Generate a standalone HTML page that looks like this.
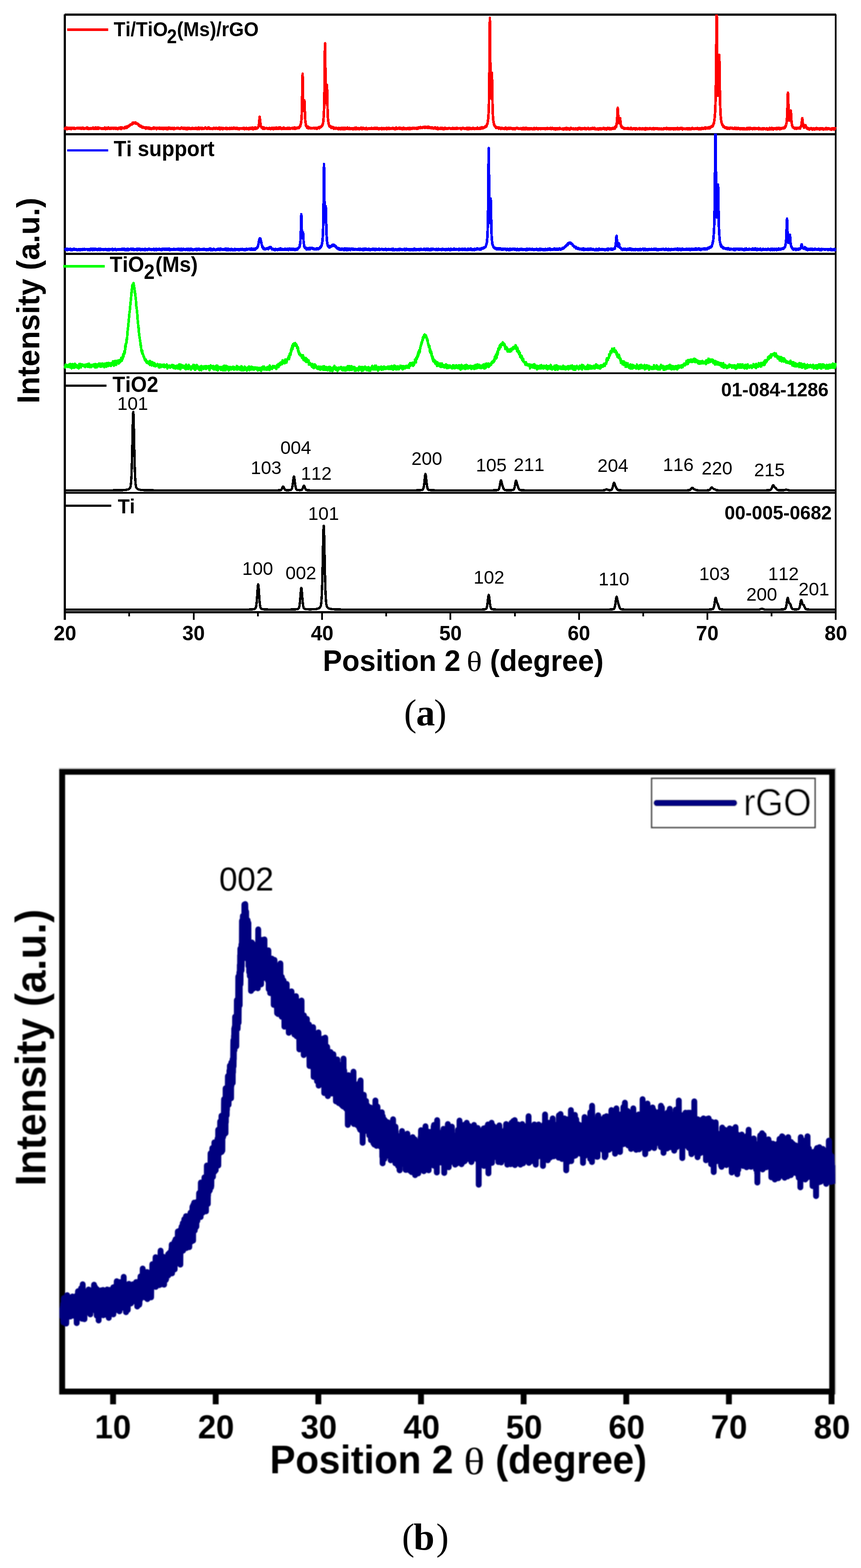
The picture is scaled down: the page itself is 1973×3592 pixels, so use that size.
<!DOCTYPE html>
<html lang="en"><head><meta charset="utf-8"><title>XRD patterns</title>
<style>
html,body{margin:0;padding:0;background:#fff;}
body{width:1973px;height:3592px;overflow:hidden;}
svg{display:block;position:absolute;left:0;top:0;}
text{fill:#000;font-kerning:none;}
.b{font-family:"Liberation Sans",sans-serif;font-weight:bold;}
.r{font-family:"Liberation Sans",sans-serif;font-weight:normal;}
.s{font-family:"Liberation Serif",serif;}
</style></head>
<body>
<svg width="1973" height="3592" viewBox="0 0 1973 3592">
<defs><filter id="blur" x="-2%" y="-2%" width="104%" height="104%"><feGaussianBlur stdDeviation="1.1"/></filter></defs>
<rect x="0" y="0" width="1973" height="3592" fill="#fff"/>
<g id="figA">
<g fill="#000" shape-rendering="crispEdges">
<rect x="146" y="33" width="5" height="1387"/>
<rect x="1913" y="33" width="4" height="1387"/>
<rect x="148" y="31" width="1768" height="5"/>
<rect x="148" y="305" width="1767" height="5"/>
<rect x="148" y="579" width="1767" height="5"/>
<rect x="148" y="853" width="1767" height="4"/>
<rect x="148" y="1127" width="1767" height="4"/>
<rect x="148" y="1400" width="1767" height="5"/>
<rect x="294" y="1402" width="4" height="10"/>
<rect x="442" y="1402" width="4" height="18"/>
<rect x="589" y="1402" width="4" height="10"/>
<rect x="736" y="1402" width="4" height="18"/>
<rect x="883" y="1402" width="4" height="10"/>
<rect x="1030" y="1402" width="4" height="18"/>
<rect x="1178" y="1402" width="4" height="10"/>
<rect x="1325" y="1402" width="4" height="18"/>
<rect x="1472" y="1402" width="4" height="10"/>
<rect x="1619" y="1402" width="4" height="18"/>
<rect x="1766" y="1402" width="4" height="10"/>
</g>
<clipPath id="c1"><rect x="146" y="33" width="1771" height="275"/></clipPath>
<path d="M148.5,292.8 L149.0,295.1 L149.5,293.2 L150.0,293.8 L150.5,293.9 L151.0,293.3 L151.5,292.8 L152.0,294.5 L152.5,294.3 L153.0,292.3 L153.5,296.0 L154.0,294.8 L154.5,293.3 L155.0,294.7 L155.5,293.6 L156.0,293.9 L156.5,294.6 L157.0,292.9 L157.5,294.5 L158.0,295.2 L158.5,295.1 L159.0,293.7 L159.5,294.7 L160.0,292.6 L160.5,293.8 L161.0,294.4 L161.5,292.8 L162.0,293.9 L162.5,295.4 L163.0,296.0 L163.5,294.6 L164.0,294.7 L164.5,293.2 L165.0,293.0 L165.5,292.8 L166.0,294.4 L166.5,294.6 L167.0,293.4 L167.5,292.9 L168.0,294.2 L168.5,294.2 L169.0,293.9 L169.5,295.1 L170.0,293.9 L170.5,293.9 L171.0,293.0 L171.5,294.1 L172.0,295.1 L172.5,294.0 L173.0,294.0 L173.5,294.4 L174.0,294.2 L174.5,294.4 L175.0,294.4 L175.5,294.5 L176.0,293.3 L176.5,294.2 L177.0,292.6 L177.5,294.2 L178.0,292.9 L178.5,293.9 L179.0,294.4 L179.5,293.6 L180.0,294.1 L180.5,292.6 L181.0,293.3 L181.5,294.6 L182.0,293.0 L182.5,294.5 L183.0,292.8 L183.5,293.2 L184.0,293.1 L184.5,294.0 L185.0,294.4 L185.5,293.1 L186.0,293.8 L186.5,295.4 L187.0,293.7 L187.5,293.3 L188.0,294.3 L188.5,293.8 L189.0,293.4 L189.5,292.5 L190.0,294.7 L190.5,293.5 L191.0,294.0 L191.5,293.1 L192.0,295.1 L192.5,294.6 L193.0,294.8 L193.5,293.9 L194.0,294.4 L194.5,294.7 L195.0,294.9 L195.5,294.3 L196.0,293.9 L196.5,293.7 L197.0,293.4 L197.5,293.2 L198.0,294.3 L198.5,293.8 L199.0,292.3 L199.5,293.9 L200.0,294.9 L200.5,293.8 L201.0,292.4 L201.5,293.9 L202.0,294.7 L202.5,294.2 L203.0,293.6 L203.5,295.6 L204.0,295.6 L204.5,293.9 L205.0,294.7 L205.5,294.3 L206.0,294.6 L206.5,295.2 L207.0,294.7 L207.5,294.1 L208.0,293.4 L208.5,293.3 L209.0,294.0 L209.5,295.0 L210.0,294.2 L210.5,294.0 L211.0,294.2 L211.5,294.0 L212.0,294.4 L212.5,293.0 L213.0,292.3 L213.5,293.6 L214.0,293.0 L214.5,295.4 L215.0,293.8 L215.5,293.8 L216.0,292.7 L216.5,294.2 L217.0,293.4 L217.5,294.9 L218.0,294.7 L218.5,293.3 L219.0,294.3 L219.5,291.9 L220.0,293.4 L220.5,295.0 L221.0,294.6 L221.5,294.1 L222.0,294.0 L222.5,292.8 L223.0,292.8 L223.5,294.2 L224.0,295.5 L224.5,292.1 L225.0,294.5 L225.5,294.5 L226.0,294.8 L226.5,293.2 L227.0,293.5 L227.5,294.0 L228.0,293.1 L228.5,292.9 L229.0,293.2 L229.5,293.9 L230.0,294.3 L230.5,293.9 L231.0,294.0 L231.5,293.4 L232.0,293.4 L232.5,294.9 L233.0,293.9 L233.5,293.9 L234.0,294.8 L234.5,295.0 L235.0,295.0 L235.5,294.3 L236.0,293.9 L236.5,294.2 L237.0,294.1 L237.5,295.1 L238.0,294.2 L238.5,294.5 L239.0,293.9 L239.5,295.1 L240.0,292.2 L240.5,294.3 L241.0,294.6 L241.5,293.0 L242.0,295.8 L242.5,293.8 L243.0,293.8 L243.5,293.0 L244.0,294.7 L244.5,294.1 L245.0,293.4 L245.5,294.1 L246.0,294.5 L246.5,295.0 L247.0,294.1 L247.5,293.1 L248.0,293.5 L248.5,292.0 L249.0,293.3 L249.5,294.5 L250.0,294.3 L250.5,293.8 L251.0,293.6 L251.5,295.3 L252.0,294.1 L252.5,294.7 L253.0,294.2 L253.5,293.3 L254.0,295.2 L254.5,292.8 L255.0,292.9 L255.5,293.5 L256.0,293.3 L256.5,293.4 L257.0,293.4 L257.5,294.7 L258.0,293.9 L258.5,294.2 L259.0,292.5 L259.5,293.1 L260.0,294.8 L260.5,292.8 L261.0,294.9 L261.5,293.0 L262.0,294.1 L262.5,293.1 L263.0,294.0 L263.5,293.1 L264.0,293.6 L264.5,295.2 L265.0,293.5 L265.5,295.5 L266.0,293.4 L266.5,292.8 L267.0,293.9 L267.5,293.4 L268.0,295.3 L268.5,294.5 L269.0,294.8 L269.5,294.3 L270.0,295.8 L270.5,294.4 L271.0,294.2 L271.5,293.0 L272.0,292.9 L272.5,293.9 L273.0,294.5 L273.5,294.6 L274.0,292.9 L274.5,294.1 L275.0,293.8 L275.5,292.7 L276.0,294.0 L276.5,291.6 L277.0,293.8 L277.5,295.6 L278.0,292.6 L278.5,293.5 L279.0,291.8 L279.5,292.8 L280.0,294.0 L280.5,292.5 L281.0,293.3 L281.5,293.0 L282.0,292.9 L282.5,293.3 L283.0,293.5 L283.5,294.1 L284.0,293.7 L284.5,292.4 L285.0,294.0 L285.5,293.8 L286.0,291.3 L286.5,293.0 L287.0,293.1 L287.5,293.1 L288.0,292.6 L288.5,290.9 L289.0,291.6 L289.5,289.9 L290.0,291.3 L290.5,293.0 L291.0,291.7 L291.5,291.6 L292.0,290.2 L292.5,289.6 L293.0,289.3 L293.5,290.0 L294.0,289.0 L294.5,288.8 L295.0,290.1 L295.5,287.4 L296.0,287.4 L296.5,287.7 L297.0,287.7 L297.5,287.4 L298.0,286.0 L298.5,287.0 L299.0,286.4 L299.5,286.4 L300.0,284.8 L300.5,285.6 L301.0,285.3 L301.5,284.2 L302.0,284.2 L302.5,283.6 L303.0,284.9 L303.5,281.4 L304.0,281.9 L304.5,281.5 L305.0,282.3 L305.5,281.9 L306.0,281.9 L306.5,282.7 L307.0,280.6 L307.5,281.1 L308.0,281.6 L308.5,280.7 L309.0,282.0 L309.5,282.0 L310.0,281.2 L310.5,280.4 L311.0,283.4 L311.5,282.5 L312.0,282.7 L312.5,282.6 L313.0,282.8 L313.5,283.7 L314.0,283.3 L314.5,283.0 L315.0,284.5 L315.5,284.3 L316.0,283.9 L316.5,284.1 L317.0,286.2 L317.5,286.1 L318.0,287.6 L318.5,285.8 L319.0,286.0 L319.5,287.3 L320.0,288.5 L320.5,288.2 L321.0,288.3 L321.5,289.9 L322.0,288.0 L322.5,287.9 L323.0,288.6 L323.5,289.2 L324.0,290.1 L324.5,290.9 L325.0,290.6 L325.5,291.8 L326.0,290.1 L326.5,292.6 L327.0,290.5 L327.5,292.4 L328.0,290.8 L328.5,292.0 L329.0,291.9 L329.5,292.5 L330.0,292.8 L330.5,292.1 L331.0,292.4 L331.5,292.8 L332.0,291.6 L332.5,292.1 L333.0,291.5 L333.5,292.9 L334.0,294.9 L334.5,293.7 L335.0,292.4 L335.5,292.6 L336.0,294.1 L336.5,292.9 L337.0,292.0 L337.5,292.5 L338.0,292.5 L338.5,292.6 L339.0,294.1 L339.5,293.6 L340.0,292.3 L340.5,293.1 L341.0,292.6 L341.5,292.6 L342.0,292.4 L342.5,295.2 L343.0,293.4 L343.5,294.2 L344.0,294.5 L344.5,293.4 L345.0,294.2 L345.5,294.2 L346.0,294.0 L346.5,295.6 L347.0,294.0 L347.5,293.6 L348.0,294.4 L348.5,295.3 L349.0,294.7 L349.5,293.4 L350.0,293.1 L350.5,293.1 L351.0,293.3 L351.5,294.2 L352.0,294.6 L352.5,291.9 L353.0,293.9 L353.5,292.9 L354.0,294.5 L354.5,294.7 L355.0,293.2 L355.5,293.5 L356.0,293.1 L356.5,294.2 L357.0,292.5 L357.5,293.0 L358.0,293.3 L358.5,295.0 L359.0,296.0 L359.5,294.0 L360.0,292.9 L360.5,294.0 L361.0,293.2 L361.5,294.3 L362.0,293.0 L362.5,293.6 L363.0,294.0 L363.5,294.4 L364.0,293.9 L364.5,295.0 L365.0,294.1 L365.5,292.4 L366.0,294.8 L366.5,293.7 L367.0,293.4 L367.5,295.3 L368.0,293.1 L368.5,294.1 L369.0,293.4 L369.5,295.2 L370.0,293.7 L370.5,294.2 L371.0,292.8 L371.5,295.2 L372.0,293.1 L372.5,294.8 L373.0,295.0 L373.5,295.1 L374.0,295.6 L374.5,293.0 L375.0,294.4 L375.5,294.1 L376.0,294.4 L376.5,295.0 L377.0,294.1 L377.5,293.3 L378.0,294.0 L378.5,295.3 L379.0,293.0 L379.5,294.1 L380.0,293.2 L380.5,295.0 L381.0,292.6 L381.5,293.8 L382.0,293.9 L382.5,294.2 L383.0,296.1 L383.5,295.4 L384.0,293.2 L384.5,295.9 L385.0,293.0 L385.5,292.5 L386.0,292.8 L386.5,294.2 L387.0,294.5 L387.5,292.2 L388.0,294.4 L388.5,293.8 L389.0,294.7 L389.5,293.7 L390.0,294.8 L390.5,294.6 L391.0,293.1 L391.5,295.3 L392.0,294.3 L392.5,294.7 L393.0,295.2 L393.5,293.3 L394.0,294.0 L394.5,293.4 L395.0,293.3 L395.5,294.3 L396.0,294.4 L396.5,295.2 L397.0,295.3 L397.5,294.1 L398.0,293.4 L398.5,296.1 L399.0,295.9 L399.5,294.0 L400.0,293.3 L400.5,293.7 L401.0,294.3 L401.5,295.1 L402.0,294.9 L402.5,294.5 L403.0,293.9 L403.5,294.2 L404.0,293.8 L404.5,294.2 L405.0,294.0 L405.5,294.6 L406.0,292.5 L406.5,293.8 L407.0,293.9 L407.5,293.2 L408.0,294.0 L408.5,293.2 L409.0,293.5 L409.5,293.9 L410.0,293.9 L410.5,293.6 L411.0,295.1 L411.5,294.3 L412.0,294.4 L412.5,294.3 L413.0,293.6 L413.5,293.4 L414.0,294.8 L414.5,293.8 L415.0,292.6 L415.5,292.3 L416.0,294.3 L416.5,293.5 L417.0,294.1 L417.5,293.7 L418.0,293.8 L418.5,294.0 L419.0,293.1 L419.5,294.1 L420.0,295.0 L420.5,294.7 L421.0,292.7 L421.5,293.0 L422.0,293.0 L422.5,293.9 L423.0,294.9 L423.5,294.4 L424.0,292.6 L424.5,294.2 L425.0,294.8 L425.5,293.8 L426.0,295.8 L426.5,293.6 L427.0,295.1 L427.5,296.1 L428.0,293.1 L428.5,293.9 L429.0,294.6 L429.5,296.2 L430.0,292.6 L430.5,294.6 L431.0,294.4 L431.5,293.8 L432.0,293.4 L432.5,293.7 L433.0,293.9 L433.5,293.1 L434.0,295.5 L434.5,293.2 L435.0,293.8 L435.5,293.6 L436.0,293.8 L436.5,294.2 L437.0,293.5 L437.5,294.0 L438.0,295.6 L438.5,295.1 L439.0,293.9 L439.5,294.9 L440.0,293.5 L440.5,294.3 L441.0,292.9 L441.5,293.2 L442.0,293.4 L442.5,295.2 L443.0,294.4 L443.5,294.6 L444.0,294.3 L444.5,294.5 L445.0,294.5 L445.5,294.8 L446.0,294.3 L446.5,293.4 L447.0,293.5 L447.5,295.2 L448.0,295.4 L448.5,294.6 L449.0,292.8 L449.5,295.5 L450.0,294.4 L450.5,294.1 L451.0,294.2 L451.5,293.8 L452.0,295.7 L452.5,295.6 L453.0,293.3 L453.5,294.0 L454.0,294.4 L454.5,295.3 L455.0,292.1 L455.5,295.0 L456.0,295.6 L456.5,293.9 L457.0,294.1 L457.5,295.2 L458.0,294.5 L458.5,293.0 L459.0,293.2 L459.5,293.3 L460.0,293.0 L460.5,294.2 L461.0,293.7 L461.5,294.2 L462.0,294.8 L462.5,295.7 L463.0,294.3 L463.5,292.6 L464.0,295.3 L464.5,294.1 L465.0,295.2 L465.5,293.8 L466.0,294.4 L466.5,294.1 L467.0,294.1 L467.5,295.3 L468.0,293.6 L468.5,294.3 L469.0,294.4 L469.5,293.8 L470.0,292.3 L470.5,294.5 L471.0,292.1 L471.5,292.9 L472.0,293.8 L472.5,294.5 L473.0,294.9 L473.5,294.9 L474.0,294.7 L474.5,293.9 L475.0,295.2 L475.5,293.9 L476.0,295.1 L476.5,292.3 L477.0,293.4 L477.5,293.7 L478.0,294.2 L478.5,292.1 L479.0,294.9 L479.5,295.0 L480.0,294.8 L480.5,293.7 L481.0,295.4 L481.5,293.7 L482.0,295.0 L482.5,294.1 L483.0,294.2 L483.5,294.0 L484.0,294.2 L484.5,295.1 L485.0,295.4 L485.5,295.4 L486.0,295.0 L486.5,294.8 L487.0,294.6 L487.5,295.7 L488.0,293.8 L488.5,293.6 L489.0,294.2 L489.5,292.8 L490.0,294.0 L490.5,294.1 L491.0,293.3 L491.5,293.7 L492.0,294.8 L492.5,294.0 L493.0,294.3 L493.5,295.1 L494.0,293.7 L494.5,293.2 L495.0,294.2 L495.5,294.5 L496.0,292.6 L496.5,294.7 L497.0,293.9 L497.5,293.8 L498.0,293.5 L498.5,294.0 L499.0,295.0 L499.5,294.6 L500.0,294.9 L500.5,293.9 L501.0,295.5 L501.5,295.3 L502.0,294.2 L502.5,292.2 L503.0,294.2 L503.5,296.2 L504.0,294.2 L504.5,293.3 L505.0,295.7 L505.5,293.7 L506.0,294.6 L506.5,294.9 L507.0,292.9 L507.5,294.3 L508.0,295.2 L508.5,293.9 L509.0,294.8 L509.5,294.2 L510.0,295.1 L510.5,295.8 L511.0,293.3 L511.5,294.0 L512.0,294.5 L512.5,293.7 L513.0,293.5 L513.5,293.9 L514.0,294.0 L514.5,293.7 L515.0,294.5 L515.5,294.9 L516.0,294.8 L516.5,294.8 L517.0,295.2 L517.5,293.1 L518.0,294.1 L518.5,294.4 L519.0,294.7 L519.5,292.8 L520.0,295.8 L520.5,293.5 L521.0,294.4 L521.5,294.8 L522.0,295.1 L522.5,293.6 L523.0,293.8 L523.5,294.5 L524.0,294.7 L524.5,295.0 L525.0,294.2 L525.5,293.6 L526.0,293.1 L526.5,295.7 L527.0,293.0 L527.5,294.8 L528.0,294.5 L528.5,294.9 L529.0,295.0 L529.5,295.4 L530.0,294.2 L530.5,294.6 L531.0,292.6 L531.5,294.3 L532.0,293.4 L532.5,294.1 L533.0,295.3 L533.5,294.3 L534.0,295.1 L534.5,294.1 L535.0,294.6 L535.5,293.9 L536.0,292.2 L536.5,293.6 L537.0,294.0 L537.5,294.4 L538.0,294.2 L538.5,294.1 L539.0,295.0 L539.5,294.8 L540.0,293.9 L540.5,295.0 L541.0,292.5 L541.5,294.0 L542.0,294.1 L542.5,295.3 L543.0,293.8 L543.5,293.0 L544.0,294.4 L544.5,295.7 L545.0,294.0 L545.5,294.1 L546.0,294.1 L546.5,294.3 L547.0,295.3 L547.5,295.9 L548.0,294.6 L548.5,294.1 L549.0,295.8 L549.5,294.3 L550.0,294.3 L550.5,293.9 L551.0,294.0 L551.5,294.4 L552.0,294.0 L552.5,294.6 L553.0,294.3 L553.5,294.7 L554.0,293.9 L554.5,294.1 L555.0,294.4 L555.5,294.3 L556.0,294.3 L556.5,295.2 L557.0,293.3 L557.5,292.6 L558.0,294.8 L558.5,294.0 L559.0,295.4 L559.5,294.1 L560.0,293.2 L560.5,296.1 L561.0,294.6 L561.5,293.8 L562.0,293.6 L562.5,294.7 L563.0,293.6 L563.5,294.5 L564.0,295.2 L564.5,293.0 L565.0,293.9 L565.5,294.6 L566.0,295.6 L566.5,295.0 L567.0,293.8 L567.5,295.4 L568.0,293.9 L568.5,294.1 L569.0,294.5 L569.5,293.3 L570.0,296.2 L570.5,295.2 L571.0,294.4 L571.5,293.7 L572.0,293.2 L572.5,294.5 L573.0,294.8 L573.5,293.8 L574.0,294.0 L574.5,294.6 L575.0,294.1 L575.5,292.6 L576.0,294.7 L576.5,294.3 L577.0,294.7 L577.5,293.5 L578.0,292.3 L578.5,293.0 L579.0,294.3 L579.5,295.8 L580.0,296.1 L580.5,294.3 L581.0,292.8 L581.5,293.7 L582.0,294.4 L582.5,294.3 L583.0,294.0 L583.5,295.1 L584.0,293.1 L584.5,292.0 L585.0,293.1 L585.5,292.8 L586.0,295.6 L586.5,293.5 L587.0,292.4 L587.5,294.0 L588.0,294.2 L588.5,293.3 L589.0,293.3 L589.5,293.8 L590.0,293.1 L590.5,291.7 L591.0,292.3 L591.5,292.0 L592.0,290.6 L592.5,289.7 L593.0,287.4 L593.5,283.5 L594.0,278.6 L594.5,272.8 L595.0,267.3 L595.5,270.9 L596.0,277.3 L596.5,280.2 L597.0,285.7 L597.5,287.6 L598.0,289.3 L598.5,291.0 L599.0,291.4 L599.5,292.6 L600.0,292.8 L600.5,293.1 L601.0,292.4 L601.5,292.9 L602.0,294.6 L602.5,291.4 L603.0,295.0 L603.5,293.2 L604.0,294.7 L604.5,291.7 L605.0,293.4 L605.5,294.6 L606.0,294.0 L606.5,294.8 L607.0,293.2 L607.5,293.5 L608.0,293.4 L608.5,294.4 L609.0,294.4 L609.5,293.9 L610.0,293.8 L610.5,293.8 L611.0,294.1 L611.5,293.3 L612.0,294.0 L612.5,294.0 L613.0,293.7 L613.5,293.6 L614.0,295.4 L614.5,293.6 L615.0,294.5 L615.5,295.3 L616.0,294.8 L616.5,294.2 L617.0,295.0 L617.5,292.9 L618.0,293.1 L618.5,293.8 L619.0,294.0 L619.5,294.1 L620.0,295.8 L620.5,295.6 L621.0,294.1 L621.5,294.4 L622.0,293.4 L622.5,294.5 L623.0,293.0 L623.5,295.4 L624.0,293.7 L624.5,294.7 L625.0,293.1 L625.5,295.4 L626.0,294.7 L626.5,295.9 L627.0,294.3 L627.5,292.8 L628.0,293.5 L628.5,293.1 L629.0,295.5 L629.5,293.7 L630.0,293.6 L630.5,294.7 L631.0,294.4 L631.5,294.6 L632.0,293.8 L632.5,292.5 L633.0,293.0 L633.5,292.3 L634.0,295.3 L634.5,295.0 L635.0,293.9 L635.5,294.7 L636.0,294.8 L636.5,294.7 L637.0,294.6 L637.5,294.9 L638.0,294.3 L638.5,292.3 L639.0,292.2 L639.5,295.3 L640.0,294.7 L640.5,292.1 L641.0,294.3 L641.5,293.4 L642.0,293.7 L642.5,292.1 L643.0,294.8 L643.5,294.1 L644.0,294.9 L644.5,295.1 L645.0,295.3 L645.5,295.6 L646.0,294.4 L646.5,294.4 L647.0,293.6 L647.5,294.6 L648.0,294.0 L648.5,293.2 L649.0,295.2 L649.5,294.8 L650.0,292.1 L650.5,292.6 L651.0,294.0 L651.5,293.0 L652.0,295.2 L652.5,294.3 L653.0,294.6 L653.5,294.9 L654.0,295.3 L654.5,293.9 L655.0,294.7 L655.5,294.3 L656.0,294.8 L656.5,294.6 L657.0,295.3 L657.5,294.6 L658.0,293.7 L658.5,294.2 L659.0,293.1 L659.5,294.4 L660.0,295.4 L660.5,293.6 L661.0,292.7 L661.5,294.0 L662.0,293.6 L662.5,294.1 L663.0,293.5 L663.5,294.1 L664.0,293.2 L664.5,295.4 L665.0,293.8 L665.5,294.4 L666.0,294.7 L666.5,293.9 L667.0,294.4 L667.5,293.8 L668.0,293.6 L668.5,293.7 L669.0,294.3 L669.5,292.8 L670.0,293.1 L670.5,293.2 L671.0,293.4 L671.5,294.8 L672.0,293.8 L672.5,293.5 L673.0,293.9 L673.5,294.7 L674.0,293.1 L674.5,294.6 L675.0,291.7 L675.5,292.9 L676.0,294.9 L676.5,294.9 L677.0,293.7 L677.5,293.1 L678.0,294.1 L678.5,293.0 L679.0,294.6 L679.5,294.2 L680.0,293.8 L680.5,292.4 L681.0,293.8 L681.5,292.7 L682.0,292.6 L682.5,292.3 L683.0,292.4 L683.5,292.7 L684.0,292.8 L684.5,292.6 L685.0,293.6 L685.5,291.0 L686.0,291.8 L686.5,289.8 L687.0,289.6 L687.5,288.1 L688.0,289.2 L688.5,287.2 L689.0,285.6 L689.5,283.3 L690.0,281.2 L690.5,275.8 L691.0,270.1 L691.5,261.4 L692.0,242.5 L692.5,214.9 L693.0,180.7 L693.5,169.1 L694.0,192.7 L694.5,222.8 L695.0,242.7 L695.5,253.2 L696.0,254.4 L696.5,252.2 L697.0,239.0 L697.5,229.9 L698.0,237.3 L698.5,252.3 L699.0,265.6 L699.5,274.8 L700.0,280.2 L700.5,282.5 L701.0,287.2 L701.5,287.8 L702.0,289.6 L702.5,290.4 L703.0,289.9 L703.5,292.6 L704.0,291.2 L704.5,289.8 L705.0,289.7 L705.5,292.0 L706.0,292.9 L706.5,292.4 L707.0,294.0 L707.5,292.4 L708.0,293.2 L708.5,293.5 L709.0,292.1 L709.5,293.3 L710.0,293.4 L710.5,294.1 L711.0,294.2 L711.5,294.1 L712.0,292.6 L712.5,294.0 L713.0,294.3 L713.5,293.4 L714.0,294.1 L714.5,294.1 L715.0,294.5 L715.5,293.5 L716.0,293.9 L716.5,293.7 L717.0,293.6 L717.5,293.0 L718.0,293.2 L718.5,292.6 L719.0,293.3 L719.5,294.1 L720.0,294.0 L720.5,294.1 L721.0,293.4 L721.5,294.7 L722.0,293.1 L722.5,294.1 L723.0,293.8 L723.5,292.8 L724.0,292.8 L724.5,294.0 L725.0,293.4 L725.5,293.5 L726.0,295.2 L726.5,293.7 L727.0,293.3 L727.5,293.7 L728.0,292.5 L728.5,292.8 L729.0,293.3 L729.5,292.2 L730.0,292.7 L730.5,292.5 L731.0,292.7 L731.5,290.9 L732.0,293.8 L732.5,292.1 L733.0,292.5 L733.5,290.9 L734.0,290.5 L734.5,291.4 L735.0,290.8 L735.5,291.3 L736.0,289.6 L736.5,289.1 L737.0,289.7 L737.5,289.4 L738.0,288.8 L738.5,287.0 L739.0,286.1 L739.5,283.7 L740.0,283.5 L740.5,280.8 L741.0,277.3 L741.5,270.0 L742.0,264.8 L742.5,252.3 L743.0,235.5 L743.5,206.0 L744.0,160.4 L744.5,107.3 L745.0,99.3 L745.5,143.9 L746.0,190.1 L746.5,220.0 L747.0,232.6 L747.5,236.8 L748.0,228.6 L748.5,210.9 L749.0,194.0 L749.5,199.6 L750.0,223.6 L750.5,247.0 L751.0,261.7 L751.5,271.3 L752.0,275.9 L752.5,280.0 L753.0,283.0 L753.5,285.6 L754.0,287.2 L754.5,287.2 L755.0,290.0 L755.5,289.6 L756.0,289.2 L756.5,289.0 L757.0,290.3 L757.5,289.1 L758.0,291.6 L758.5,292.1 L759.0,293.0 L759.5,292.5 L760.0,290.8 L760.5,292.2 L761.0,293.2 L761.5,290.9 L762.0,292.1 L762.5,293.4 L763.0,293.0 L763.5,291.4 L764.0,292.7 L764.5,293.2 L765.0,295.1 L765.5,293.0 L766.0,292.6 L766.5,293.7 L767.0,293.8 L767.5,294.0 L768.0,294.8 L768.5,293.6 L769.0,292.5 L769.5,293.7 L770.0,293.7 L770.5,294.6 L771.0,294.5 L771.5,293.2 L772.0,294.5 L772.5,294.7 L773.0,293.7 L773.5,294.7 L774.0,294.1 L774.5,294.1 L775.0,293.8 L775.5,294.7 L776.0,296.0 L776.5,294.2 L777.0,293.0 L777.5,293.8 L778.0,293.6 L778.5,294.3 L779.0,294.0 L779.5,296.1 L780.0,294.7 L780.5,295.7 L781.0,293.5 L781.5,293.9 L782.0,295.9 L782.5,292.7 L783.0,294.3 L783.5,292.8 L784.0,295.5 L784.5,293.0 L785.0,293.9 L785.5,294.0 L786.0,292.8 L786.5,296.2 L787.0,294.1 L787.5,295.6 L788.0,293.6 L788.5,293.0 L789.0,294.4 L789.5,294.4 L790.0,296.2 L790.5,293.3 L791.0,292.9 L791.5,293.7 L792.0,294.5 L792.5,294.7 L793.0,293.6 L793.5,294.0 L794.0,294.7 L794.5,295.2 L795.0,293.8 L795.5,294.4 L796.0,292.2 L796.5,293.5 L797.0,294.7 L797.5,294.3 L798.0,294.1 L798.5,295.7 L799.0,294.1 L799.5,293.4 L800.0,294.5 L800.5,294.5 L801.0,293.3 L801.5,295.2 L802.0,295.8 L802.5,293.8 L803.0,293.6 L803.5,294.3 L804.0,295.4 L804.5,293.9 L805.0,293.7 L805.5,293.8 L806.0,294.5 L806.5,294.5 L807.0,294.2 L807.5,295.4 L808.0,296.3 L808.5,293.9 L809.0,295.2 L809.5,294.6 L810.0,296.4 L810.5,293.6 L811.0,294.1 L811.5,294.5 L812.0,293.2 L812.5,294.2 L813.0,295.0 L813.5,293.1 L814.0,294.5 L814.5,295.9 L815.0,293.9 L815.5,293.6 L816.0,292.3 L816.5,294.3 L817.0,293.0 L817.5,294.9 L818.0,295.8 L818.5,294.9 L819.0,293.7 L819.5,294.9 L820.0,294.0 L820.5,293.4 L821.0,294.0 L821.5,294.6 L822.0,294.1 L822.5,294.8 L823.0,296.2 L823.5,294.9 L824.0,295.0 L824.5,293.8 L825.0,295.5 L825.5,294.7 L826.0,295.3 L826.5,293.7 L827.0,294.6 L827.5,292.4 L828.0,294.1 L828.5,293.7 L829.0,293.5 L829.5,295.9 L830.0,293.1 L830.5,294.3 L831.0,294.3 L831.5,294.9 L832.0,295.3 L832.5,293.0 L833.0,293.9 L833.5,293.8 L834.0,295.0 L834.5,295.2 L835.0,294.1 L835.5,293.9 L836.0,293.5 L836.5,294.7 L837.0,295.8 L837.5,294.7 L838.0,293.8 L838.5,293.7 L839.0,293.8 L839.5,293.0 L840.0,295.9 L840.5,294.5 L841.0,294.1 L841.5,296.3 L842.0,294.6 L842.5,295.7 L843.0,294.6 L843.5,295.3 L844.0,294.5 L844.5,294.1 L845.0,294.8 L845.5,295.0 L846.0,295.3 L846.5,294.6 L847.0,294.2 L847.5,294.1 L848.0,294.7 L848.5,294.0 L849.0,294.1 L849.5,294.9 L850.0,294.9 L850.5,294.8 L851.0,293.8 L851.5,293.2 L852.0,294.7 L852.5,294.5 L853.0,294.1 L853.5,294.6 L854.0,295.1 L854.5,294.2 L855.0,294.8 L855.5,293.6 L856.0,294.2 L856.5,293.7 L857.0,293.2 L857.5,294.8 L858.0,292.4 L858.5,294.4 L859.0,295.1 L859.5,294.8 L860.0,293.1 L860.5,294.6 L861.0,292.9 L861.5,293.7 L862.0,295.6 L862.5,294.6 L863.0,295.4 L863.5,293.5 L864.0,292.7 L864.5,293.8 L865.0,295.5 L865.5,295.2 L866.0,295.3 L866.5,294.3 L867.0,294.4 L867.5,294.3 L868.0,296.5 L868.5,294.5 L869.0,295.9 L869.5,294.3 L870.0,295.6 L870.5,293.5 L871.0,294.0 L871.5,294.7 L872.0,293.9 L872.5,294.1 L873.0,294.3 L873.5,294.0 L874.0,295.8 L874.5,295.4 L875.0,293.3 L875.5,295.9 L876.0,294.4 L876.5,294.4 L877.0,294.3 L877.5,295.2 L878.0,295.1 L878.5,294.0 L879.0,294.5 L879.5,293.3 L880.0,296.0 L880.5,293.7 L881.0,293.7 L881.5,293.8 L882.0,294.6 L882.5,295.1 L883.0,294.2 L883.5,294.5 L884.0,294.2 L884.5,295.6 L885.0,294.7 L885.5,293.0 L886.0,295.7 L886.5,294.7 L887.0,296.1 L887.5,293.9 L888.0,294.0 L888.5,294.3 L889.0,293.3 L889.5,294.1 L890.0,295.5 L890.5,295.1 L891.0,292.4 L891.5,295.6 L892.0,294.8 L892.5,295.2 L893.0,294.5 L893.5,294.6 L894.0,294.5 L894.5,294.5 L895.0,293.6 L895.5,295.4 L896.0,294.7 L896.5,294.8 L897.0,294.8 L897.5,294.2 L898.0,294.4 L898.5,293.3 L899.0,294.7 L899.5,294.7 L900.0,294.3 L900.5,293.0 L901.0,295.6 L901.5,294.3 L902.0,294.4 L902.5,294.2 L903.0,294.0 L903.5,294.1 L904.0,293.5 L904.5,294.0 L905.0,296.2 L905.5,295.5 L906.0,296.2 L906.5,293.9 L907.0,292.9 L907.5,293.3 L908.0,292.4 L908.5,295.4 L909.0,295.5 L909.5,294.6 L910.0,294.8 L910.5,294.8 L911.0,294.4 L911.5,295.1 L912.0,293.6 L912.5,294.1 L913.0,294.3 L913.5,293.0 L914.0,293.6 L914.5,294.8 L915.0,294.8 L915.5,292.4 L916.0,295.2 L916.5,294.8 L917.0,295.1 L917.5,294.4 L918.0,295.0 L918.5,293.4 L919.0,294.3 L919.5,293.5 L920.0,294.0 L920.5,295.4 L921.0,295.8 L921.5,294.5 L922.0,294.1 L922.5,295.1 L923.0,294.8 L923.5,296.1 L924.0,295.0 L924.5,292.4 L925.0,294.5 L925.5,294.2 L926.0,293.8 L926.5,294.5 L927.0,294.5 L927.5,294.1 L928.0,295.7 L928.5,294.7 L929.0,294.8 L929.5,294.6 L930.0,295.5 L930.5,293.5 L931.0,295.4 L931.5,294.2 L932.0,295.7 L932.5,295.6 L933.0,294.8 L933.5,294.0 L934.0,294.6 L934.5,294.7 L935.0,293.1 L935.5,294.1 L936.0,293.8 L936.5,295.5 L937.0,295.8 L937.5,293.7 L938.0,293.9 L938.5,293.2 L939.0,294.5 L939.5,295.0 L940.0,295.8 L940.5,293.2 L941.0,295.1 L941.5,294.1 L942.0,293.6 L942.5,293.9 L943.0,293.6 L943.5,294.6 L944.0,294.2 L944.5,295.2 L945.0,293.7 L945.5,292.5 L946.0,293.3 L946.5,294.4 L947.0,292.8 L947.5,293.4 L948.0,294.5 L948.5,292.8 L949.0,294.7 L949.5,294.2 L950.0,293.4 L950.5,293.8 L951.0,293.4 L951.5,293.5 L952.0,293.5 L952.5,293.7 L953.0,293.6 L953.5,293.0 L954.0,292.8 L954.5,295.3 L955.0,292.6 L955.5,293.4 L956.0,294.5 L956.5,294.2 L957.0,292.7 L957.5,295.0 L958.0,294.7 L958.5,292.9 L959.0,292.1 L959.5,293.6 L960.0,292.9 L960.5,292.7 L961.0,292.2 L961.5,292.4 L962.0,293.0 L962.5,293.5 L963.0,291.0 L963.5,290.7 L964.0,293.4 L964.5,291.8 L965.0,293.1 L965.5,292.5 L966.0,293.5 L966.5,293.1 L967.0,292.1 L967.5,292.1 L968.0,292.5 L968.5,292.8 L969.0,291.6 L969.5,290.8 L970.0,292.1 L970.5,292.0 L971.0,291.8 L971.5,291.1 L972.0,292.4 L972.5,290.4 L973.0,291.5 L973.5,293.0 L974.0,290.9 L974.5,292.2 L975.0,292.2 L975.5,292.2 L976.0,290.4 L976.5,292.7 L977.0,292.0 L977.5,292.3 L978.0,292.1 L978.5,291.9 L979.0,292.9 L979.5,293.1 L980.0,290.4 L980.5,291.3 L981.0,291.9 L981.5,290.2 L982.0,293.3 L982.5,291.5 L983.0,292.7 L983.5,292.4 L984.0,292.1 L984.5,291.5 L985.0,292.1 L985.5,292.5 L986.0,293.1 L986.5,292.4 L987.0,292.3 L987.5,292.4 L988.0,293.8 L988.5,293.0 L989.0,292.2 L989.5,291.8 L990.0,292.6 L990.5,292.2 L991.0,292.7 L991.5,294.2 L992.0,293.7 L992.5,293.4 L993.0,293.6 L993.5,294.7 L994.0,292.4 L994.5,293.8 L995.0,293.3 L995.5,293.6 L996.0,293.6 L996.5,293.3 L997.0,294.1 L997.5,291.8 L998.0,293.9 L998.5,294.3 L999.0,293.0 L999.5,293.0 L1000.0,295.4 L1000.5,293.1 L1001.0,293.6 L1001.5,293.3 L1002.0,293.4 L1002.5,293.4 L1003.0,292.2 L1003.5,296.1 L1004.0,293.5 L1004.5,294.4 L1005.0,294.0 L1005.5,295.3 L1006.0,294.7 L1006.5,295.1 L1007.0,295.2 L1007.5,294.9 L1008.0,294.3 L1008.5,295.0 L1009.0,292.9 L1009.5,295.0 L1010.0,294.9 L1010.5,294.6 L1011.0,293.2 L1011.5,295.5 L1012.0,293.8 L1012.5,294.9 L1013.0,292.8 L1013.5,294.2 L1014.0,293.8 L1014.5,293.7 L1015.0,293.8 L1015.5,295.9 L1016.0,294.4 L1016.5,294.7 L1017.0,296.2 L1017.5,293.2 L1018.0,295.7 L1018.5,294.1 L1019.0,293.9 L1019.5,294.1 L1020.0,292.9 L1020.5,293.1 L1021.0,293.5 L1021.5,294.0 L1022.0,295.1 L1022.5,295.4 L1023.0,294.1 L1023.5,294.8 L1024.0,294.8 L1024.5,294.3 L1025.0,294.7 L1025.5,294.0 L1026.0,294.9 L1026.5,294.3 L1027.0,294.5 L1027.5,294.7 L1028.0,294.6 L1028.5,293.9 L1029.0,293.3 L1029.5,294.4 L1030.0,294.0 L1030.5,294.0 L1031.0,294.4 L1031.5,293.9 L1032.0,294.9 L1032.5,294.8 L1033.0,293.7 L1033.5,294.8 L1034.0,293.7 L1034.5,295.1 L1035.0,295.0 L1035.5,294.5 L1036.0,295.2 L1036.5,295.3 L1037.0,294.9 L1037.5,292.9 L1038.0,294.6 L1038.5,294.7 L1039.0,295.2 L1039.5,293.7 L1040.0,295.1 L1040.5,294.8 L1041.0,294.8 L1041.5,293.4 L1042.0,293.8 L1042.5,295.4 L1043.0,295.2 L1043.5,294.4 L1044.0,295.4 L1044.5,294.7 L1045.0,294.1 L1045.5,293.1 L1046.0,295.3 L1046.5,294.4 L1047.0,294.7 L1047.5,293.0 L1048.0,294.0 L1048.5,294.7 L1049.0,294.3 L1049.5,293.9 L1050.0,293.5 L1050.5,294.7 L1051.0,294.2 L1051.5,294.2 L1052.0,294.2 L1052.5,293.9 L1053.0,294.2 L1053.5,294.0 L1054.0,294.5 L1054.5,293.3 L1055.0,293.5 L1055.5,294.5 L1056.0,294.3 L1056.5,294.6 L1057.0,296.2 L1057.5,295.1 L1058.0,295.4 L1058.5,294.8 L1059.0,294.4 L1059.5,293.8 L1060.0,292.9 L1060.5,293.3 L1061.0,292.5 L1061.5,293.5 L1062.0,293.1 L1062.5,293.6 L1063.0,294.4 L1063.5,294.1 L1064.0,295.2 L1064.5,295.2 L1065.0,295.3 L1065.5,295.2 L1066.0,294.7 L1066.5,294.0 L1067.0,294.8 L1067.5,294.2 L1068.0,294.3 L1068.5,294.8 L1069.0,293.5 L1069.5,293.1 L1070.0,294.7 L1070.5,295.9 L1071.0,295.4 L1071.5,296.5 L1072.0,293.2 L1072.5,293.9 L1073.0,292.5 L1073.5,293.7 L1074.0,296.0 L1074.5,295.8 L1075.0,293.5 L1075.5,294.1 L1076.0,293.7 L1076.5,293.2 L1077.0,294.2 L1077.5,294.1 L1078.0,294.4 L1078.5,294.6 L1079.0,294.9 L1079.5,295.5 L1080.0,294.3 L1080.5,294.2 L1081.0,294.3 L1081.5,294.7 L1082.0,294.2 L1082.5,293.5 L1083.0,293.9 L1083.5,294.9 L1084.0,293.4 L1084.5,295.0 L1085.0,293.1 L1085.5,294.8 L1086.0,294.8 L1086.5,294.1 L1087.0,294.2 L1087.5,294.0 L1088.0,295.6 L1088.5,293.9 L1089.0,293.6 L1089.5,294.5 L1090.0,295.1 L1090.5,294.5 L1091.0,294.0 L1091.5,295.0 L1092.0,293.5 L1092.5,293.5 L1093.0,293.1 L1093.5,295.1 L1094.0,292.2 L1094.5,293.0 L1095.0,294.2 L1095.5,294.4 L1096.0,295.5 L1096.5,294.3 L1097.0,293.5 L1097.5,295.1 L1098.0,294.8 L1098.5,294.8 L1099.0,294.7 L1099.5,294.2 L1100.0,292.5 L1100.5,292.8 L1101.0,295.3 L1101.5,293.7 L1102.0,292.1 L1102.5,293.6 L1103.0,294.3 L1103.5,293.8 L1104.0,293.4 L1104.5,291.4 L1105.0,293.3 L1105.5,293.1 L1106.0,294.5 L1106.5,293.0 L1107.0,292.9 L1107.5,292.4 L1108.0,292.6 L1108.5,292.8 L1109.0,292.0 L1109.5,291.5 L1110.0,291.0 L1110.5,291.9 L1111.0,291.3 L1111.5,291.1 L1112.0,289.8 L1112.5,290.0 L1113.0,288.8 L1113.5,290.7 L1114.0,290.4 L1114.5,289.1 L1115.0,287.9 L1115.5,287.5 L1116.0,284.8 L1116.5,283.6 L1117.0,284.1 L1117.5,280.1 L1118.0,278.1 L1118.5,273.9 L1119.0,267.2 L1119.5,261.3 L1120.0,251.6 L1120.5,234.8 L1121.0,203.7 L1121.5,158.3 L1122.0,92.4 L1122.5,41.0 L1123.0,64.7 L1123.5,130.9 L1124.0,182.2 L1124.5,209.6 L1125.0,222.5 L1125.5,225.4 L1126.0,213.7 L1126.5,190.8 L1127.0,166.8 L1127.5,173.6 L1128.0,207.1 L1128.5,234.2 L1129.0,252.0 L1129.5,264.3 L1130.0,272.2 L1130.5,276.7 L1131.0,280.3 L1131.5,281.2 L1132.0,284.0 L1132.5,287.0 L1133.0,287.1 L1133.5,287.6 L1134.0,289.9 L1134.5,289.1 L1135.0,290.7 L1135.5,290.7 L1136.0,291.2 L1136.5,292.1 L1137.0,293.4 L1137.5,292.8 L1138.0,291.2 L1138.5,291.2 L1139.0,292.0 L1139.5,292.3 L1140.0,293.2 L1140.5,292.8 L1141.0,293.0 L1141.5,291.5 L1142.0,293.0 L1142.5,293.6 L1143.0,294.7 L1143.5,294.0 L1144.0,293.4 L1144.5,292.4 L1145.0,293.5 L1145.5,293.5 L1146.0,293.5 L1146.5,293.8 L1147.0,294.1 L1147.5,294.1 L1148.0,295.6 L1148.5,293.0 L1149.0,292.5 L1149.5,294.2 L1150.0,292.9 L1150.5,293.7 L1151.0,293.9 L1151.5,293.3 L1152.0,294.7 L1152.5,294.6 L1153.0,294.2 L1153.5,294.6 L1154.0,294.8 L1154.5,293.8 L1155.0,294.6 L1155.5,294.2 L1156.0,294.1 L1156.5,293.8 L1157.0,295.6 L1157.5,294.5 L1158.0,293.0 L1158.5,294.6 L1159.0,292.2 L1159.5,294.5 L1160.0,294.9 L1160.5,295.5 L1161.0,294.4 L1161.5,293.7 L1162.0,295.9 L1162.5,295.2 L1163.0,295.4 L1163.5,294.1 L1164.0,294.9 L1164.5,292.8 L1165.0,294.7 L1165.5,292.6 L1166.0,293.5 L1166.5,293.1 L1167.0,295.3 L1167.5,295.1 L1168.0,293.9 L1168.5,295.4 L1169.0,294.4 L1169.5,292.7 L1170.0,294.1 L1170.5,292.9 L1171.0,294.5 L1171.5,294.7 L1172.0,293.8 L1172.5,295.1 L1173.0,295.3 L1173.5,293.7 L1174.0,294.9 L1174.5,294.3 L1175.0,294.2 L1175.5,295.9 L1176.0,293.8 L1176.5,294.1 L1177.0,294.4 L1177.5,294.9 L1178.0,295.1 L1178.5,293.7 L1179.0,295.6 L1179.5,296.0 L1180.0,296.2 L1180.5,294.6 L1181.0,294.1 L1181.5,293.6 L1182.0,294.8 L1182.5,294.4 L1183.0,294.4 L1183.5,294.0 L1184.0,292.6 L1184.5,294.3 L1185.0,294.4 L1185.5,294.2 L1186.0,293.3 L1186.5,294.3 L1187.0,294.4 L1187.5,293.6 L1188.0,295.1 L1188.5,294.5 L1189.0,294.6 L1189.5,294.9 L1190.0,294.3 L1190.5,294.5 L1191.0,295.0 L1191.5,295.2 L1192.0,295.3 L1192.5,294.4 L1193.0,295.2 L1193.5,295.5 L1194.0,293.4 L1194.5,294.2 L1195.0,294.5 L1195.5,294.6 L1196.0,296.1 L1196.5,295.6 L1197.0,294.5 L1197.5,294.5 L1198.0,293.4 L1198.5,293.7 L1199.0,295.7 L1199.5,293.1 L1200.0,295.1 L1200.5,294.0 L1201.0,294.3 L1201.5,294.5 L1202.0,296.1 L1202.5,294.9 L1203.0,295.0 L1203.5,295.5 L1204.0,292.7 L1204.5,296.2 L1205.0,293.2 L1205.5,294.0 L1206.0,295.2 L1206.5,293.6 L1207.0,293.1 L1207.5,295.6 L1208.0,294.3 L1208.5,295.4 L1209.0,295.0 L1209.5,294.5 L1210.0,296.1 L1210.5,294.4 L1211.0,296.3 L1211.5,293.9 L1212.0,293.8 L1212.5,294.1 L1213.0,294.8 L1213.5,293.7 L1214.0,294.0 L1214.5,295.9 L1215.0,294.8 L1215.5,295.6 L1216.0,295.0 L1216.5,294.2 L1217.0,294.0 L1217.5,294.8 L1218.0,294.7 L1218.5,294.2 L1219.0,294.2 L1219.5,295.9 L1220.0,295.5 L1220.5,294.9 L1221.0,294.4 L1221.5,294.3 L1222.0,296.4 L1222.5,294.2 L1223.0,296.6 L1223.5,294.1 L1224.0,293.4 L1224.5,296.4 L1225.0,294.6 L1225.5,296.0 L1226.0,295.0 L1226.5,294.5 L1227.0,295.5 L1227.5,294.4 L1228.0,295.0 L1228.5,294.6 L1229.0,293.2 L1229.5,295.0 L1230.0,294.2 L1230.5,294.6 L1231.0,295.0 L1231.5,293.5 L1232.0,295.1 L1232.5,295.2 L1233.0,296.3 L1233.5,295.4 L1234.0,295.0 L1234.5,294.1 L1235.0,294.7 L1235.5,293.5 L1236.0,295.0 L1236.5,294.5 L1237.0,294.4 L1237.5,294.7 L1238.0,295.1 L1238.5,294.9 L1239.0,293.7 L1239.5,295.8 L1240.0,294.7 L1240.5,295.0 L1241.0,294.7 L1241.5,293.9 L1242.0,294.9 L1242.5,294.3 L1243.0,294.0 L1243.5,294.8 L1244.0,295.3 L1244.5,295.2 L1245.0,294.8 L1245.5,294.2 L1246.0,294.4 L1246.5,294.6 L1247.0,293.5 L1247.5,295.4 L1248.0,294.8 L1248.5,293.6 L1249.0,295.9 L1249.5,296.3 L1250.0,293.6 L1250.5,294.5 L1251.0,294.0 L1251.5,295.3 L1252.0,293.5 L1252.5,295.1 L1253.0,295.0 L1253.5,295.6 L1254.0,293.1 L1254.5,294.0 L1255.0,294.5 L1255.5,295.5 L1256.0,294.8 L1256.5,295.3 L1257.0,295.1 L1257.5,293.9 L1258.0,294.6 L1258.5,294.3 L1259.0,294.4 L1259.5,293.9 L1260.0,295.3 L1260.5,294.9 L1261.0,293.1 L1261.5,295.3 L1262.0,294.2 L1262.5,293.4 L1263.0,295.7 L1263.5,294.7 L1264.0,295.0 L1264.5,294.6 L1265.0,294.7 L1265.5,293.2 L1266.0,295.3 L1266.5,294.1 L1267.0,294.7 L1267.5,294.6 L1268.0,293.9 L1268.5,293.6 L1269.0,294.6 L1269.5,295.8 L1270.0,294.1 L1270.5,294.2 L1271.0,294.8 L1271.5,294.2 L1272.0,295.8 L1272.5,295.1 L1273.0,296.8 L1273.5,294.9 L1274.0,296.6 L1274.5,294.2 L1275.0,294.9 L1275.5,293.8 L1276.0,294.4 L1276.5,294.4 L1277.0,295.2 L1277.5,295.9 L1278.0,294.5 L1278.5,293.5 L1279.0,294.7 L1279.5,294.6 L1280.0,294.3 L1280.5,295.5 L1281.0,295.7 L1281.5,294.1 L1282.0,294.1 L1282.5,292.7 L1283.0,294.2 L1283.5,295.4 L1284.0,294.0 L1284.5,295.5 L1285.0,295.3 L1285.5,295.3 L1286.0,295.3 L1286.5,294.7 L1287.0,295.6 L1287.5,295.7 L1288.0,295.1 L1288.5,294.7 L1289.0,295.9 L1289.5,296.0 L1290.0,294.2 L1290.5,295.5 L1291.0,294.8 L1291.5,296.8 L1292.0,294.5 L1292.5,294.3 L1293.0,294.0 L1293.5,295.6 L1294.0,293.9 L1294.5,295.3 L1295.0,294.3 L1295.5,295.9 L1296.0,296.1 L1296.5,295.7 L1297.0,293.1 L1297.5,293.6 L1298.0,292.7 L1298.5,296.8 L1299.0,294.3 L1299.5,294.4 L1300.0,294.8 L1300.5,295.3 L1301.0,294.5 L1301.5,294.8 L1302.0,294.8 L1302.5,293.7 L1303.0,296.3 L1303.5,296.3 L1304.0,294.8 L1304.5,294.7 L1305.0,296.4 L1305.5,296.8 L1306.0,294.8 L1306.5,295.3 L1307.0,294.4 L1307.5,295.1 L1308.0,292.7 L1308.5,292.9 L1309.0,295.2 L1309.5,294.6 L1310.0,295.1 L1310.5,294.9 L1311.0,295.3 L1311.5,295.0 L1312.0,294.7 L1312.5,295.2 L1313.0,294.2 L1313.5,296.0 L1314.0,294.0 L1314.5,294.5 L1315.0,295.6 L1315.5,294.5 L1316.0,295.6 L1316.5,296.1 L1317.0,295.5 L1317.5,294.5 L1318.0,296.4 L1318.5,295.2 L1319.0,294.0 L1319.5,296.5 L1320.0,295.0 L1320.5,295.4 L1321.0,295.6 L1321.5,294.4 L1322.0,295.6 L1322.5,293.8 L1323.0,294.0 L1323.5,294.5 L1324.0,296.7 L1324.5,295.4 L1325.0,295.8 L1325.5,294.5 L1326.0,295.3 L1326.5,293.1 L1327.0,294.6 L1327.5,295.2 L1328.0,294.4 L1328.5,293.2 L1329.0,293.5 L1329.5,295.4 L1330.0,296.0 L1330.5,294.5 L1331.0,296.2 L1331.5,293.7 L1332.0,295.4 L1332.5,295.1 L1333.0,295.7 L1333.5,293.6 L1334.0,295.7 L1334.5,294.9 L1335.0,294.1 L1335.5,294.5 L1336.0,294.7 L1336.5,295.1 L1337.0,294.1 L1337.5,294.1 L1338.0,294.9 L1338.5,294.8 L1339.0,295.2 L1339.5,295.6 L1340.0,293.2 L1340.5,294.7 L1341.0,295.0 L1341.5,294.8 L1342.0,293.9 L1342.5,295.4 L1343.0,296.3 L1343.5,294.7 L1344.0,294.1 L1344.5,295.5 L1345.0,294.8 L1345.5,294.9 L1346.0,295.0 L1346.5,294.4 L1347.0,294.8 L1347.5,294.2 L1348.0,293.1 L1348.5,295.7 L1349.0,295.0 L1349.5,294.7 L1350.0,295.9 L1350.5,294.6 L1351.0,295.7 L1351.5,295.5 L1352.0,294.5 L1352.5,293.7 L1353.0,295.2 L1353.5,295.0 L1354.0,295.6 L1354.5,293.5 L1355.0,294.7 L1355.5,295.0 L1356.0,295.1 L1356.5,294.9 L1357.0,295.0 L1357.5,292.8 L1358.0,294.5 L1358.5,294.2 L1359.0,293.5 L1359.5,294.9 L1360.0,294.4 L1360.5,293.8 L1361.0,293.6 L1361.5,295.0 L1362.0,292.7 L1362.5,294.7 L1363.0,293.8 L1363.5,294.9 L1364.0,296.4 L1364.5,295.6 L1365.0,294.7 L1365.5,296.1 L1366.0,296.4 L1366.5,295.6 L1367.0,296.4 L1367.5,295.0 L1368.0,295.3 L1368.5,294.7 L1369.0,294.4 L1369.5,294.8 L1370.0,294.1 L1370.5,294.7 L1371.0,296.7 L1371.5,295.4 L1372.0,294.6 L1372.5,296.2 L1373.0,296.0 L1373.5,293.9 L1374.0,294.2 L1374.5,296.3 L1375.0,294.8 L1375.5,294.9 L1376.0,294.3 L1376.5,293.8 L1377.0,295.7 L1377.5,294.1 L1378.0,295.2 L1378.5,296.4 L1379.0,295.2 L1379.5,294.6 L1380.0,295.3 L1380.5,295.2 L1381.0,294.4 L1381.5,295.0 L1382.0,293.7 L1382.5,293.2 L1383.0,294.3 L1383.5,293.2 L1384.0,294.2 L1384.5,294.6 L1385.0,294.9 L1385.5,296.3 L1386.0,293.9 L1386.5,294.3 L1387.0,294.3 L1387.5,293.8 L1388.0,296.4 L1388.5,294.0 L1389.0,294.5 L1389.5,294.5 L1390.0,296.7 L1390.5,294.4 L1391.0,294.0 L1391.5,295.7 L1392.0,294.1 L1392.5,292.8 L1393.0,295.6 L1393.5,295.4 L1394.0,293.4 L1394.5,293.5 L1395.0,294.5 L1395.5,293.7 L1396.0,293.2 L1396.5,293.5 L1397.0,296.1 L1397.5,295.4 L1398.0,293.6 L1398.5,294.3 L1399.0,294.5 L1399.5,294.1 L1400.0,294.4 L1400.5,295.9 L1401.0,293.8 L1401.5,293.6 L1402.0,294.2 L1402.5,293.6 L1403.0,293.8 L1403.5,293.7 L1404.0,293.2 L1404.5,295.1 L1405.0,293.4 L1405.5,295.0 L1406.0,293.0 L1406.5,292.9 L1407.0,293.8 L1407.5,293.2 L1408.0,294.0 L1408.5,293.6 L1409.0,294.8 L1409.5,290.4 L1410.0,291.1 L1410.5,291.5 L1411.0,290.7 L1411.5,290.0 L1412.0,290.9 L1412.5,285.2 L1413.0,285.3 L1413.5,280.8 L1414.0,275.1 L1414.5,267.1 L1415.0,254.5 L1415.5,247.0 L1416.0,251.0 L1416.5,262.0 L1417.0,269.0 L1417.5,276.4 L1418.0,279.4 L1418.5,281.5 L1419.0,282.1 L1419.5,282.6 L1420.0,276.9 L1420.5,272.6 L1421.0,270.5 L1421.5,275.1 L1422.0,278.9 L1422.5,284.3 L1423.0,287.7 L1423.5,289.4 L1424.0,288.5 L1424.5,290.0 L1425.0,292.4 L1425.5,290.7 L1426.0,292.5 L1426.5,291.6 L1427.0,293.5 L1427.5,293.3 L1428.0,292.1 L1428.5,293.4 L1429.0,292.8 L1429.5,293.3 L1430.0,295.0 L1430.5,294.2 L1431.0,294.3 L1431.5,295.4 L1432.0,294.2 L1432.5,295.3 L1433.0,294.6 L1433.5,294.5 L1434.0,294.0 L1434.5,293.6 L1435.0,293.4 L1435.5,293.6 L1436.0,294.8 L1436.5,294.8 L1437.0,293.7 L1437.5,295.5 L1438.0,293.9 L1438.5,294.1 L1439.0,293.3 L1439.5,293.8 L1440.0,295.3 L1440.5,294.9 L1441.0,294.0 L1441.5,295.6 L1442.0,294.5 L1442.5,294.6 L1443.0,295.5 L1443.5,295.0 L1444.0,294.3 L1444.5,293.7 L1445.0,295.7 L1445.5,292.7 L1446.0,294.1 L1446.5,293.1 L1447.0,294.1 L1447.5,295.4 L1448.0,294.3 L1448.5,294.3 L1449.0,294.6 L1449.5,296.3 L1450.0,295.8 L1450.5,294.8 L1451.0,294.1 L1451.5,294.3 L1452.0,295.0 L1452.5,294.5 L1453.0,294.6 L1453.5,293.8 L1454.0,293.5 L1454.5,293.7 L1455.0,294.9 L1455.5,293.9 L1456.0,296.8 L1456.5,295.2 L1457.0,295.3 L1457.5,295.6 L1458.0,293.8 L1458.5,293.7 L1459.0,294.5 L1459.5,295.2 L1460.0,295.2 L1460.5,296.2 L1461.0,296.0 L1461.5,295.7 L1462.0,295.7 L1462.5,295.0 L1463.0,295.5 L1463.5,294.6 L1464.0,294.4 L1464.5,295.6 L1465.0,293.4 L1465.5,296.0 L1466.0,296.4 L1466.5,294.4 L1467.0,295.5 L1467.5,295.0 L1468.0,294.0 L1468.5,295.2 L1469.0,295.3 L1469.5,295.7 L1470.0,294.6 L1470.5,295.0 L1471.0,294.4 L1471.5,295.8 L1472.0,294.8 L1472.5,295.6 L1473.0,294.3 L1473.5,295.0 L1474.0,294.1 L1474.5,294.3 L1475.0,295.9 L1475.5,294.7 L1476.0,294.8 L1476.5,295.5 L1477.0,294.2 L1477.5,296.6 L1478.0,294.2 L1478.5,294.6 L1479.0,296.8 L1479.5,293.4 L1480.0,296.4 L1480.5,295.2 L1481.0,295.3 L1481.5,294.0 L1482.0,295.0 L1482.5,293.8 L1483.0,295.8 L1483.5,294.7 L1484.0,294.3 L1484.5,294.5 L1485.0,294.8 L1485.5,295.7 L1486.0,295.2 L1486.5,294.2 L1487.0,294.1 L1487.5,294.0 L1488.0,295.6 L1488.5,295.3 L1489.0,293.9 L1489.5,293.5 L1490.0,294.8 L1490.5,294.4 L1491.0,295.3 L1491.5,294.8 L1492.0,295.2 L1492.5,295.6 L1493.0,295.8 L1493.5,294.7 L1494.0,295.5 L1494.5,294.4 L1495.0,293.8 L1495.5,295.1 L1496.0,295.9 L1496.5,296.1 L1497.0,294.8 L1497.5,293.4 L1498.0,295.1 L1498.5,294.7 L1499.0,295.4 L1499.5,295.8 L1500.0,294.5 L1500.5,294.3 L1501.0,294.5 L1501.5,294.3 L1502.0,294.0 L1502.5,295.0 L1503.0,294.2 L1503.5,294.6 L1504.0,294.6 L1504.5,294.3 L1505.0,295.4 L1505.5,294.5 L1506.0,294.8 L1506.5,295.5 L1507.0,294.7 L1507.5,293.6 L1508.0,294.4 L1508.5,294.4 L1509.0,295.4 L1509.5,296.3 L1510.0,295.0 L1510.5,294.7 L1511.0,296.1 L1511.5,294.2 L1512.0,295.1 L1512.5,295.2 L1513.0,294.8 L1513.5,294.7 L1514.0,295.0 L1514.5,296.1 L1515.0,295.3 L1515.5,294.3 L1516.0,295.1 L1516.5,295.7 L1517.0,296.3 L1517.5,295.5 L1518.0,295.0 L1518.5,296.0 L1519.0,295.6 L1519.5,295.0 L1520.0,294.3 L1520.5,294.9 L1521.0,295.6 L1521.5,293.9 L1522.0,293.5 L1522.5,295.3 L1523.0,293.5 L1523.5,293.7 L1524.0,294.7 L1524.5,294.6 L1525.0,294.9 L1525.5,295.0 L1526.0,295.3 L1526.5,294.7 L1527.0,294.1 L1527.5,292.8 L1528.0,295.9 L1528.5,295.5 L1529.0,295.3 L1529.5,294.8 L1530.0,294.1 L1530.5,295.2 L1531.0,294.7 L1531.5,293.7 L1532.0,295.7 L1532.5,293.6 L1533.0,294.4 L1533.5,296.3 L1534.0,294.1 L1534.5,294.9 L1535.0,295.7 L1535.5,294.8 L1536.0,293.6 L1536.5,294.4 L1537.0,294.7 L1537.5,293.5 L1538.0,296.0 L1538.5,295.1 L1539.0,295.4 L1539.5,295.0 L1540.0,295.1 L1540.5,294.5 L1541.0,293.5 L1541.5,295.3 L1542.0,294.8 L1542.5,296.1 L1543.0,293.8 L1543.5,294.9 L1544.0,296.6 L1544.5,293.6 L1545.0,293.8 L1545.5,295.0 L1546.0,296.2 L1546.5,293.8 L1547.0,294.8 L1547.5,294.6 L1548.0,294.3 L1548.5,294.5 L1549.0,295.8 L1549.5,294.9 L1550.0,293.6 L1550.5,294.2 L1551.0,294.8 L1551.5,293.6 L1552.0,294.2 L1552.5,294.4 L1553.0,293.0 L1553.5,296.3 L1554.0,293.4 L1554.5,294.8 L1555.0,294.6 L1555.5,294.2 L1556.0,295.8 L1556.5,294.8 L1557.0,294.0 L1557.5,295.7 L1558.0,295.2 L1558.5,293.8 L1559.0,293.4 L1559.5,295.5 L1560.0,294.6 L1560.5,293.5 L1561.0,295.2 L1561.5,293.5 L1562.0,294.1 L1562.5,294.0 L1563.0,293.0 L1563.5,295.3 L1564.0,296.9 L1564.5,295.3 L1565.0,295.1 L1565.5,294.5 L1566.0,294.7 L1566.5,294.9 L1567.0,295.2 L1567.5,294.3 L1568.0,294.7 L1568.5,294.5 L1569.0,295.2 L1569.5,295.5 L1570.0,295.7 L1570.5,294.3 L1571.0,294.3 L1571.5,295.3 L1572.0,294.5 L1572.5,294.5 L1573.0,295.1 L1573.5,295.1 L1574.0,295.9 L1574.5,293.7 L1575.0,295.7 L1575.5,294.3 L1576.0,295.3 L1576.5,293.6 L1577.0,294.6 L1577.5,294.2 L1578.0,296.2 L1578.5,293.9 L1579.0,295.7 L1579.5,294.0 L1580.0,293.8 L1580.5,295.0 L1581.0,295.6 L1581.5,294.7 L1582.0,295.2 L1582.5,294.9 L1583.0,294.7 L1583.5,295.9 L1584.0,294.7 L1584.5,295.5 L1585.0,293.7 L1585.5,294.5 L1586.0,295.5 L1586.5,294.3 L1587.0,292.9 L1587.5,295.3 L1588.0,295.2 L1588.5,294.4 L1589.0,294.8 L1589.5,294.4 L1590.0,295.0 L1590.5,295.6 L1591.0,294.9 L1591.5,294.6 L1592.0,294.3 L1592.5,294.5 L1593.0,294.2 L1593.5,295.5 L1594.0,293.7 L1594.5,294.1 L1595.0,294.9 L1595.5,294.9 L1596.0,294.8 L1596.5,294.3 L1597.0,294.8 L1597.5,293.4 L1598.0,293.3 L1598.5,293.5 L1599.0,294.9 L1599.5,295.7 L1600.0,294.2 L1600.5,294.1 L1601.0,294.3 L1601.5,296.1 L1602.0,294.7 L1602.5,294.6 L1603.0,294.0 L1603.5,294.9 L1604.0,295.6 L1604.5,294.6 L1605.0,293.8 L1605.5,295.6 L1606.0,294.4 L1606.5,295.9 L1607.0,293.5 L1607.5,294.3 L1608.0,294.6 L1608.5,292.9 L1609.0,294.4 L1609.5,294.8 L1610.0,294.2 L1610.5,294.7 L1611.0,294.4 L1611.5,293.5 L1612.0,294.8 L1612.5,293.5 L1613.0,293.9 L1613.5,293.5 L1614.0,294.6 L1614.5,293.7 L1615.0,293.6 L1615.5,292.2 L1616.0,293.7 L1616.5,294.8 L1617.0,292.1 L1617.5,294.1 L1618.0,293.8 L1618.5,292.3 L1619.0,293.3 L1619.5,294.4 L1620.0,293.6 L1620.5,293.8 L1621.0,294.4 L1621.5,293.1 L1622.0,294.0 L1622.5,292.2 L1623.0,292.4 L1623.5,294.3 L1624.0,294.1 L1624.5,293.6 L1625.0,291.4 L1625.5,292.4 L1626.0,291.7 L1626.5,293.9 L1627.0,291.0 L1627.5,290.9 L1628.0,291.2 L1628.5,291.8 L1629.0,290.8 L1629.5,290.8 L1630.0,291.0 L1630.5,290.4 L1631.0,288.4 L1631.5,288.5 L1632.0,290.4 L1632.5,288.5 L1633.0,289.4 L1633.5,288.3 L1634.0,287.1 L1634.5,285.2 L1635.0,285.2 L1635.5,282.0 L1636.0,282.4 L1636.5,278.8 L1637.0,275.9 L1637.5,271.3 L1638.0,266.3 L1638.5,260.0 L1639.0,250.7 L1639.5,237.4 L1640.0,218.2 L1640.5,190.5 L1641.0,148.3 L1641.5,90.7 L1642.0,35.1 L1642.5,26.7 L1643.0,73.3 L1643.5,131.1 L1644.0,172.5 L1644.5,199.9 L1645.0,214.0 L1645.5,219.3 L1646.0,216.0 L1646.5,205.4 L1647.0,181.8 L1647.5,150.1 L1648.0,125.6 L1648.5,132.1 L1649.0,165.8 L1649.5,201.4 L1650.0,226.9 L1650.5,244.8 L1651.0,257.8 L1651.5,266.8 L1652.0,268.7 L1652.5,276.1 L1653.0,278.5 L1653.5,280.7 L1654.0,282.1 L1654.5,283.7 L1655.0,284.5 L1655.5,286.8 L1656.0,286.6 L1656.5,288.0 L1657.0,287.6 L1657.5,290.4 L1658.0,290.4 L1658.5,289.3 L1659.0,291.0 L1659.5,290.6 L1660.0,290.5 L1660.5,291.6 L1661.0,292.5 L1661.5,293.2 L1662.0,292.4 L1662.5,293.3 L1663.0,293.1 L1663.5,293.2 L1664.0,293.6 L1664.5,291.7 L1665.0,292.7 L1665.5,294.4 L1666.0,292.1 L1666.5,292.6 L1667.0,295.0 L1667.5,292.6 L1668.0,293.6 L1668.5,293.8 L1669.0,293.4 L1669.5,294.5 L1670.0,294.5 L1670.5,293.2 L1671.0,295.3 L1671.5,293.2 L1672.0,293.6 L1672.5,293.9 L1673.0,294.2 L1673.5,293.1 L1674.0,294.3 L1674.5,292.3 L1675.0,293.7 L1675.5,293.4 L1676.0,293.6 L1676.5,294.1 L1677.0,294.4 L1677.5,293.6 L1678.0,294.3 L1678.5,293.0 L1679.0,294.0 L1679.5,295.1 L1680.0,293.8 L1680.5,294.1 L1681.0,294.3 L1681.5,295.1 L1682.0,294.7 L1682.5,294.3 L1683.0,293.6 L1683.5,294.6 L1684.0,292.4 L1684.5,294.8 L1685.0,293.8 L1685.5,295.0 L1686.0,294.4 L1686.5,295.6 L1687.0,294.0 L1687.5,292.9 L1688.0,294.6 L1688.5,294.1 L1689.0,294.5 L1689.5,295.6 L1690.0,293.8 L1690.5,295.1 L1691.0,295.3 L1691.5,295.5 L1692.0,292.9 L1692.5,294.7 L1693.0,294.0 L1693.5,294.4 L1694.0,294.0 L1694.5,294.4 L1695.0,295.4 L1695.5,296.1 L1696.0,295.3 L1696.5,293.6 L1697.0,295.7 L1697.5,293.7 L1698.0,294.4 L1698.5,295.6 L1699.0,294.2 L1699.5,295.3 L1700.0,294.5 L1700.5,293.8 L1701.0,294.9 L1701.5,294.3 L1702.0,296.2 L1702.5,296.3 L1703.0,296.1 L1703.5,293.9 L1704.0,296.3 L1704.5,295.0 L1705.0,295.2 L1705.5,294.9 L1706.0,294.3 L1706.5,294.9 L1707.0,295.5 L1707.5,296.1 L1708.0,295.3 L1708.5,294.8 L1709.0,294.4 L1709.5,294.5 L1710.0,296.2 L1710.5,295.4 L1711.0,295.0 L1711.5,293.4 L1712.0,293.3 L1712.5,295.4 L1713.0,295.4 L1713.5,295.8 L1714.0,295.0 L1714.5,294.3 L1715.0,293.4 L1715.5,294.1 L1716.0,292.9 L1716.5,295.1 L1717.0,295.2 L1717.5,296.0 L1718.0,293.3 L1718.5,293.7 L1719.0,295.4 L1719.5,295.1 L1720.0,293.2 L1720.5,294.3 L1721.0,294.9 L1721.5,294.5 L1722.0,295.2 L1722.5,294.9 L1723.0,294.4 L1723.5,295.2 L1724.0,294.8 L1724.5,295.8 L1725.0,293.6 L1725.5,294.7 L1726.0,294.3 L1726.5,294.7 L1727.0,295.2 L1727.5,295.4 L1728.0,293.1 L1728.5,295.8 L1729.0,295.3 L1729.5,295.3 L1730.0,294.9 L1730.5,295.7 L1731.0,295.2 L1731.5,293.4 L1732.0,294.3 L1732.5,294.7 L1733.0,294.6 L1733.5,294.5 L1734.0,295.4 L1734.5,293.9 L1735.0,294.2 L1735.5,294.0 L1736.0,294.9 L1736.5,295.3 L1737.0,294.1 L1737.5,295.2 L1738.0,294.4 L1738.5,296.1 L1739.0,293.0 L1739.5,294.9 L1740.0,295.9 L1740.5,294.6 L1741.0,293.9 L1741.5,294.1 L1742.0,295.4 L1742.5,294.4 L1743.0,295.8 L1743.5,294.9 L1744.0,294.4 L1744.5,294.5 L1745.0,295.3 L1745.5,295.8 L1746.0,294.2 L1746.5,293.9 L1747.0,293.9 L1747.5,295.3 L1748.0,296.4 L1748.5,294.5 L1749.0,295.5 L1749.5,294.6 L1750.0,295.7 L1750.5,293.6 L1751.0,295.4 L1751.5,293.8 L1752.0,294.2 L1752.5,295.2 L1753.0,294.7 L1753.5,294.8 L1754.0,295.4 L1754.5,295.1 L1755.0,296.2 L1755.5,295.5 L1756.0,294.2 L1756.5,294.8 L1757.0,294.4 L1757.5,294.6 L1758.0,296.4 L1758.5,294.2 L1759.0,296.0 L1759.5,296.2 L1760.0,297.0 L1760.5,294.9 L1761.0,295.1 L1761.5,295.2 L1762.0,294.6 L1762.5,296.4 L1763.0,296.6 L1763.5,292.9 L1764.0,294.6 L1764.5,295.9 L1765.0,294.0 L1765.5,294.3 L1766.0,294.9 L1766.5,294.9 L1767.0,294.7 L1767.5,294.7 L1768.0,296.4 L1768.5,292.9 L1769.0,294.4 L1769.5,293.9 L1770.0,295.0 L1770.5,294.5 L1771.0,295.2 L1771.5,294.8 L1772.0,296.8 L1772.5,293.7 L1773.0,294.4 L1773.5,295.6 L1774.0,294.5 L1774.5,294.9 L1775.0,293.5 L1775.5,295.4 L1776.0,294.7 L1776.5,295.3 L1777.0,294.0 L1777.5,294.3 L1778.0,294.0 L1778.5,296.1 L1779.0,293.2 L1779.5,295.1 L1780.0,294.9 L1780.5,295.8 L1781.0,294.9 L1781.5,293.8 L1782.0,295.1 L1782.5,293.1 L1783.0,295.5 L1783.5,294.5 L1784.0,293.9 L1784.5,294.1 L1785.0,295.0 L1785.5,293.1 L1786.0,295.9 L1786.5,293.8 L1787.0,295.7 L1787.5,294.5 L1788.0,296.0 L1788.5,293.3 L1789.0,295.0 L1789.5,294.2 L1790.0,293.7 L1790.5,294.9 L1791.0,293.9 L1791.5,293.4 L1792.0,293.8 L1792.5,293.2 L1793.0,293.6 L1793.5,293.7 L1794.0,294.5 L1794.5,293.4 L1795.0,292.7 L1795.5,293.8 L1796.0,292.7 L1796.5,292.0 L1797.0,291.5 L1797.5,293.8 L1798.0,291.8 L1798.5,292.9 L1799.0,290.2 L1799.5,289.5 L1800.0,291.1 L1800.5,288.5 L1801.0,287.3 L1801.5,285.5 L1802.0,282.6 L1802.5,281.1 L1803.0,274.6 L1803.5,269.3 L1804.0,257.2 L1804.5,244.9 L1805.0,224.6 L1805.5,212.4 L1806.0,215.5 L1806.5,234.8 L1807.0,250.6 L1807.5,262.0 L1808.0,269.3 L1808.5,275.0 L1809.0,276.4 L1809.5,276.2 L1810.0,274.6 L1810.5,270.9 L1811.0,264.6 L1811.5,257.3 L1812.0,253.0 L1812.5,257.9 L1813.0,265.5 L1813.5,275.1 L1814.0,281.0 L1814.5,283.6 L1815.0,287.7 L1815.5,287.5 L1816.0,289.4 L1816.5,291.3 L1817.0,291.2 L1817.5,290.9 L1818.0,292.3 L1818.5,292.0 L1819.0,293.6 L1819.5,293.5 L1820.0,292.8 L1820.5,293.6 L1821.0,294.8 L1821.5,294.4 L1822.0,294.3 L1822.5,293.5 L1823.0,293.2 L1823.5,293.1 L1824.0,294.7 L1824.5,293.0 L1825.0,294.3 L1825.5,295.3 L1826.0,292.6 L1826.5,294.3 L1827.0,293.2 L1827.5,293.9 L1828.0,294.5 L1828.5,293.1 L1829.0,292.8 L1829.5,293.6 L1830.0,294.1 L1830.5,293.5 L1831.0,292.9 L1831.5,294.2 L1832.0,292.6 L1832.5,292.1 L1833.0,293.2 L1833.5,294.7 L1834.0,292.1 L1834.5,291.9 L1835.0,290.4 L1835.5,289.8 L1836.0,287.8 L1836.5,286.8 L1837.0,282.6 L1837.5,277.7 L1838.0,274.2 L1838.5,270.5 L1839.0,276.0 L1839.5,280.1 L1840.0,283.7 L1840.5,287.2 L1841.0,288.8 L1841.5,290.4 L1842.0,290.6 L1842.5,292.7 L1843.0,291.9 L1843.5,291.6 L1844.0,288.7 L1844.5,288.1 L1845.0,287.8 L1845.5,286.5 L1846.0,287.0 L1846.5,288.8 L1847.0,291.5 L1847.5,290.1 L1848.0,291.8 L1848.5,291.9 L1849.0,294.4 L1849.5,292.5 L1850.0,293.7 L1850.5,295.2 L1851.0,293.9 L1851.5,294.6 L1852.0,294.4 L1852.5,295.0 L1853.0,296.4 L1853.5,293.6 L1854.0,294.6 L1854.5,296.1 L1855.0,296.7 L1855.5,294.5 L1856.0,295.9 L1856.5,295.3 L1857.0,295.3 L1857.5,293.6 L1858.0,293.4 L1858.5,294.9 L1859.0,294.7 L1859.5,294.8 L1860.0,293.8 L1860.5,296.1 L1861.0,294.7 L1861.5,297.0 L1862.0,294.7 L1862.5,295.2 L1863.0,295.6 L1863.5,294.6 L1864.0,294.1 L1864.5,294.5 L1865.0,295.0 L1865.5,294.5 L1866.0,296.7 L1866.5,294.5 L1867.0,295.6 L1867.5,295.7 L1868.0,295.2 L1868.5,294.1 L1869.0,295.4 L1869.5,295.8 L1870.0,295.2 L1870.5,295.0 L1871.0,293.2 L1871.5,294.1 L1872.0,294.9 L1872.5,295.2 L1873.0,295.7 L1873.5,294.8 L1874.0,295.2 L1874.5,294.2 L1875.0,295.6 L1875.5,295.7 L1876.0,295.0 L1876.5,295.9 L1877.0,294.8 L1877.5,294.6 L1878.0,294.8 L1878.5,296.8 L1879.0,293.7 L1879.5,295.2 L1880.0,294.8 L1880.5,295.2 L1881.0,293.8 L1881.5,295.7 L1882.0,295.6 L1882.5,294.9 L1883.0,294.7 L1883.5,295.1 L1884.0,295.9 L1884.5,293.8 L1885.0,296.3 L1885.5,294.8 L1886.0,295.8 L1886.5,294.4 L1887.0,296.8 L1887.5,295.3 L1888.0,296.6 L1888.5,294.6 L1889.0,294.6 L1889.5,296.1 L1890.0,295.7 L1890.5,295.4 L1891.0,296.2 L1891.5,295.5 L1892.0,294.9 L1892.5,293.5 L1893.0,293.2 L1893.5,295.7 L1894.0,295.6 L1894.5,294.4 L1895.0,295.6 L1895.5,295.0 L1896.0,295.2 L1896.5,296.0 L1897.0,293.8 L1897.5,295.5 L1898.0,295.6 L1898.5,295.0 L1899.0,295.3 L1899.5,294.2 L1900.0,295.3 L1900.5,295.7 L1901.0,295.8 L1901.5,294.6 L1902.0,295.9 L1902.5,295.4 L1903.0,295.8 L1903.5,295.1 L1904.0,295.7 L1904.5,295.4 L1905.0,297.2 L1905.5,294.9 L1906.0,296.2 L1906.5,295.2 L1907.0,293.9 L1907.5,295.6 L1908.0,296.2 L1908.5,295.8 L1909.0,295.9 L1909.5,294.5 L1910.0,295.4 L1910.5,294.0 L1911.0,296.7 L1911.5,296.5 L1912.0,294.3 L1912.5,294.9 L1913.0,294.1 L1913.5,294.5 L1914.0,294.8 L1914.5,294.2 L1915.0,294.8" fill="none" shape-rendering="crispEdges" stroke="#ff0000" stroke-width="5.8" stroke-linejoin="round" clip-path="url(#c1)"/>
<clipPath id="c2"><rect x="146" y="306" width="1771" height="280"/></clipPath>
<path d="M148.5,572.1 L149.0,571.4 L149.5,571.6 L150.0,570.4 L150.5,572.3 L151.0,570.5 L151.5,571.2 L152.0,570.4 L152.5,572.0 L153.0,570.6 L153.5,572.0 L154.0,573.2 L154.5,571.8 L155.0,569.6 L155.5,572.4 L156.0,571.7 L156.5,572.1 L157.0,571.9 L157.5,572.5 L158.0,572.4 L158.5,571.5 L159.0,570.5 L159.5,571.5 L160.0,572.2 L160.5,569.9 L161.0,571.7 L161.5,570.0 L162.0,572.5 L162.5,573.1 L163.0,572.3 L163.5,571.2 L164.0,572.2 L164.5,572.7 L165.0,573.0 L165.5,572.8 L166.0,572.5 L166.5,570.7 L167.0,571.5 L167.5,572.0 L168.0,571.6 L168.5,569.9 L169.0,571.4 L169.5,570.9 L170.0,571.7 L170.5,571.8 L171.0,570.3 L171.5,570.9 L172.0,571.7 L172.5,570.6 L173.0,571.5 L173.5,570.8 L174.0,570.9 L174.5,572.3 L175.0,571.4 L175.5,571.1 L176.0,572.9 L176.5,571.3 L177.0,571.5 L177.5,571.5 L178.0,573.5 L178.5,572.1 L179.0,572.3 L179.5,571.2 L180.0,572.3 L180.5,572.5 L181.0,570.5 L181.5,571.9 L182.0,573.0 L182.5,573.1 L183.0,571.8 L183.5,573.5 L184.0,571.0 L184.5,572.4 L185.0,572.0 L185.5,570.6 L186.0,572.4 L186.5,570.5 L187.0,571.0 L187.5,571.5 L188.0,570.5 L188.5,572.6 L189.0,571.2 L189.5,570.5 L190.0,571.8 L190.5,571.5 L191.0,570.6 L191.5,571.1 L192.0,572.3 L192.5,572.3 L193.0,570.2 L193.5,572.4 L194.0,572.4 L194.5,572.5 L195.0,571.1 L195.5,570.9 L196.0,571.5 L196.5,571.0 L197.0,571.3 L197.5,571.0 L198.0,571.3 L198.5,571.1 L199.0,571.6 L199.5,571.7 L200.0,571.3 L200.5,571.1 L201.0,572.9 L201.5,572.4 L202.0,572.0 L202.5,570.8 L203.0,572.1 L203.5,571.4 L204.0,572.1 L204.5,571.8 L205.0,573.5 L205.5,571.6 L206.0,570.7 L206.5,572.5 L207.0,572.5 L207.5,572.7 L208.0,569.5 L208.5,570.7 L209.0,570.8 L209.5,570.1 L210.0,571.7 L210.5,572.1 L211.0,572.5 L211.5,572.3 L212.0,571.6 L212.5,572.9 L213.0,571.7 L213.5,569.5 L214.0,571.2 L214.5,570.9 L215.0,571.8 L215.5,571.1 L216.0,571.2 L216.5,572.7 L217.0,570.8 L217.5,570.3 L218.0,571.7 L218.5,572.0 L219.0,571.4 L219.5,571.5 L220.0,571.0 L220.5,570.3 L221.0,570.8 L221.5,570.6 L222.0,572.5 L222.5,571.3 L223.0,572.7 L223.5,571.4 L224.0,570.7 L224.5,571.6 L225.0,571.6 L225.5,572.6 L226.0,569.7 L226.5,571.1 L227.0,571.8 L227.5,570.8 L228.0,571.6 L228.5,571.2 L229.0,572.7 L229.5,572.6 L230.0,569.7 L230.5,570.1 L231.0,570.8 L231.5,571.4 L232.0,571.3 L232.5,571.0 L233.0,572.0 L233.5,572.2 L234.0,571.6 L234.5,571.2 L235.0,571.5 L235.5,570.8 L236.0,572.2 L236.5,572.2 L237.0,570.7 L237.5,572.7 L238.0,571.4 L238.5,572.2 L239.0,571.5 L239.5,571.3 L240.0,572.1 L240.5,570.6 L241.0,571.3 L241.5,570.5 L242.0,571.9 L242.5,571.3 L243.0,571.2 L243.5,571.0 L244.0,572.0 L244.5,571.7 L245.0,571.3 L245.5,571.1 L246.0,573.0 L246.5,572.8 L247.0,570.5 L247.5,572.5 L248.0,571.9 L248.5,571.8 L249.0,571.9 L249.5,570.3 L250.0,573.5 L250.5,573.3 L251.0,571.5 L251.5,571.5 L252.0,571.6 L252.5,570.9 L253.0,572.0 L253.5,571.5 L254.0,570.6 L254.5,571.1 L255.0,570.9 L255.5,571.0 L256.0,571.2 L256.5,572.0 L257.0,571.1 L257.5,570.1 L258.0,572.7 L258.5,571.0 L259.0,572.7 L259.5,571.7 L260.0,571.9 L260.5,570.7 L261.0,571.5 L261.5,571.1 L262.0,571.4 L262.5,571.9 L263.0,571.1 L263.5,572.2 L264.0,570.2 L264.5,570.5 L265.0,571.8 L265.5,571.9 L266.0,572.4 L266.5,572.9 L267.0,571.9 L267.5,572.1 L268.0,571.7 L268.5,571.6 L269.0,571.4 L269.5,571.6 L270.0,571.0 L270.5,571.4 L271.0,572.2 L271.5,571.9 L272.0,572.5 L272.5,571.1 L273.0,571.2 L273.5,571.9 L274.0,570.8 L274.5,570.7 L275.0,572.0 L275.5,571.2 L276.0,572.2 L276.5,571.6 L277.0,571.1 L277.5,570.6 L278.0,572.5 L278.5,571.4 L279.0,570.7 L279.5,570.2 L280.0,570.4 L280.5,571.1 L281.0,572.5 L281.5,570.7 L282.0,571.7 L282.5,571.6 L283.0,569.5 L283.5,570.3 L284.0,572.1 L284.5,569.7 L285.0,572.4 L285.5,571.4 L286.0,570.0 L286.5,573.0 L287.0,571.3 L287.5,572.8 L288.0,571.6 L288.5,570.8 L289.0,572.4 L289.5,573.0 L290.0,572.5 L290.5,570.4 L291.0,571.9 L291.5,570.4 L292.0,570.9 L292.5,572.6 L293.0,570.2 L293.5,573.5 L294.0,570.1 L294.5,570.3 L295.0,572.1 L295.5,571.2 L296.0,571.3 L296.5,570.6 L297.0,572.0 L297.5,571.6 L298.0,571.3 L298.5,570.7 L299.0,570.1 L299.5,571.4 L300.0,569.5 L300.5,570.8 L301.0,571.9 L301.5,572.0 L302.0,571.0 L302.5,569.5 L303.0,571.9 L303.5,572.2 L304.0,571.4 L304.5,572.5 L305.0,572.3 L305.5,570.0 L306.0,571.2 L306.5,571.0 L307.0,572.8 L307.5,572.3 L308.0,571.5 L308.5,571.9 L309.0,572.2 L309.5,570.8 L310.0,571.2 L310.5,571.3 L311.0,571.0 L311.5,571.1 L312.0,571.6 L312.5,570.3 L313.0,570.4 L313.5,572.1 L314.0,572.7 L314.5,573.0 L315.0,569.9 L315.5,571.7 L316.0,570.7 L316.5,570.9 L317.0,571.2 L317.5,571.7 L318.0,571.9 L318.5,569.5 L319.0,570.9 L319.5,572.3 L320.0,571.5 L320.5,570.0 L321.0,570.5 L321.5,570.7 L322.0,572.3 L322.5,572.9 L323.0,570.4 L323.5,571.8 L324.0,571.1 L324.5,571.9 L325.0,571.2 L325.5,570.4 L326.0,570.8 L326.5,570.8 L327.0,572.6 L327.5,570.7 L328.0,571.9 L328.5,570.6 L329.0,570.8 L329.5,571.6 L330.0,570.9 L330.5,573.1 L331.0,572.5 L331.5,570.4 L332.0,571.8 L332.5,572.7 L333.0,570.3 L333.5,571.0 L334.0,572.7 L334.5,570.7 L335.0,571.9 L335.5,571.3 L336.0,571.5 L336.5,570.5 L337.0,571.3 L337.5,571.0 L338.0,572.9 L338.5,571.9 L339.0,571.5 L339.5,571.4 L340.0,572.0 L340.5,570.0 L341.0,570.5 L341.5,570.6 L342.0,570.7 L342.5,569.9 L343.0,571.8 L343.5,571.0 L344.0,572.4 L344.5,571.3 L345.0,571.0 L345.5,571.7 L346.0,571.7 L346.5,571.1 L347.0,571.9 L347.5,572.5 L348.0,571.0 L348.5,572.5 L349.0,571.2 L349.5,572.1 L350.0,571.3 L350.5,571.0 L351.0,571.6 L351.5,570.4 L352.0,570.0 L352.5,571.3 L353.0,571.2 L353.5,570.4 L354.0,573.2 L354.5,571.7 L355.0,570.7 L355.5,571.8 L356.0,571.8 L356.5,571.0 L357.0,571.2 L357.5,569.8 L358.0,571.6 L358.5,573.0 L359.0,572.4 L359.5,572.3 L360.0,570.9 L360.5,570.4 L361.0,572.1 L361.5,571.6 L362.0,571.2 L362.5,571.1 L363.0,572.2 L363.5,571.9 L364.0,571.0 L364.5,571.3 L365.0,569.9 L365.5,570.3 L366.0,571.9 L366.5,571.0 L367.0,570.6 L367.5,571.6 L368.0,572.4 L368.5,570.6 L369.0,571.1 L369.5,571.1 L370.0,573.5 L370.5,572.2 L371.0,571.6 L371.5,570.1 L372.0,572.0 L372.5,571.9 L373.0,571.2 L373.5,570.7 L374.0,571.0 L374.5,569.9 L375.0,571.0 L375.5,571.0 L376.0,570.6 L376.5,571.1 L377.0,570.0 L377.5,572.3 L378.0,571.2 L378.5,570.3 L379.0,572.0 L379.5,571.8 L380.0,570.9 L380.5,570.2 L381.0,571.3 L381.5,571.8 L382.0,571.9 L382.5,572.1 L383.0,572.1 L383.5,570.1 L384.0,571.5 L384.5,569.7 L385.0,572.2 L385.5,571.7 L386.0,572.2 L386.5,571.4 L387.0,571.3 L387.5,570.9 L388.0,569.4 L388.5,571.2 L389.0,573.5 L389.5,572.5 L390.0,571.2 L390.5,571.6 L391.0,571.7 L391.5,570.9 L392.0,571.4 L392.5,571.6 L393.0,570.9 L393.5,571.7 L394.0,572.4 L394.5,572.1 L395.0,571.6 L395.5,571.2 L396.0,572.0 L396.5,570.9 L397.0,570.8 L397.5,572.5 L398.0,571.1 L398.5,570.2 L399.0,572.1 L399.5,572.0 L400.0,572.3 L400.5,571.3 L401.0,572.4 L401.5,571.3 L402.0,570.5 L402.5,571.2 L403.0,571.6 L403.5,570.4 L404.0,571.2 L404.5,571.6 L405.0,571.0 L405.5,571.5 L406.0,571.4 L406.5,570.7 L407.0,571.7 L407.5,571.9 L408.0,569.7 L408.5,570.8 L409.0,572.1 L409.5,571.8 L410.0,569.8 L410.5,571.6 L411.0,572.6 L411.5,572.1 L412.0,572.1 L412.5,571.3 L413.0,571.5 L413.5,570.4 L414.0,571.4 L414.5,573.4 L415.0,571.4 L415.5,570.6 L416.0,571.9 L416.5,569.7 L417.0,573.4 L417.5,572.0 L418.0,571.2 L418.5,571.1 L419.0,570.7 L419.5,571.5 L420.0,571.5 L420.5,570.1 L421.0,572.3 L421.5,571.1 L422.0,570.5 L422.5,572.2 L423.0,572.1 L423.5,571.0 L424.0,570.9 L424.5,572.4 L425.0,571.1 L425.5,571.6 L426.0,572.6 L426.5,570.4 L427.0,570.2 L427.5,570.7 L428.0,571.0 L428.5,571.5 L429.0,572.3 L429.5,571.1 L430.0,572.9 L430.5,571.6 L431.0,569.8 L431.5,571.4 L432.0,572.1 L432.5,572.4 L433.0,570.9 L433.5,571.4 L434.0,573.4 L434.5,571.6 L435.0,570.7 L435.5,570.2 L436.0,571.1 L436.5,571.8 L437.0,570.5 L437.5,572.6 L438.0,570.8 L438.5,569.9 L439.0,572.0 L439.5,571.5 L440.0,571.3 L440.5,572.6 L441.0,571.0 L441.5,572.1 L442.0,571.0 L442.5,572.9 L443.0,571.5 L443.5,571.5 L444.0,572.0 L444.5,571.4 L445.0,571.9 L445.5,571.3 L446.0,572.0 L446.5,571.5 L447.0,571.0 L447.5,572.0 L448.0,571.9 L448.5,570.6 L449.0,571.2 L449.5,570.1 L450.0,571.6 L450.5,572.2 L451.0,573.5 L451.5,571.7 L452.0,572.4 L452.5,572.7 L453.0,572.1 L453.5,569.9 L454.0,571.1 L454.5,571.8 L455.0,571.7 L455.5,571.6 L456.0,570.7 L456.5,569.9 L457.0,571.8 L457.5,572.5 L458.0,571.1 L458.5,572.0 L459.0,571.0 L459.5,571.4 L460.0,571.0 L460.5,572.2 L461.0,570.7 L461.5,571.6 L462.0,572.3 L462.5,571.5 L463.0,570.5 L463.5,571.8 L464.0,571.3 L464.5,570.4 L465.0,571.3 L465.5,571.2 L466.0,572.0 L466.5,571.1 L467.0,571.6 L467.5,572.0 L468.0,569.9 L468.5,572.3 L469.0,571.5 L469.5,570.6 L470.0,571.6 L470.5,572.4 L471.0,570.9 L471.5,571.0 L472.0,572.6 L472.5,572.8 L473.0,573.2 L473.5,571.5 L474.0,570.7 L474.5,570.7 L475.0,571.2 L475.5,570.6 L476.0,571.9 L476.5,572.6 L477.0,570.6 L477.5,572.7 L478.0,570.7 L478.5,570.9 L479.0,570.3 L479.5,572.1 L480.0,571.4 L480.5,571.5 L481.0,569.4 L481.5,571.0 L482.0,571.7 L482.5,569.4 L483.0,573.1 L483.5,571.8 L484.0,572.4 L484.5,571.2 L485.0,572.3 L485.5,572.6 L486.0,573.5 L486.5,570.6 L487.0,573.3 L487.5,570.6 L488.0,571.6 L488.5,571.2 L489.0,571.4 L489.5,569.9 L490.0,571.3 L490.5,570.5 L491.0,571.4 L491.5,571.8 L492.0,571.6 L492.5,571.4 L493.0,572.7 L493.5,571.8 L494.0,572.0 L494.5,572.7 L495.0,571.5 L495.5,571.6 L496.0,572.1 L496.5,571.3 L497.0,572.6 L497.5,571.0 L498.0,571.4 L498.5,571.4 L499.0,571.3 L499.5,571.5 L500.0,571.1 L500.5,569.5 L501.0,572.5 L501.5,571.2 L502.0,572.2 L502.5,570.6 L503.0,572.0 L503.5,570.4 L504.0,572.8 L504.5,571.4 L505.0,571.1 L505.5,569.4 L506.0,569.6 L506.5,571.1 L507.0,571.0 L507.5,571.0 L508.0,571.1 L508.5,572.3 L509.0,571.1 L509.5,571.1 L510.0,570.8 L510.5,570.6 L511.0,571.8 L511.5,571.1 L512.0,571.2 L512.5,571.7 L513.0,571.5 L513.5,572.1 L514.0,572.1 L514.5,570.4 L515.0,570.8 L515.5,572.3 L516.0,571.1 L516.5,572.0 L517.0,570.7 L517.5,569.4 L518.0,569.6 L518.5,570.9 L519.0,571.1 L519.5,573.5 L520.0,572.1 L520.5,572.1 L521.0,572.3 L521.5,570.1 L522.0,571.5 L522.5,571.4 L523.0,573.2 L523.5,570.9 L524.0,570.3 L524.5,571.6 L525.0,571.3 L525.5,571.6 L526.0,571.7 L526.5,571.6 L527.0,571.0 L527.5,571.1 L528.0,573.5 L528.5,571.0 L529.0,571.9 L529.5,570.7 L530.0,570.1 L530.5,572.3 L531.0,571.7 L531.5,572.6 L532.0,572.4 L532.5,571.8 L533.0,570.9 L533.5,573.2 L534.0,571.6 L534.5,573.4 L535.0,572.2 L535.5,572.4 L536.0,572.1 L536.5,572.0 L537.0,571.4 L537.5,573.5 L538.0,570.9 L538.5,570.3 L539.0,571.9 L539.5,571.1 L540.0,572.5 L540.5,571.5 L541.0,572.6 L541.5,571.7 L542.0,571.0 L542.5,571.3 L543.0,572.2 L543.5,571.1 L544.0,570.9 L544.5,571.5 L545.0,571.9 L545.5,572.6 L546.0,572.0 L546.5,572.3 L547.0,571.4 L547.5,573.2 L548.0,573.4 L548.5,571.0 L549.0,571.8 L549.5,571.5 L550.0,571.9 L550.5,571.3 L551.0,571.0 L551.5,570.5 L552.0,571.1 L552.5,571.6 L553.0,572.4 L553.5,572.0 L554.0,571.2 L554.5,571.0 L555.0,570.3 L555.5,572.1 L556.0,571.6 L556.5,572.1 L557.0,572.2 L557.5,572.0 L558.0,571.5 L558.5,571.3 L559.0,570.7 L559.5,571.0 L560.0,571.9 L560.5,573.4 L561.0,571.2 L561.5,571.7 L562.0,573.4 L562.5,571.6 L563.0,571.2 L563.5,571.5 L564.0,571.3 L564.5,569.8 L565.0,572.2 L565.5,569.9 L566.0,570.9 L566.5,571.0 L567.0,571.8 L567.5,571.2 L568.0,571.0 L568.5,570.6 L569.0,571.5 L569.5,571.0 L570.0,570.7 L570.5,570.2 L571.0,570.6 L571.5,571.4 L572.0,569.9 L572.5,571.4 L573.0,571.3 L573.5,572.2 L574.0,570.6 L574.5,570.4 L575.0,571.1 L575.5,570.8 L576.0,569.1 L576.5,572.1 L577.0,571.3 L577.5,571.2 L578.0,570.4 L578.5,571.3 L579.0,570.8 L579.5,572.3 L580.0,571.5 L580.5,572.1 L581.0,569.8 L581.5,570.1 L582.0,570.4 L582.5,570.2 L583.0,572.1 L583.5,571.0 L584.0,569.7 L584.5,570.3 L585.0,572.0 L585.5,570.1 L586.0,570.7 L586.5,568.6 L587.0,569.3 L587.5,569.4 L588.0,569.0 L588.5,568.7 L589.0,568.4 L589.5,568.3 L590.0,564.9 L590.5,565.2 L591.0,564.2 L591.5,562.1 L592.0,560.8 L592.5,557.5 L593.0,554.9 L593.5,552.1 L594.0,551.2 L594.5,547.2 L595.0,546.4 L595.5,545.8 L596.0,546.3 L596.5,546.2 L597.0,547.2 L597.5,550.4 L598.0,551.3 L598.5,554.1 L599.0,555.4 L599.5,559.5 L600.0,561.6 L600.5,561.8 L601.0,564.6 L601.5,566.5 L602.0,566.5 L602.5,566.5 L603.0,568.4 L603.5,569.5 L604.0,567.8 L604.5,570.4 L605.0,569.8 L605.5,570.8 L606.0,569.3 L606.5,571.0 L607.0,570.6 L607.5,571.0 L608.0,570.5 L608.5,571.3 L609.0,570.3 L609.5,570.1 L610.0,569.6 L610.5,569.1 L611.0,570.4 L611.5,570.0 L612.0,570.1 L612.5,569.8 L613.0,570.2 L613.5,569.7 L614.0,568.9 L614.5,569.7 L615.0,570.6 L615.5,567.7 L616.0,567.8 L616.5,568.3 L617.0,566.9 L617.5,568.1 L618.0,566.5 L618.5,565.9 L619.0,566.2 L619.5,567.9 L620.0,565.5 L620.5,567.6 L621.0,566.0 L621.5,568.8 L622.0,568.9 L622.5,569.5 L623.0,571.1 L623.5,569.5 L624.0,570.9 L624.5,570.7 L625.0,571.3 L625.5,569.9 L626.0,571.7 L626.5,570.6 L627.0,572.2 L627.5,571.8 L628.0,571.2 L628.5,571.7 L629.0,571.7 L629.5,571.4 L630.0,573.2 L630.5,570.6 L631.0,570.1 L631.5,570.2 L632.0,571.1 L632.5,571.3 L633.0,571.9 L633.5,572.2 L634.0,571.6 L634.5,571.5 L635.0,570.6 L635.5,572.3 L636.0,572.6 L636.5,571.3 L637.0,572.0 L637.5,570.9 L638.0,571.4 L638.5,571.5 L639.0,572.2 L639.5,570.2 L640.0,571.5 L640.5,572.2 L641.0,571.7 L641.5,572.0 L642.0,569.3 L642.5,570.7 L643.0,571.1 L643.5,570.8 L644.0,569.4 L644.5,572.3 L645.0,571.6 L645.5,569.8 L646.0,571.0 L646.5,571.4 L647.0,572.2 L647.5,572.0 L648.0,570.5 L648.5,570.8 L649.0,571.6 L649.5,572.2 L650.0,571.0 L650.5,570.8 L651.0,571.8 L651.5,571.5 L652.0,572.5 L652.5,571.8 L653.0,572.2 L653.5,569.7 L654.0,570.2 L654.5,570.0 L655.0,570.7 L655.5,571.6 L656.0,571.1 L656.5,571.7 L657.0,570.6 L657.5,572.1 L658.0,572.0 L658.5,569.8 L659.0,570.4 L659.5,570.7 L660.0,572.0 L660.5,571.9 L661.0,572.8 L661.5,569.9 L662.0,571.4 L662.5,571.2 L663.0,571.0 L663.5,571.1 L664.0,569.4 L664.5,571.4 L665.0,570.8 L665.5,570.1 L666.0,572.3 L666.5,570.5 L667.0,571.3 L667.5,570.5 L668.0,569.8 L668.5,570.7 L669.0,571.3 L669.5,570.2 L670.0,571.5 L670.5,572.5 L671.0,572.0 L671.5,570.7 L672.0,570.3 L672.5,571.7 L673.0,569.7 L673.5,570.0 L674.0,572.4 L674.5,571.2 L675.0,571.3 L675.5,570.6 L676.0,572.8 L676.5,572.7 L677.0,570.6 L677.5,571.4 L678.0,570.4 L678.5,570.9 L679.0,571.6 L679.5,571.5 L680.0,570.1 L680.5,570.5 L681.0,572.0 L681.5,570.8 L682.0,571.0 L682.5,570.0 L683.0,569.2 L683.5,568.1 L684.0,567.8 L684.5,566.8 L685.0,566.7 L685.5,566.2 L686.0,566.7 L686.5,563.3 L687.0,563.4 L687.5,558.8 L688.0,558.7 L688.5,550.3 L689.0,541.2 L689.5,526.7 L690.0,503.5 L690.5,490.8 L691.0,502.5 L691.5,522.9 L692.0,535.9 L692.5,544.6 L693.0,545.4 L693.5,541.0 L694.0,535.4 L694.5,532.5 L695.0,540.2 L695.5,550.1 L696.0,557.2 L696.5,559.6 L697.0,563.3 L697.5,565.7 L698.0,565.5 L698.5,567.6 L699.0,567.0 L699.5,568.6 L700.0,568.8 L700.5,569.4 L701.0,568.7 L701.5,567.8 L702.0,567.6 L702.5,571.8 L703.0,568.7 L703.5,569.3 L704.0,568.7 L704.5,571.4 L705.0,570.9 L705.5,571.0 L706.0,569.3 L706.5,571.1 L707.0,569.6 L707.5,571.3 L708.0,570.0 L708.5,568.0 L709.0,569.8 L709.5,569.0 L710.0,571.6 L710.5,568.3 L711.0,569.0 L711.5,568.8 L712.0,568.2 L712.5,568.1 L713.0,568.6 L713.5,568.9 L714.0,568.2 L714.5,568.3 L715.0,568.6 L715.5,567.9 L716.0,568.7 L716.5,569.1 L717.0,570.1 L717.5,570.0 L718.0,570.0 L718.5,570.5 L719.0,569.2 L719.5,571.0 L720.0,569.7 L720.5,570.0 L721.0,569.8 L721.5,570.8 L722.0,569.7 L722.5,570.8 L723.0,570.0 L723.5,569.8 L724.0,570.6 L724.5,569.4 L725.0,571.2 L725.5,569.5 L726.0,569.6 L726.5,571.0 L727.0,568.6 L727.5,570.6 L728.0,569.8 L728.5,569.7 L729.0,569.7 L729.5,568.6 L730.0,570.7 L730.5,569.5 L731.0,569.5 L731.5,569.4 L732.0,569.3 L732.5,568.5 L733.0,567.1 L733.5,566.4 L734.0,565.9 L734.5,566.2 L735.0,566.9 L735.5,564.2 L736.0,564.2 L736.5,564.0 L737.0,561.8 L737.5,560.2 L738.0,557.2 L738.5,555.3 L739.0,550.4 L739.5,544.3 L740.0,535.4 L740.5,521.8 L741.0,498.9 L741.5,458.9 L742.0,408.3 L742.5,375.8 L743.0,403.3 L743.5,453.0 L744.0,487.5 L744.5,504.6 L745.0,509.4 L745.5,500.6 L746.0,486.8 L746.5,472.7 L747.0,483.9 L747.5,507.1 L748.0,528.9 L748.5,540.7 L749.0,548.6 L749.5,554.0 L750.0,556.0 L750.5,560.6 L751.0,562.2 L751.5,563.2 L752.0,564.7 L752.5,562.6 L753.0,564.3 L753.5,564.6 L754.0,564.0 L754.5,565.9 L755.0,567.3 L755.5,564.3 L756.0,565.6 L756.5,565.0 L757.0,564.9 L757.5,564.6 L758.0,564.8 L758.5,563.4 L759.0,563.3 L759.5,564.8 L760.0,563.1 L760.5,562.8 L761.0,561.1 L761.5,562.7 L762.0,562.7 L762.5,562.3 L763.0,563.3 L763.5,560.3 L764.0,562.8 L764.5,560.7 L765.0,561.4 L765.5,560.8 L766.0,563.5 L766.5,563.0 L767.0,563.1 L767.5,563.9 L768.0,562.5 L768.5,564.2 L769.0,565.4 L769.5,565.1 L770.0,566.0 L770.5,565.1 L771.0,567.0 L771.5,567.0 L772.0,567.8 L772.5,569.3 L773.0,568.3 L773.5,568.0 L774.0,569.2 L774.5,568.1 L775.0,570.7 L775.5,569.5 L776.0,569.7 L776.5,570.3 L777.0,568.9 L777.5,570.1 L778.0,570.0 L778.5,572.2 L779.0,571.6 L779.5,572.0 L780.0,570.6 L780.5,570.7 L781.0,571.5 L781.5,570.1 L782.0,569.9 L782.5,572.1 L783.0,571.2 L783.5,571.2 L784.0,569.4 L784.5,570.5 L785.0,570.5 L785.5,570.3 L786.0,571.2 L786.5,570.1 L787.0,569.9 L787.5,572.6 L788.0,571.4 L788.5,570.1 L789.0,572.8 L789.5,571.5 L790.0,571.3 L790.5,569.1 L791.0,572.3 L791.5,571.2 L792.0,572.1 L792.5,572.6 L793.0,570.0 L793.5,572.7 L794.0,571.9 L794.5,571.3 L795.0,569.2 L795.5,572.9 L796.0,571.5 L796.5,571.7 L797.0,570.2 L797.5,571.7 L798.0,571.7 L798.5,572.5 L799.0,570.4 L799.5,569.4 L800.0,570.7 L800.5,570.4 L801.0,571.5 L801.5,571.1 L802.0,571.4 L802.5,572.3 L803.0,572.7 L803.5,571.3 L804.0,569.9 L804.5,571.3 L805.0,571.1 L805.5,571.2 L806.0,571.1 L806.5,571.2 L807.0,569.4 L807.5,571.7 L808.0,571.7 L808.5,571.5 L809.0,571.2 L809.5,572.0 L810.0,569.8 L810.5,571.2 L811.0,571.7 L811.5,570.9 L812.0,571.2 L812.5,572.1 L813.0,571.1 L813.5,570.5 L814.0,570.8 L814.5,571.6 L815.0,570.4 L815.5,571.3 L816.0,570.9 L816.5,571.3 L817.0,571.9 L817.5,571.9 L818.0,571.3 L818.5,571.5 L819.0,571.9 L819.5,570.6 L820.0,571.4 L820.5,570.3 L821.0,572.3 L821.5,571.4 L822.0,570.2 L822.5,570.9 L823.0,571.9 L823.5,571.5 L824.0,569.9 L824.5,572.8 L825.0,571.5 L825.5,571.6 L826.0,571.1 L826.5,570.6 L827.0,570.0 L827.5,571.4 L828.0,571.3 L828.5,571.1 L829.0,572.0 L829.5,571.6 L830.0,570.5 L830.5,571.0 L831.0,572.3 L831.5,570.2 L832.0,573.1 L832.5,570.9 L833.0,573.4 L833.5,571.7 L834.0,570.0 L834.5,571.7 L835.0,571.4 L835.5,571.0 L836.0,571.4 L836.5,571.4 L837.0,569.4 L837.5,572.0 L838.0,571.1 L838.5,571.4 L839.0,572.0 L839.5,571.4 L840.0,570.3 L840.5,572.1 L841.0,571.1 L841.5,571.6 L842.0,570.8 L842.5,571.2 L843.0,570.5 L843.5,572.7 L844.0,570.5 L844.5,572.2 L845.0,569.8 L845.5,571.6 L846.0,571.1 L846.5,572.2 L847.0,571.6 L847.5,573.3 L848.0,573.5 L848.5,570.9 L849.0,572.0 L849.5,570.6 L850.0,570.6 L850.5,571.4 L851.0,572.2 L851.5,572.0 L852.0,571.3 L852.5,572.4 L853.0,570.4 L853.5,570.7 L854.0,571.4 L854.5,569.9 L855.0,572.6 L855.5,571.3 L856.0,571.1 L856.5,571.8 L857.0,570.3 L857.5,571.3 L858.0,570.0 L858.5,571.3 L859.0,571.5 L859.5,572.8 L860.0,571.4 L860.5,572.6 L861.0,571.4 L861.5,570.1 L862.0,572.1 L862.5,571.5 L863.0,571.0 L863.5,572.2 L864.0,570.6 L864.5,571.1 L865.0,572.0 L865.5,572.2 L866.0,570.9 L866.5,571.7 L867.0,571.5 L867.5,572.0 L868.0,571.2 L868.5,569.6 L869.0,571.1 L869.5,572.7 L870.0,570.7 L870.5,571.3 L871.0,572.1 L871.5,571.3 L872.0,570.5 L872.5,571.4 L873.0,571.3 L873.5,570.7 L874.0,571.3 L874.5,570.3 L875.0,570.1 L875.5,570.5 L876.0,571.3 L876.5,571.4 L877.0,570.9 L877.5,572.4 L878.0,572.0 L878.5,571.5 L879.0,572.4 L879.5,572.7 L880.0,572.1 L880.5,571.0 L881.0,572.2 L881.5,572.5 L882.0,571.8 L882.5,571.4 L883.0,571.7 L883.5,571.8 L884.0,569.9 L884.5,572.8 L885.0,571.5 L885.5,573.2 L886.0,571.5 L886.5,570.8 L887.0,572.2 L887.5,571.5 L888.0,572.2 L888.5,571.1 L889.0,571.1 L889.5,570.9 L890.0,570.9 L890.5,571.8 L891.0,570.4 L891.5,571.6 L892.0,572.4 L892.5,570.7 L893.0,571.3 L893.5,570.8 L894.0,571.1 L894.5,571.6 L895.0,572.0 L895.5,572.2 L896.0,570.9 L896.5,572.0 L897.0,570.9 L897.5,570.5 L898.0,570.6 L898.5,569.8 L899.0,571.5 L899.5,569.9 L900.0,571.6 L900.5,573.5 L901.0,570.7 L901.5,569.7 L902.0,571.8 L902.5,570.6 L903.0,571.4 L903.5,571.4 L904.0,571.6 L904.5,573.4 L905.0,571.7 L905.5,571.7 L906.0,571.4 L906.5,570.8 L907.0,570.9 L907.5,570.6 L908.0,572.2 L908.5,571.3 L909.0,572.0 L909.5,571.8 L910.0,573.4 L910.5,571.4 L911.0,572.0 L911.5,571.0 L912.0,572.5 L912.5,571.3 L913.0,571.5 L913.5,570.3 L914.0,572.0 L914.5,572.9 L915.0,572.7 L915.5,570.6 L916.0,572.3 L916.5,570.9 L917.0,570.1 L917.5,570.5 L918.0,572.6 L918.5,571.3 L919.0,570.5 L919.5,571.8 L920.0,571.8 L920.5,571.3 L921.0,571.9 L921.5,571.2 L922.0,572.6 L922.5,572.2 L923.0,571.5 L923.5,571.8 L924.0,572.3 L924.5,571.4 L925.0,572.0 L925.5,571.4 L926.0,571.2 L926.5,569.9 L927.0,570.4 L927.5,570.6 L928.0,571.5 L928.5,573.5 L929.0,570.7 L929.5,571.1 L930.0,570.4 L930.5,571.1 L931.0,571.3 L931.5,572.1 L932.0,570.3 L932.5,571.9 L933.0,571.7 L933.5,571.2 L934.0,570.4 L934.5,570.6 L935.0,571.3 L935.5,571.9 L936.0,571.4 L936.5,570.8 L937.0,571.7 L937.5,570.6 L938.0,572.1 L938.5,573.5 L939.0,571.0 L939.5,572.3 L940.0,570.6 L940.5,571.5 L941.0,571.9 L941.5,572.5 L942.0,571.5 L942.5,572.6 L943.0,570.4 L943.5,571.3 L944.0,571.5 L944.5,571.5 L945.0,571.4 L945.5,573.1 L946.0,571.1 L946.5,572.3 L947.0,571.8 L947.5,573.2 L948.0,571.3 L948.5,572.1 L949.0,572.0 L949.5,569.4 L950.0,571.8 L950.5,572.4 L951.0,572.8 L951.5,570.6 L952.0,571.3 L952.5,572.6 L953.0,570.6 L953.5,570.8 L954.0,572.0 L954.5,572.1 L955.0,572.7 L955.5,572.5 L956.0,571.7 L956.5,570.6 L957.0,571.0 L957.5,571.5 L958.0,571.9 L958.5,571.6 L959.0,572.2 L959.5,570.9 L960.0,571.2 L960.5,570.4 L961.0,573.3 L961.5,571.4 L962.0,572.4 L962.5,572.6 L963.0,571.9 L963.5,571.4 L964.0,571.1 L964.5,571.3 L965.0,570.1 L965.5,571.1 L966.0,572.2 L966.5,571.8 L967.0,572.3 L967.5,572.2 L968.0,572.2 L968.5,571.7 L969.0,571.7 L969.5,572.3 L970.0,571.2 L970.5,570.4 L971.0,572.3 L971.5,571.6 L972.0,572.5 L972.5,571.0 L973.0,570.1 L973.5,571.4 L974.0,571.0 L974.5,570.7 L975.0,572.9 L975.5,571.8 L976.0,570.5 L976.5,570.2 L977.0,571.4 L977.5,572.0 L978.0,571.8 L978.5,572.5 L979.0,571.8 L979.5,571.9 L980.0,569.9 L980.5,572.6 L981.0,571.1 L981.5,572.3 L982.0,570.2 L982.5,570.8 L983.0,572.6 L983.5,570.5 L984.0,571.7 L984.5,571.2 L985.0,573.0 L985.5,571.9 L986.0,572.7 L986.5,571.5 L987.0,570.1 L987.5,573.3 L988.0,571.1 L988.5,571.6 L989.0,571.5 L989.5,570.2 L990.0,572.2 L990.5,571.2 L991.0,570.0 L991.5,570.3 L992.0,569.6 L992.5,570.9 L993.0,571.4 L993.5,570.7 L994.0,571.5 L994.5,571.2 L995.0,571.9 L995.5,571.5 L996.0,571.4 L996.5,570.8 L997.0,570.5 L997.5,570.7 L998.0,571.8 L998.5,571.1 L999.0,572.7 L999.5,572.2 L1000.0,570.3 L1000.5,571.9 L1001.0,572.5 L1001.5,570.9 L1002.0,572.5 L1002.5,570.9 L1003.0,572.8 L1003.5,571.9 L1004.0,571.3 L1004.5,570.0 L1005.0,571.4 L1005.5,570.8 L1006.0,571.8 L1006.5,570.7 L1007.0,571.9 L1007.5,571.1 L1008.0,572.0 L1008.5,572.2 L1009.0,571.6 L1009.5,571.9 L1010.0,572.4 L1010.5,570.7 L1011.0,572.0 L1011.5,571.7 L1012.0,572.9 L1012.5,571.3 L1013.0,572.3 L1013.5,570.0 L1014.0,572.6 L1014.5,571.8 L1015.0,571.8 L1015.5,572.2 L1016.0,570.4 L1016.5,571.3 L1017.0,571.5 L1017.5,571.2 L1018.0,571.0 L1018.5,572.3 L1019.0,571.5 L1019.5,571.3 L1020.0,571.5 L1020.5,572.6 L1021.0,573.1 L1021.5,572.4 L1022.0,571.9 L1022.5,570.3 L1023.0,571.0 L1023.5,570.7 L1024.0,570.7 L1024.5,572.5 L1025.0,570.9 L1025.5,572.6 L1026.0,571.6 L1026.5,571.3 L1027.0,571.3 L1027.5,570.2 L1028.0,571.1 L1028.5,572.2 L1029.0,572.1 L1029.5,571.6 L1030.0,572.0 L1030.5,571.6 L1031.0,571.8 L1031.5,573.5 L1032.0,571.6 L1032.5,570.0 L1033.0,569.6 L1033.5,570.8 L1034.0,571.6 L1034.5,572.3 L1035.0,571.4 L1035.5,571.6 L1036.0,572.0 L1036.5,570.6 L1037.0,571.4 L1037.5,571.7 L1038.0,571.1 L1038.5,570.7 L1039.0,571.9 L1039.5,572.4 L1040.0,571.5 L1040.5,569.4 L1041.0,570.8 L1041.5,571.1 L1042.0,571.8 L1042.5,571.0 L1043.0,571.1 L1043.5,572.3 L1044.0,572.5 L1044.5,571.5 L1045.0,570.5 L1045.5,570.4 L1046.0,572.0 L1046.5,570.7 L1047.0,571.4 L1047.5,571.2 L1048.0,571.5 L1048.5,571.7 L1049.0,570.5 L1049.5,570.8 L1050.0,571.5 L1050.5,571.4 L1051.0,570.2 L1051.5,573.0 L1052.0,570.2 L1052.5,572.3 L1053.0,570.0 L1053.5,572.2 L1054.0,569.9 L1054.5,572.1 L1055.0,571.5 L1055.5,572.0 L1056.0,570.7 L1056.5,571.6 L1057.0,571.6 L1057.5,571.5 L1058.0,570.9 L1058.5,572.5 L1059.0,569.8 L1059.5,570.0 L1060.0,570.1 L1060.5,572.6 L1061.0,570.6 L1061.5,570.7 L1062.0,570.7 L1062.5,571.1 L1063.0,571.1 L1063.5,570.9 L1064.0,570.0 L1064.5,571.7 L1065.0,571.3 L1065.5,572.6 L1066.0,571.7 L1066.5,571.2 L1067.0,570.1 L1067.5,571.4 L1068.0,571.8 L1068.5,572.7 L1069.0,571.6 L1069.5,572.0 L1070.0,571.8 L1070.5,572.7 L1071.0,572.3 L1071.5,571.3 L1072.0,570.0 L1072.5,572.7 L1073.0,571.4 L1073.5,570.6 L1074.0,570.0 L1074.5,569.8 L1075.0,571.5 L1075.5,571.1 L1076.0,571.5 L1076.5,572.3 L1077.0,570.7 L1077.5,571.5 L1078.0,570.8 L1078.5,570.5 L1079.0,569.3 L1079.5,570.5 L1080.0,572.1 L1080.5,570.8 L1081.0,571.5 L1081.5,571.3 L1082.0,572.9 L1082.5,572.4 L1083.0,570.6 L1083.5,570.8 L1084.0,572.1 L1084.5,571.4 L1085.0,571.2 L1085.5,572.2 L1086.0,571.6 L1086.5,571.3 L1087.0,573.1 L1087.5,571.5 L1088.0,570.0 L1088.5,571.4 L1089.0,571.3 L1089.5,572.5 L1090.0,571.3 L1090.5,570.5 L1091.0,571.3 L1091.5,570.0 L1092.0,570.7 L1092.5,571.3 L1093.0,570.2 L1093.5,569.2 L1094.0,570.0 L1094.5,570.2 L1095.0,571.3 L1095.5,570.4 L1096.0,570.7 L1096.5,569.9 L1097.0,570.8 L1097.5,570.1 L1098.0,571.1 L1098.5,570.8 L1099.0,571.8 L1099.5,571.0 L1100.0,570.2 L1100.5,569.7 L1101.0,570.5 L1101.5,570.9 L1102.0,571.6 L1102.5,569.7 L1103.0,569.0 L1103.5,568.4 L1104.0,569.1 L1104.5,569.7 L1105.0,569.5 L1105.5,569.3 L1106.0,569.4 L1106.5,569.6 L1107.0,567.7 L1107.5,569.0 L1108.0,568.7 L1108.5,568.4 L1109.0,568.0 L1109.5,566.5 L1110.0,568.1 L1110.5,567.0 L1111.0,566.8 L1111.5,566.7 L1112.0,565.9 L1112.5,565.5 L1113.0,564.6 L1113.5,562.4 L1114.0,560.9 L1114.5,560.9 L1115.0,557.5 L1115.5,557.1 L1116.0,550.5 L1116.5,546.3 L1117.0,538.3 L1117.5,526.8 L1118.0,506.9 L1118.5,477.1 L1119.0,428.8 L1119.5,364.4 L1120.0,339.2 L1120.5,386.8 L1121.0,444.1 L1121.5,482.4 L1122.0,501.5 L1122.5,510.7 L1123.0,509.3 L1123.5,495.6 L1124.0,473.0 L1124.5,455.1 L1125.0,468.1 L1125.5,497.4 L1126.0,521.8 L1126.5,538.5 L1127.0,547.9 L1127.5,551.3 L1128.0,558.1 L1128.5,558.7 L1129.0,562.1 L1129.5,561.7 L1130.0,563.8 L1130.5,564.4 L1131.0,566.4 L1131.5,566.5 L1132.0,567.3 L1132.5,567.7 L1133.0,567.9 L1133.5,568.8 L1134.0,568.4 L1134.5,568.5 L1135.0,568.3 L1135.5,568.2 L1136.0,568.7 L1136.5,569.6 L1137.0,570.3 L1137.5,569.5 L1138.0,571.4 L1138.5,570.8 L1139.0,569.9 L1139.5,570.3 L1140.0,570.0 L1140.5,568.5 L1141.0,570.9 L1141.5,570.4 L1142.0,568.9 L1142.5,571.1 L1143.0,569.9 L1143.5,570.2 L1144.0,569.0 L1144.5,570.5 L1145.0,570.9 L1145.5,570.2 L1146.0,570.6 L1146.5,569.0 L1147.0,571.1 L1147.5,570.6 L1148.0,570.7 L1148.5,571.3 L1149.0,571.6 L1149.5,570.7 L1150.0,571.6 L1150.5,572.4 L1151.0,569.9 L1151.5,570.9 L1152.0,569.5 L1152.5,571.2 L1153.0,572.0 L1153.5,570.8 L1154.0,569.9 L1154.5,570.5 L1155.0,571.3 L1155.5,569.7 L1156.0,569.7 L1156.5,571.4 L1157.0,569.8 L1157.5,571.0 L1158.0,570.1 L1158.5,569.6 L1159.0,571.7 L1159.5,572.0 L1160.0,570.4 L1160.5,573.0 L1161.0,571.2 L1161.5,571.5 L1162.0,571.2 L1162.5,570.2 L1163.0,572.0 L1163.5,571.2 L1164.0,571.5 L1164.5,571.2 L1165.0,570.8 L1165.5,573.1 L1166.0,571.5 L1166.5,570.9 L1167.0,571.7 L1167.5,570.1 L1168.0,571.5 L1168.5,573.3 L1169.0,570.6 L1169.5,571.6 L1170.0,570.2 L1170.5,571.2 L1171.0,572.1 L1171.5,570.3 L1172.0,570.4 L1172.5,572.2 L1173.0,571.4 L1173.5,571.8 L1174.0,571.7 L1174.5,570.1 L1175.0,569.7 L1175.5,569.6 L1176.0,571.6 L1176.5,570.0 L1177.0,569.7 L1177.5,570.7 L1178.0,571.1 L1178.5,571.4 L1179.0,569.7 L1179.5,572.4 L1180.0,570.4 L1180.5,571.3 L1181.0,571.2 L1181.5,570.4 L1182.0,571.6 L1182.5,571.5 L1183.0,572.2 L1183.5,572.9 L1184.0,573.1 L1184.5,572.1 L1185.0,571.8 L1185.5,570.9 L1186.0,570.0 L1186.5,571.6 L1187.0,570.8 L1187.5,571.0 L1188.0,570.9 L1188.5,571.6 L1189.0,570.9 L1189.5,573.3 L1190.0,572.0 L1190.5,570.8 L1191.0,571.6 L1191.5,572.5 L1192.0,570.3 L1192.5,571.5 L1193.0,570.8 L1193.5,571.3 L1194.0,570.9 L1194.5,571.4 L1195.0,571.7 L1195.5,571.8 L1196.0,570.0 L1196.5,571.9 L1197.0,571.3 L1197.5,570.8 L1198.0,571.3 L1198.5,572.7 L1199.0,571.2 L1199.5,570.6 L1200.0,571.9 L1200.5,571.1 L1201.0,571.9 L1201.5,571.6 L1202.0,572.5 L1202.5,570.8 L1203.0,571.0 L1203.5,572.3 L1204.0,572.8 L1204.5,571.5 L1205.0,572.4 L1205.5,571.8 L1206.0,571.3 L1206.5,569.9 L1207.0,573.2 L1207.5,572.4 L1208.0,569.4 L1208.5,572.0 L1209.0,570.8 L1209.5,570.5 L1210.0,570.8 L1210.5,572.0 L1211.0,571.3 L1211.5,571.2 L1212.0,571.2 L1212.5,571.0 L1213.0,571.8 L1213.5,569.6 L1214.0,570.2 L1214.5,571.2 L1215.0,570.3 L1215.5,571.5 L1216.0,571.0 L1216.5,571.7 L1217.0,571.2 L1217.5,571.8 L1218.0,571.3 L1218.5,572.0 L1219.0,571.0 L1219.5,569.8 L1220.0,571.4 L1220.5,571.4 L1221.0,570.9 L1221.5,572.2 L1222.0,571.8 L1222.5,572.7 L1223.0,571.1 L1223.5,571.0 L1224.0,571.8 L1224.5,572.7 L1225.0,570.8 L1225.5,571.8 L1226.0,571.4 L1226.5,571.1 L1227.0,572.2 L1227.5,572.2 L1228.0,572.0 L1228.5,570.8 L1229.0,571.4 L1229.5,570.0 L1230.0,571.9 L1230.5,570.3 L1231.0,571.2 L1231.5,572.1 L1232.0,571.2 L1232.5,571.5 L1233.0,570.8 L1233.5,573.4 L1234.0,570.4 L1234.5,570.9 L1235.0,571.3 L1235.5,573.4 L1236.0,570.9 L1236.5,571.5 L1237.0,572.1 L1237.5,569.6 L1238.0,572.2 L1238.5,571.8 L1239.0,572.7 L1239.5,572.8 L1240.0,571.9 L1240.5,572.4 L1241.0,570.9 L1241.5,570.5 L1242.0,571.3 L1242.5,571.6 L1243.0,571.2 L1243.5,571.8 L1244.0,572.0 L1244.5,573.0 L1245.0,571.3 L1245.5,571.1 L1246.0,571.9 L1246.5,571.7 L1247.0,572.0 L1247.5,572.9 L1248.0,570.8 L1248.5,572.1 L1249.0,572.6 L1249.5,572.6 L1250.0,570.2 L1250.5,571.2 L1251.0,572.6 L1251.5,571.5 L1252.0,571.8 L1252.5,571.4 L1253.0,572.6 L1253.5,571.7 L1254.0,571.2 L1254.5,571.5 L1255.0,572.6 L1255.5,571.8 L1256.0,570.0 L1256.5,569.6 L1257.0,572.0 L1257.5,569.9 L1258.0,571.5 L1258.5,570.7 L1259.0,571.5 L1259.5,570.7 L1260.0,569.3 L1260.5,572.5 L1261.0,571.2 L1261.5,571.1 L1262.0,572.6 L1262.5,571.8 L1263.0,572.2 L1263.5,571.0 L1264.0,571.3 L1264.5,571.6 L1265.0,570.7 L1265.5,571.9 L1266.0,571.6 L1266.5,570.9 L1267.0,570.8 L1267.5,571.9 L1268.0,571.0 L1268.5,571.5 L1269.0,571.4 L1269.5,571.0 L1270.0,569.1 L1270.5,571.4 L1271.0,571.8 L1271.5,570.5 L1272.0,570.5 L1272.5,571.8 L1273.0,570.0 L1273.5,572.1 L1274.0,571.5 L1274.5,572.2 L1275.0,571.0 L1275.5,571.1 L1276.0,571.2 L1276.5,569.6 L1277.0,570.2 L1277.5,571.9 L1278.0,570.3 L1278.5,570.1 L1279.0,571.1 L1279.5,572.0 L1280.0,570.7 L1280.5,570.5 L1281.0,570.7 L1281.5,571.0 L1282.0,569.3 L1282.5,570.9 L1283.0,570.9 L1283.5,571.4 L1284.0,571.3 L1284.5,570.9 L1285.0,572.0 L1285.5,570.2 L1286.0,570.0 L1286.5,571.3 L1287.0,569.9 L1287.5,569.2 L1288.0,569.1 L1288.5,569.4 L1289.0,568.1 L1289.5,569.9 L1290.0,569.1 L1290.5,569.7 L1291.0,567.5 L1291.5,567.8 L1292.0,567.2 L1292.5,567.9 L1293.0,567.5 L1293.5,567.4 L1294.0,567.0 L1294.5,565.1 L1295.0,565.9 L1295.5,565.3 L1296.0,564.7 L1296.5,564.7 L1297.0,562.2 L1297.5,562.7 L1298.0,562.6 L1298.5,561.6 L1299.0,560.8 L1299.5,562.1 L1300.0,561.5 L1300.5,561.7 L1301.0,559.0 L1301.5,557.4 L1302.0,559.5 L1302.5,558.2 L1303.0,557.2 L1303.5,558.2 L1304.0,557.4 L1304.5,555.8 L1305.0,557.2 L1305.5,555.6 L1306.0,557.4 L1306.5,555.9 L1307.0,555.8 L1307.5,557.9 L1308.0,558.3 L1308.5,557.5 L1309.0,557.1 L1309.5,558.9 L1310.0,558.9 L1310.5,559.5 L1311.0,559.4 L1311.5,558.9 L1312.0,560.3 L1312.5,562.4 L1313.0,561.1 L1313.5,562.1 L1314.0,562.7 L1314.5,564.0 L1315.0,563.9 L1315.5,563.8 L1316.0,566.2 L1316.5,565.2 L1317.0,565.8 L1317.5,565.4 L1318.0,565.0 L1318.5,567.1 L1319.0,566.7 L1319.5,567.6 L1320.0,565.8 L1320.5,569.4 L1321.0,568.3 L1321.5,569.2 L1322.0,567.8 L1322.5,569.0 L1323.0,569.2 L1323.5,570.2 L1324.0,570.1 L1324.5,567.9 L1325.0,569.9 L1325.5,570.0 L1326.0,569.7 L1326.5,570.2 L1327.0,570.6 L1327.5,571.0 L1328.0,569.4 L1328.5,569.7 L1329.0,570.5 L1329.5,571.1 L1330.0,569.7 L1330.5,570.6 L1331.0,569.6 L1331.5,570.7 L1332.0,570.6 L1332.5,571.2 L1333.0,571.9 L1333.5,570.1 L1334.0,571.2 L1334.5,569.5 L1335.0,571.1 L1335.5,572.4 L1336.0,569.6 L1336.5,570.5 L1337.0,568.9 L1337.5,571.3 L1338.0,572.8 L1338.5,570.2 L1339.0,571.3 L1339.5,572.2 L1340.0,570.4 L1340.5,571.2 L1341.0,570.4 L1341.5,570.7 L1342.0,571.1 L1342.5,571.8 L1343.0,571.3 L1343.5,571.1 L1344.0,571.0 L1344.5,572.0 L1345.0,571.6 L1345.5,571.5 L1346.0,569.6 L1346.5,571.0 L1347.0,570.3 L1347.5,572.7 L1348.0,571.7 L1348.5,572.4 L1349.0,570.5 L1349.5,569.9 L1350.0,570.5 L1350.5,571.8 L1351.0,570.6 L1351.5,571.8 L1352.0,572.4 L1352.5,571.0 L1353.0,572.1 L1353.5,569.4 L1354.0,570.2 L1354.5,570.7 L1355.0,571.0 L1355.5,570.1 L1356.0,571.0 L1356.5,572.2 L1357.0,572.0 L1357.5,571.6 L1358.0,570.5 L1358.5,572.5 L1359.0,571.9 L1359.5,570.4 L1360.0,572.1 L1360.5,571.0 L1361.0,571.8 L1361.5,571.6 L1362.0,571.8 L1362.5,572.6 L1363.0,573.3 L1363.5,571.7 L1364.0,571.5 L1364.5,571.3 L1365.0,571.7 L1365.5,571.9 L1366.0,570.3 L1366.5,571.5 L1367.0,573.3 L1367.5,572.0 L1368.0,572.3 L1368.5,571.4 L1369.0,573.2 L1369.5,571.9 L1370.0,571.1 L1370.5,570.8 L1371.0,571.8 L1371.5,572.9 L1372.0,570.8 L1372.5,570.6 L1373.0,569.4 L1373.5,572.0 L1374.0,570.5 L1374.5,570.8 L1375.0,570.5 L1375.5,570.6 L1376.0,572.0 L1376.5,570.7 L1377.0,571.5 L1377.5,570.8 L1378.0,571.1 L1378.5,571.9 L1379.0,571.9 L1379.5,570.4 L1380.0,571.4 L1380.5,570.6 L1381.0,572.0 L1381.5,570.8 L1382.0,570.6 L1382.5,572.0 L1383.0,570.9 L1383.5,571.5 L1384.0,571.9 L1384.5,570.9 L1385.0,571.1 L1385.5,571.8 L1386.0,573.3 L1386.5,571.8 L1387.0,571.9 L1387.5,571.3 L1388.0,571.3 L1388.5,572.6 L1389.0,570.7 L1389.5,570.7 L1390.0,572.6 L1390.5,570.6 L1391.0,570.2 L1391.5,571.7 L1392.0,572.1 L1392.5,572.8 L1393.0,573.2 L1393.5,569.3 L1394.0,571.1 L1394.5,571.0 L1395.0,571.6 L1395.5,570.5 L1396.0,571.2 L1396.5,571.4 L1397.0,571.4 L1397.5,570.4 L1398.0,571.4 L1398.5,570.4 L1399.0,570.4 L1399.5,570.9 L1400.0,571.7 L1400.5,569.3 L1401.0,571.0 L1401.5,572.1 L1402.0,571.1 L1402.5,570.4 L1403.0,571.0 L1403.5,572.1 L1404.0,570.5 L1404.5,570.0 L1405.0,571.1 L1405.5,570.1 L1406.0,569.6 L1406.5,570.7 L1407.0,569.1 L1407.5,569.3 L1408.0,570.3 L1408.5,568.8 L1409.0,569.1 L1409.5,565.5 L1410.0,564.4 L1410.5,563.0 L1411.0,560.4 L1411.5,554.0 L1412.0,548.8 L1412.5,541.2 L1413.0,540.2 L1413.5,546.7 L1414.0,553.5 L1414.5,557.7 L1415.0,561.5 L1415.5,562.2 L1416.0,564.9 L1416.5,563.0 L1417.0,561.6 L1417.5,558.8 L1418.0,557.2 L1418.5,558.0 L1419.0,560.8 L1419.5,563.0 L1420.0,567.0 L1420.5,567.5 L1421.0,566.8 L1421.5,567.1 L1422.0,568.5 L1422.5,568.8 L1423.0,568.6 L1423.5,569.4 L1424.0,570.7 L1424.5,571.6 L1425.0,570.8 L1425.5,571.0 L1426.0,571.8 L1426.5,572.7 L1427.0,571.9 L1427.5,571.5 L1428.0,570.9 L1428.5,570.2 L1429.0,571.4 L1429.5,572.1 L1430.0,571.4 L1430.5,570.7 L1431.0,571.6 L1431.5,571.1 L1432.0,570.7 L1432.5,569.5 L1433.0,571.7 L1433.5,570.6 L1434.0,572.2 L1434.5,570.7 L1435.0,571.3 L1435.5,570.8 L1436.0,572.8 L1436.5,572.4 L1437.0,571.3 L1437.5,572.5 L1438.0,570.2 L1438.5,571.9 L1439.0,570.8 L1439.5,571.2 L1440.0,570.9 L1440.5,571.8 L1441.0,569.8 L1441.5,570.9 L1442.0,572.5 L1442.5,569.4 L1443.0,571.2 L1443.5,570.2 L1444.0,569.3 L1444.5,571.7 L1445.0,570.9 L1445.5,572.5 L1446.0,569.8 L1446.5,571.7 L1447.0,572.7 L1447.5,569.8 L1448.0,571.9 L1448.5,572.0 L1449.0,571.6 L1449.5,572.6 L1450.0,572.0 L1450.5,570.8 L1451.0,570.7 L1451.5,571.3 L1452.0,572.8 L1452.5,571.3 L1453.0,572.2 L1453.5,571.3 L1454.0,572.0 L1454.5,571.9 L1455.0,572.5 L1455.5,573.0 L1456.0,571.0 L1456.5,570.4 L1457.0,571.4 L1457.5,571.4 L1458.0,571.7 L1458.5,572.3 L1459.0,571.1 L1459.5,571.5 L1460.0,571.5 L1460.5,572.4 L1461.0,571.1 L1461.5,572.5 L1462.0,573.1 L1462.5,571.3 L1463.0,572.7 L1463.5,571.9 L1464.0,571.4 L1464.5,573.2 L1465.0,572.6 L1465.5,571.2 L1466.0,572.0 L1466.5,570.9 L1467.0,570.3 L1467.5,572.4 L1468.0,571.5 L1468.5,572.9 L1469.0,571.6 L1469.5,571.7 L1470.0,571.4 L1470.5,571.7 L1471.0,570.8 L1471.5,571.3 L1472.0,570.0 L1472.5,569.9 L1473.0,570.3 L1473.5,571.0 L1474.0,571.4 L1474.5,571.3 L1475.0,572.5 L1475.5,573.5 L1476.0,569.4 L1476.5,572.8 L1477.0,572.3 L1477.5,571.0 L1478.0,571.6 L1478.5,569.8 L1479.0,571.3 L1479.5,572.9 L1480.0,570.5 L1480.5,571.0 L1481.0,571.6 L1481.5,572.1 L1482.0,571.5 L1482.5,571.0 L1483.0,572.0 L1483.5,571.0 L1484.0,573.5 L1484.5,572.6 L1485.0,571.6 L1485.5,570.8 L1486.0,571.0 L1486.5,570.8 L1487.0,571.2 L1487.5,571.8 L1488.0,570.4 L1488.5,571.6 L1489.0,571.5 L1489.5,570.6 L1490.0,572.6 L1490.5,571.9 L1491.0,571.7 L1491.5,571.0 L1492.0,570.8 L1492.5,571.5 L1493.0,570.2 L1493.5,571.8 L1494.0,570.5 L1494.5,571.4 L1495.0,572.0 L1495.5,571.2 L1496.0,570.9 L1496.5,570.8 L1497.0,571.6 L1497.5,570.5 L1498.0,571.4 L1498.5,572.3 L1499.0,569.8 L1499.5,570.8 L1500.0,571.7 L1500.5,570.5 L1501.0,570.5 L1501.5,570.4 L1502.0,572.2 L1502.5,569.6 L1503.0,571.3 L1503.5,571.2 L1504.0,571.4 L1504.5,570.7 L1505.0,571.5 L1505.5,571.0 L1506.0,570.7 L1506.5,573.5 L1507.0,572.3 L1507.5,570.5 L1508.0,570.8 L1508.5,571.8 L1509.0,572.6 L1509.5,571.2 L1510.0,572.0 L1510.5,571.6 L1511.0,572.4 L1511.5,570.9 L1512.0,570.7 L1512.5,571.6 L1513.0,571.6 L1513.5,571.4 L1514.0,572.4 L1514.5,572.0 L1515.0,571.5 L1515.5,570.4 L1516.0,572.0 L1516.5,572.1 L1517.0,570.8 L1517.5,571.3 L1518.0,570.5 L1518.5,571.5 L1519.0,571.2 L1519.5,569.9 L1520.0,571.4 L1520.5,571.1 L1521.0,571.1 L1521.5,572.3 L1522.0,571.8 L1522.5,572.1 L1523.0,571.1 L1523.5,572.6 L1524.0,570.7 L1524.5,572.0 L1525.0,570.1 L1525.5,571.6 L1526.0,570.5 L1526.5,570.2 L1527.0,572.0 L1527.5,571.6 L1528.0,571.8 L1528.5,571.4 L1529.0,571.6 L1529.5,571.4 L1530.0,571.3 L1530.5,571.5 L1531.0,573.4 L1531.5,570.5 L1532.0,570.1 L1532.5,570.6 L1533.0,570.8 L1533.5,571.9 L1534.0,572.4 L1534.5,572.4 L1535.0,571.2 L1535.5,572.0 L1536.0,573.0 L1536.5,572.0 L1537.0,572.6 L1537.5,570.6 L1538.0,572.2 L1538.5,572.1 L1539.0,570.4 L1539.5,571.5 L1540.0,572.0 L1540.5,570.7 L1541.0,572.2 L1541.5,572.3 L1542.0,571.7 L1542.5,571.3 L1543.0,571.3 L1543.5,571.8 L1544.0,572.4 L1544.5,570.3 L1545.0,571.6 L1545.5,571.6 L1546.0,570.7 L1546.5,570.3 L1547.0,571.2 L1547.5,570.0 L1548.0,571.6 L1548.5,571.2 L1549.0,570.5 L1549.5,571.4 L1550.0,570.7 L1550.5,570.8 L1551.0,572.4 L1551.5,570.7 L1552.0,569.3 L1552.5,571.6 L1553.0,570.5 L1553.5,570.6 L1554.0,572.7 L1554.5,571.3 L1555.0,572.1 L1555.5,570.2 L1556.0,570.5 L1556.5,570.6 L1557.0,572.0 L1557.5,570.8 L1558.0,569.7 L1558.5,572.0 L1559.0,570.9 L1559.5,571.4 L1560.0,572.0 L1560.5,573.2 L1561.0,571.3 L1561.5,572.7 L1562.0,570.2 L1562.5,571.5 L1563.0,571.6 L1563.5,569.4 L1564.0,570.5 L1564.5,570.7 L1565.0,571.7 L1565.5,570.9 L1566.0,571.0 L1566.5,570.7 L1567.0,571.7 L1567.5,571.3 L1568.0,571.2 L1568.5,571.1 L1569.0,571.9 L1569.5,570.7 L1570.0,571.3 L1570.5,571.3 L1571.0,571.6 L1571.5,572.2 L1572.0,571.6 L1572.5,570.2 L1573.0,572.2 L1573.5,572.4 L1574.0,572.4 L1574.5,572.1 L1575.0,570.0 L1575.5,571.2 L1576.0,572.0 L1576.5,572.0 L1577.0,571.3 L1577.5,571.4 L1578.0,570.4 L1578.5,571.7 L1579.0,569.6 L1579.5,571.1 L1580.0,572.2 L1580.5,570.3 L1581.0,572.4 L1581.5,573.0 L1582.0,571.8 L1582.5,570.9 L1583.0,570.9 L1583.5,570.3 L1584.0,571.9 L1584.5,570.4 L1585.0,571.5 L1585.5,570.4 L1586.0,571.8 L1586.5,570.1 L1587.0,571.2 L1587.5,570.7 L1588.0,572.1 L1588.5,570.9 L1589.0,571.1 L1589.5,572.2 L1590.0,570.3 L1590.5,570.2 L1591.0,571.2 L1591.5,570.4 L1592.0,572.6 L1592.5,571.3 L1593.0,571.4 L1593.5,570.9 L1594.0,569.1 L1594.5,572.3 L1595.0,571.1 L1595.5,569.4 L1596.0,570.2 L1596.5,571.1 L1597.0,572.2 L1597.5,571.4 L1598.0,571.4 L1598.5,571.4 L1599.0,570.3 L1599.5,570.5 L1600.0,571.1 L1600.5,569.9 L1601.0,571.1 L1601.5,571.6 L1602.0,569.0 L1602.5,570.8 L1603.0,570.7 L1603.5,571.0 L1604.0,572.4 L1604.5,569.7 L1605.0,572.6 L1605.5,571.5 L1606.0,572.9 L1606.5,570.5 L1607.0,571.1 L1607.5,570.7 L1608.0,571.2 L1608.5,570.0 L1609.0,570.1 L1609.5,570.6 L1610.0,571.2 L1610.5,569.5 L1611.0,570.3 L1611.5,570.1 L1612.0,570.8 L1612.5,571.2 L1613.0,569.2 L1613.5,569.6 L1614.0,570.1 L1614.5,569.5 L1615.0,571.5 L1615.5,571.7 L1616.0,570.9 L1616.5,570.6 L1617.0,569.2 L1617.5,569.2 L1618.0,570.4 L1618.5,571.2 L1619.0,569.5 L1619.5,570.0 L1620.0,571.1 L1620.5,571.1 L1621.0,568.6 L1621.5,569.6 L1622.0,569.9 L1622.5,567.7 L1623.0,568.6 L1623.5,569.0 L1624.0,568.3 L1624.5,569.0 L1625.0,568.0 L1625.5,566.6 L1626.0,566.8 L1626.5,565.8 L1627.0,566.2 L1627.5,567.5 L1628.0,566.8 L1628.5,566.6 L1629.0,566.8 L1629.5,564.2 L1630.0,564.1 L1630.5,563.9 L1631.0,564.4 L1631.5,562.2 L1632.0,560.7 L1632.5,559.7 L1633.0,556.9 L1633.5,553.9 L1634.0,553.3 L1634.5,549.1 L1635.0,545.4 L1635.5,538.1 L1636.0,530.2 L1636.5,520.1 L1637.0,503.0 L1637.5,478.6 L1638.0,439.4 L1638.5,385.9 L1639.0,324.4 L1639.5,292.7 L1640.0,321.4 L1640.5,381.2 L1641.0,432.2 L1641.5,466.4 L1642.0,486.8 L1642.5,497.6 L1643.0,498.5 L1643.5,494.2 L1644.0,479.0 L1644.5,456.1 L1645.0,429.9 L1645.5,423.2 L1646.0,445.1 L1646.5,477.4 L1647.0,502.5 L1647.5,523.0 L1648.0,532.7 L1648.5,540.5 L1649.0,548.2 L1649.5,552.6 L1650.0,555.1 L1650.5,557.3 L1651.0,558.5 L1651.5,562.5 L1652.0,560.7 L1652.5,565.2 L1653.0,562.7 L1653.5,563.9 L1654.0,565.2 L1654.5,565.5 L1655.0,566.8 L1655.5,566.0 L1656.0,566.8 L1656.5,566.1 L1657.0,568.7 L1657.5,567.7 L1658.0,567.5 L1658.5,568.4 L1659.0,569.3 L1659.5,569.1 L1660.0,568.3 L1660.5,569.2 L1661.0,569.5 L1661.5,569.7 L1662.0,569.1 L1662.5,570.1 L1663.0,568.7 L1663.5,569.8 L1664.0,569.1 L1664.5,569.9 L1665.0,569.4 L1665.5,570.6 L1666.0,569.7 L1666.5,571.1 L1667.0,569.4 L1667.5,571.1 L1668.0,569.5 L1668.5,568.3 L1669.0,569.5 L1669.5,571.1 L1670.0,570.6 L1670.5,570.9 L1671.0,570.2 L1671.5,570.8 L1672.0,569.7 L1672.5,572.1 L1673.0,572.0 L1673.5,571.0 L1674.0,570.2 L1674.5,570.2 L1675.0,571.3 L1675.5,571.1 L1676.0,570.0 L1676.5,571.4 L1677.0,571.6 L1677.5,571.3 L1678.0,571.2 L1678.5,571.1 L1679.0,570.9 L1679.5,570.7 L1680.0,570.4 L1680.5,572.0 L1681.0,569.7 L1681.5,571.1 L1682.0,571.8 L1682.5,573.0 L1683.0,570.8 L1683.5,572.2 L1684.0,572.2 L1684.5,571.9 L1685.0,572.7 L1685.5,569.7 L1686.0,572.0 L1686.5,571.1 L1687.0,571.5 L1687.5,571.1 L1688.0,570.5 L1688.5,569.6 L1689.0,571.6 L1689.5,571.0 L1690.0,570.1 L1690.5,571.1 L1691.0,570.3 L1691.5,570.5 L1692.0,571.4 L1692.5,571.9 L1693.0,569.6 L1693.5,571.2 L1694.0,571.7 L1694.5,570.2 L1695.0,571.0 L1695.5,571.5 L1696.0,572.0 L1696.5,570.3 L1697.0,569.9 L1697.5,570.7 L1698.0,570.8 L1698.5,571.2 L1699.0,571.3 L1699.5,569.6 L1700.0,571.9 L1700.5,569.8 L1701.0,571.5 L1701.5,571.7 L1702.0,571.6 L1702.5,571.5 L1703.0,571.6 L1703.5,570.6 L1704.0,570.6 L1704.5,573.1 L1705.0,572.6 L1705.5,572.4 L1706.0,572.0 L1706.5,569.9 L1707.0,572.9 L1707.5,571.1 L1708.0,571.3 L1708.5,572.0 L1709.0,570.7 L1709.5,572.4 L1710.0,569.3 L1710.5,572.4 L1711.0,571.7 L1711.5,570.6 L1712.0,572.0 L1712.5,572.3 L1713.0,572.0 L1713.5,572.1 L1714.0,571.1 L1714.5,572.2 L1715.0,572.2 L1715.5,572.4 L1716.0,571.9 L1716.5,569.9 L1717.0,571.8 L1717.5,570.2 L1718.0,570.6 L1718.5,571.2 L1719.0,571.4 L1719.5,571.0 L1720.0,571.6 L1720.5,571.7 L1721.0,571.4 L1721.5,571.3 L1722.0,571.6 L1722.5,571.9 L1723.0,570.5 L1723.5,570.0 L1724.0,572.2 L1724.5,571.4 L1725.0,569.3 L1725.5,572.2 L1726.0,572.2 L1726.5,569.7 L1727.0,570.2 L1727.5,570.8 L1728.0,570.2 L1728.5,570.7 L1729.0,571.2 L1729.5,572.1 L1730.0,569.3 L1730.5,571.3 L1731.0,572.2 L1731.5,569.3 L1732.0,571.5 L1732.5,571.2 L1733.0,570.8 L1733.5,571.9 L1734.0,572.4 L1734.5,572.2 L1735.0,573.0 L1735.5,570.7 L1736.0,569.5 L1736.5,570.8 L1737.0,571.4 L1737.5,572.3 L1738.0,571.8 L1738.5,570.8 L1739.0,572.5 L1739.5,571.7 L1740.0,571.5 L1740.5,571.1 L1741.0,571.7 L1741.5,571.8 L1742.0,571.3 L1742.5,569.3 L1743.0,570.6 L1743.5,571.7 L1744.0,572.7 L1744.5,572.3 L1745.0,572.3 L1745.5,572.8 L1746.0,571.9 L1746.5,572.5 L1747.0,572.2 L1747.5,571.5 L1748.0,570.6 L1748.5,569.9 L1749.0,571.7 L1749.5,570.3 L1750.0,571.3 L1750.5,572.0 L1751.0,570.7 L1751.5,572.1 L1752.0,571.4 L1752.5,570.6 L1753.0,571.9 L1753.5,572.0 L1754.0,570.9 L1754.5,571.8 L1755.0,570.4 L1755.5,571.5 L1756.0,571.6 L1756.5,570.5 L1757.0,571.5 L1757.5,572.6 L1758.0,570.8 L1758.5,570.4 L1759.0,570.1 L1759.5,570.7 L1760.0,570.4 L1760.5,569.9 L1761.0,571.4 L1761.5,571.6 L1762.0,570.5 L1762.5,571.4 L1763.0,572.2 L1763.5,571.7 L1764.0,571.5 L1764.5,572.0 L1765.0,570.8 L1765.5,572.1 L1766.0,573.0 L1766.5,570.8 L1767.0,569.7 L1767.5,570.7 L1768.0,570.5 L1768.5,571.5 L1769.0,572.4 L1769.5,571.8 L1770.0,572.8 L1770.5,571.7 L1771.0,571.4 L1771.5,569.7 L1772.0,571.7 L1772.5,570.8 L1773.0,570.9 L1773.5,571.1 L1774.0,572.7 L1774.5,572.1 L1775.0,571.3 L1775.5,570.1 L1776.0,570.9 L1776.5,571.0 L1777.0,572.0 L1777.5,571.7 L1778.0,571.7 L1778.5,570.4 L1779.0,572.0 L1779.5,573.2 L1780.0,570.0 L1780.5,570.3 L1781.0,571.2 L1781.5,572.0 L1782.0,571.4 L1782.5,571.2 L1783.0,572.4 L1783.5,570.1 L1784.0,569.3 L1784.5,569.7 L1785.0,571.7 L1785.5,571.8 L1786.0,570.6 L1786.5,569.6 L1787.0,570.1 L1787.5,571.1 L1788.0,571.6 L1788.5,570.2 L1789.0,569.9 L1789.5,569.8 L1790.0,570.0 L1790.5,571.0 L1791.0,570.6 L1791.5,570.6 L1792.0,570.3 L1792.5,570.3 L1793.0,568.9 L1793.5,568.9 L1794.0,570.0 L1794.5,569.8 L1795.0,570.2 L1795.5,569.0 L1796.0,568.0 L1796.5,568.2 L1797.0,567.7 L1797.5,567.8 L1798.0,566.5 L1798.5,566.2 L1799.0,565.1 L1799.5,563.5 L1800.0,561.3 L1800.5,556.9 L1801.0,554.2 L1801.5,547.8 L1802.0,536.7 L1802.5,523.0 L1803.0,506.8 L1803.5,500.9 L1804.0,512.0 L1804.5,526.9 L1805.0,539.2 L1805.5,548.9 L1806.0,551.8 L1806.5,556.4 L1807.0,556.3 L1807.5,555.2 L1808.0,555.8 L1808.5,551.9 L1809.0,546.5 L1809.5,540.0 L1810.0,537.6 L1810.5,541.0 L1811.0,548.0 L1811.5,554.7 L1812.0,559.7 L1812.5,561.9 L1813.0,564.8 L1813.5,564.2 L1814.0,566.8 L1814.5,567.7 L1815.0,568.9 L1815.5,567.8 L1816.0,568.9 L1816.5,569.8 L1817.0,571.5 L1817.5,570.0 L1818.0,570.5 L1818.5,569.7 L1819.0,572.1 L1819.5,570.2 L1820.0,570.3 L1820.5,570.7 L1821.0,569.5 L1821.5,569.8 L1822.0,570.4 L1822.5,570.1 L1823.0,571.6 L1823.5,570.4 L1824.0,572.7 L1824.5,571.1 L1825.0,570.3 L1825.5,571.0 L1826.0,571.5 L1826.5,570.9 L1827.0,571.3 L1827.5,570.7 L1828.0,570.2 L1828.5,570.8 L1829.0,572.3 L1829.5,570.5 L1830.0,570.7 L1830.5,569.4 L1831.0,570.1 L1831.5,570.8 L1832.0,570.1 L1832.5,571.2 L1833.0,570.8 L1833.5,569.2 L1834.0,569.1 L1834.5,569.0 L1835.0,567.7 L1835.5,565.6 L1836.0,562.0 L1836.5,562.1 L1837.0,559.6 L1837.5,561.0 L1838.0,562.9 L1838.5,567.0 L1839.0,567.1 L1839.5,568.4 L1840.0,567.1 L1840.5,568.8 L1841.0,569.3 L1841.5,569.6 L1842.0,569.7 L1842.5,568.5 L1843.0,568.7 L1843.5,566.9 L1844.0,566.4 L1844.5,567.1 L1845.0,566.7 L1845.5,567.2 L1846.0,571.2 L1846.5,568.6 L1847.0,569.9 L1847.5,571.1 L1848.0,570.2 L1848.5,571.8 L1849.0,569.3 L1849.5,571.1 L1850.0,571.6 L1850.5,572.9 L1851.0,572.4 L1851.5,570.5 L1852.0,571.9 L1852.5,571.4 L1853.0,570.2 L1853.5,570.8 L1854.0,572.1 L1854.5,571.0 L1855.0,570.5 L1855.5,570.7 L1856.0,570.2 L1856.5,570.0 L1857.0,571.6 L1857.5,571.7 L1858.0,572.2 L1858.5,570.0 L1859.0,570.4 L1859.5,571.7 L1860.0,571.4 L1860.5,571.2 L1861.0,570.3 L1861.5,571.1 L1862.0,570.1 L1862.5,572.6 L1863.0,571.9 L1863.5,570.5 L1864.0,572.4 L1864.5,570.5 L1865.0,571.8 L1865.5,571.5 L1866.0,571.0 L1866.5,572.5 L1867.0,570.0 L1867.5,571.1 L1868.0,571.1 L1868.5,569.8 L1869.0,570.1 L1869.5,571.4 L1870.0,571.6 L1870.5,570.5 L1871.0,571.8 L1871.5,571.7 L1872.0,572.0 L1872.5,571.2 L1873.0,571.3 L1873.5,571.9 L1874.0,570.9 L1874.5,570.7 L1875.0,570.4 L1875.5,571.8 L1876.0,572.4 L1876.5,569.8 L1877.0,571.2 L1877.5,572.0 L1878.0,572.7 L1878.5,571.6 L1879.0,570.8 L1879.5,572.0 L1880.0,573.4 L1880.5,571.8 L1881.0,572.1 L1881.5,572.9 L1882.0,570.3 L1882.5,572.2 L1883.0,572.7 L1883.5,572.3 L1884.0,571.7 L1884.5,571.2 L1885.0,571.1 L1885.5,570.5 L1886.0,571.1 L1886.5,570.6 L1887.0,571.5 L1887.5,571.4 L1888.0,571.1 L1888.5,571.2 L1889.0,571.6 L1889.5,570.5 L1890.0,572.1 L1890.5,571.7 L1891.0,572.0 L1891.5,571.3 L1892.0,571.4 L1892.5,571.7 L1893.0,571.6 L1893.5,571.2 L1894.0,571.3 L1894.5,571.1 L1895.0,571.2 L1895.5,570.9 L1896.0,570.9 L1896.5,570.7 L1897.0,572.7 L1897.5,571.0 L1898.0,571.5 L1898.5,570.7 L1899.0,571.7 L1899.5,572.6 L1900.0,571.0 L1900.5,571.7 L1901.0,571.5 L1901.5,572.3 L1902.0,571.5 L1902.5,571.5 L1903.0,571.4 L1903.5,570.0 L1904.0,572.4 L1904.5,572.9 L1905.0,570.9 L1905.5,572.3 L1906.0,571.6 L1906.5,572.8 L1907.0,571.2 L1907.5,572.0 L1908.0,572.7 L1908.5,572.0 L1909.0,571.8 L1909.5,571.6 L1910.0,571.1 L1910.5,571.7 L1911.0,570.8 L1911.5,573.0 L1912.0,572.1 L1912.5,571.5 L1913.0,570.4 L1913.5,572.5 L1914.0,572.7 L1914.5,572.0 L1915.0,572.4" fill="none" shape-rendering="crispEdges" stroke="#0000ff" stroke-width="5.8" stroke-linejoin="round" clip-path="url(#c2)"/>
<path d="M148.5,838.4 L149.0,839.3 L149.5,841.9 L150.0,837.7 L150.5,835.4 L151.0,839.3 L151.5,839.3 L152.0,838.8 L152.5,839.4 L153.0,836.3 L153.5,837.0 L154.0,838.1 L154.5,838.8 L155.0,840.1 L155.5,840.6 L156.0,839.4 L156.5,838.6 L157.0,836.7 L157.5,837.8 L158.0,835.3 L158.5,837.2 L159.0,839.8 L159.5,840.1 L160.0,836.5 L160.5,841.5 L161.0,833.5 L161.5,840.0 L162.0,838.8 L162.5,838.4 L163.0,839.7 L163.5,837.8 L164.0,843.8 L164.5,837.7 L165.0,838.0 L165.5,839.4 L166.0,834.3 L166.5,838.4 L167.0,835.5 L167.5,841.7 L168.0,837.5 L168.5,838.4 L169.0,834.6 L169.5,842.7 L170.0,834.7 L170.5,835.3 L171.0,836.9 L171.5,833.4 L172.0,835.5 L172.5,837.6 L173.0,840.9 L173.5,841.0 L174.0,835.9 L174.5,837.2 L175.0,840.0 L175.5,841.1 L176.0,836.5 L176.5,837.8 L177.0,838.4 L177.5,838.7 L178.0,837.8 L178.5,842.5 L179.0,837.9 L179.5,841.1 L180.0,839.6 L180.5,843.9 L181.0,841.8 L181.5,834.1 L182.0,839.9 L182.5,833.8 L183.0,841.5 L183.5,837.7 L184.0,833.6 L184.5,836.1 L185.0,837.6 L185.5,841.6 L186.0,838.6 L186.5,839.4 L187.0,836.8 L187.5,837.2 L188.0,834.8 L188.5,837.3 L189.0,837.6 L189.5,838.0 L190.0,836.2 L190.5,837.6 L191.0,837.0 L191.5,838.6 L192.0,836.5 L192.5,836.6 L193.0,835.9 L193.5,836.3 L194.0,837.2 L194.5,835.5 L195.0,840.7 L195.5,840.2 L196.0,838.7 L196.5,839.6 L197.0,835.0 L197.5,836.3 L198.0,836.7 L198.5,838.3 L199.0,839.6 L199.5,839.7 L200.0,834.4 L200.5,837.6 L201.0,840.3 L201.5,837.1 L202.0,838.8 L202.5,833.8 L203.0,837.8 L203.5,837.1 L204.0,833.1 L204.5,839.5 L205.0,840.8 L205.5,839.5 L206.0,836.8 L206.5,837.3 L207.0,836.1 L207.5,839.0 L208.0,838.7 L208.5,840.9 L209.0,837.6 L209.5,839.7 L210.0,837.0 L210.5,835.9 L211.0,837.5 L211.5,835.5 L212.0,835.5 L212.5,839.2 L213.0,839.1 L213.5,835.6 L214.0,835.3 L214.5,836.9 L215.0,835.6 L215.5,839.0 L216.0,836.6 L216.5,834.3 L217.0,835.3 L217.5,838.2 L218.0,842.0 L218.5,838.4 L219.0,834.0 L219.5,835.1 L220.0,837.5 L220.5,836.7 L221.0,837.4 L221.5,841.7 L222.0,834.7 L222.5,834.8 L223.0,836.9 L223.5,837.1 L224.0,837.4 L224.5,838.8 L225.0,836.9 L225.5,839.3 L226.0,837.3 L226.5,837.7 L227.0,832.9 L227.5,834.8 L228.0,835.9 L228.5,838.3 L229.0,835.3 L229.5,834.5 L230.0,835.0 L230.5,840.6 L231.0,833.2 L231.5,837.1 L232.0,836.7 L232.5,839.9 L233.0,838.1 L233.5,835.8 L234.0,838.4 L234.5,839.5 L235.0,835.6 L235.5,832.6 L236.0,833.6 L236.5,836.5 L237.0,834.0 L237.5,836.6 L238.0,838.8 L238.5,836.7 L239.0,841.2 L239.5,835.8 L240.0,833.3 L240.5,836.5 L241.0,838.3 L241.5,832.8 L242.0,837.0 L242.5,839.7 L243.0,836.3 L243.5,840.0 L244.0,832.3 L244.5,837.0 L245.0,831.8 L245.5,831.6 L246.0,832.1 L246.5,837.9 L247.0,836.1 L247.5,838.6 L248.0,833.3 L248.5,831.3 L249.0,837.2 L249.5,833.5 L250.0,831.5 L250.5,836.7 L251.0,837.3 L251.5,833.0 L252.0,835.1 L252.5,836.0 L253.0,832.5 L253.5,832.7 L254.0,835.1 L254.5,838.2 L255.0,832.1 L255.5,836.2 L256.0,835.6 L256.5,834.6 L257.0,833.6 L257.5,832.0 L258.0,835.4 L258.5,833.5 L259.0,827.9 L259.5,834.4 L260.0,831.6 L260.5,833.1 L261.0,838.0 L261.5,833.9 L262.0,828.1 L262.5,831.9 L263.0,830.1 L263.5,835.0 L264.0,826.7 L264.5,833.7 L265.0,832.3 L265.5,831.2 L266.0,832.8 L266.5,835.9 L267.0,827.1 L267.5,830.1 L268.0,831.1 L268.5,831.0 L269.0,830.1 L269.5,831.6 L270.0,830.6 L270.5,829.0 L271.0,825.4 L271.5,831.1 L272.0,832.7 L272.5,831.7 L273.0,829.6 L273.5,831.1 L274.0,824.4 L274.5,829.4 L275.0,827.9 L275.5,826.5 L276.0,828.9 L276.5,825.2 L277.0,824.2 L277.5,822.1 L278.0,819.4 L278.5,822.0 L279.0,826.5 L279.5,825.9 L280.0,819.1 L280.5,820.0 L281.0,822.2 L281.5,815.0 L282.0,815.1 L282.5,811.5 L283.0,817.3 L283.5,810.4 L284.0,809.4 L284.5,808.4 L285.0,804.6 L285.5,810.1 L286.0,805.2 L286.5,805.2 L287.0,792.7 L287.5,796.9 L288.0,791.8 L288.5,786.6 L289.0,786.4 L289.5,786.7 L290.0,782.2 L290.5,774.5 L291.0,777.4 L291.5,770.7 L292.0,761.8 L292.5,757.4 L293.0,753.4 L293.5,750.1 L294.0,744.2 L294.5,739.0 L295.0,737.8 L295.5,728.8 L296.0,725.5 L296.5,718.3 L297.0,713.9 L297.5,712.0 L298.0,703.8 L298.5,700.4 L299.0,693.1 L299.5,690.9 L300.0,683.2 L300.5,681.3 L301.0,671.0 L301.5,672.6 L302.0,667.2 L302.5,660.5 L303.0,658.2 L303.5,652.5 L304.0,654.8 L304.5,654.5 L305.0,652.0 L305.5,655.6 L306.0,648.3 L306.5,654.0 L307.0,653.1 L307.5,657.0 L308.0,662.9 L308.5,663.9 L309.0,671.1 L309.5,670.6 L310.0,674.2 L310.5,679.7 L311.0,681.6 L311.5,688.1 L312.0,695.2 L312.5,702.8 L313.0,703.5 L313.5,709.1 L314.0,712.8 L314.5,718.6 L315.0,727.1 L315.5,732.6 L316.0,738.4 L316.5,742.0 L317.0,750.0 L317.5,748.0 L318.0,756.8 L318.5,762.9 L319.0,764.8 L319.5,770.8 L320.0,773.2 L320.5,776.6 L321.0,781.5 L321.5,783.0 L322.0,787.7 L322.5,792.3 L323.0,791.1 L323.5,798.2 L324.0,802.0 L324.5,805.5 L325.0,803.1 L325.5,808.7 L326.0,803.5 L326.5,806.5 L327.0,811.7 L327.5,810.5 L328.0,812.4 L328.5,813.6 L329.0,816.6 L329.5,817.0 L330.0,817.4 L330.5,820.6 L331.0,820.4 L331.5,822.5 L332.0,824.1 L332.5,825.4 L333.0,824.3 L333.5,824.5 L334.0,825.1 L334.5,824.1 L335.0,828.3 L335.5,827.6 L336.0,830.7 L336.5,829.3 L337.0,827.8 L337.5,831.4 L338.0,829.1 L338.5,829.9 L339.0,831.5 L339.5,831.3 L340.0,829.2 L340.5,832.9 L341.0,832.5 L341.5,831.7 L342.0,831.6 L342.5,832.8 L343.0,828.9 L343.5,835.8 L344.0,827.1 L344.5,830.7 L345.0,830.9 L345.5,834.3 L346.0,833.7 L346.5,834.6 L347.0,831.0 L347.5,836.9 L348.0,836.3 L348.5,829.4 L349.0,834.9 L349.5,830.0 L350.0,833.4 L350.5,836.2 L351.0,835.0 L351.5,832.0 L352.0,833.7 L352.5,837.9 L353.0,835.8 L353.5,837.2 L354.0,831.7 L354.5,837.0 L355.0,836.3 L355.5,833.7 L356.0,839.4 L356.5,836.1 L357.0,838.3 L357.5,835.2 L358.0,837.4 L358.5,837.8 L359.0,836.4 L359.5,837.0 L360.0,837.5 L360.5,836.6 L361.0,834.0 L361.5,837.8 L362.0,836.8 L362.5,837.8 L363.0,835.3 L363.5,840.9 L364.0,839.5 L364.5,840.7 L365.0,841.9 L365.5,839.9 L366.0,837.0 L366.5,834.8 L367.0,840.4 L367.5,838.5 L368.0,839.9 L368.5,841.1 L369.0,837.6 L369.5,835.9 L370.0,839.1 L370.5,837.2 L371.0,836.3 L371.5,839.2 L372.0,837.7 L372.5,839.6 L373.0,835.9 L373.5,838.2 L374.0,837.9 L374.5,838.5 L375.0,837.2 L375.5,840.2 L376.0,835.3 L376.5,839.8 L377.0,841.3 L377.5,838.8 L378.0,839.0 L378.5,837.1 L379.0,839.5 L379.5,840.0 L380.0,839.4 L380.5,839.9 L381.0,840.3 L381.5,839.6 L382.0,834.9 L382.5,836.6 L383.0,839.0 L383.5,844.2 L384.0,841.8 L384.5,839.3 L385.0,838.9 L385.5,838.4 L386.0,840.8 L386.5,838.7 L387.0,839.6 L387.5,837.5 L388.0,838.5 L388.5,837.3 L389.0,837.8 L389.5,838.8 L390.0,842.4 L390.5,840.5 L391.0,842.1 L391.5,838.7 L392.0,840.4 L392.5,838.4 L393.0,839.4 L393.5,839.5 L394.0,836.1 L394.5,840.0 L395.0,837.2 L395.5,841.0 L396.0,838.5 L396.5,836.4 L397.0,837.3 L397.5,838.0 L398.0,843.3 L398.5,837.2 L399.0,839.2 L399.5,840.5 L400.0,839.7 L400.5,840.0 L401.0,841.7 L401.5,838.6 L402.0,844.2 L402.5,843.3 L403.0,840.7 L403.5,843.4 L404.0,840.6 L404.5,839.3 L405.0,837.6 L405.5,838.8 L406.0,841.7 L406.5,841.1 L407.0,844.0 L407.5,844.0 L408.0,842.5 L408.5,840.8 L409.0,844.5 L409.5,840.4 L410.0,835.1 L410.5,839.9 L411.0,841.6 L411.5,841.9 L412.0,841.9 L412.5,842.4 L413.0,834.9 L413.5,845.9 L414.0,841.9 L414.5,840.9 L415.0,836.3 L415.5,842.6 L416.0,838.4 L416.5,836.2 L417.0,842.1 L417.5,842.0 L418.0,840.5 L418.5,838.7 L419.0,841.8 L419.5,841.0 L420.0,841.6 L420.5,841.8 L421.0,837.4 L421.5,841.9 L422.0,838.0 L422.5,841.9 L423.0,840.0 L423.5,839.7 L424.0,844.7 L424.5,841.4 L425.0,841.4 L425.5,842.8 L426.0,846.0 L426.5,835.4 L427.0,842.2 L427.5,841.2 L428.0,843.7 L428.5,841.2 L429.0,841.0 L429.5,842.5 L430.0,841.1 L430.5,839.2 L431.0,841.3 L431.5,845.6 L432.0,842.7 L432.5,836.0 L433.0,841.0 L433.5,839.1 L434.0,843.5 L434.5,838.7 L435.0,841.2 L435.5,842.6 L436.0,843.3 L436.5,840.0 L437.0,842.1 L437.5,846.7 L438.0,839.9 L438.5,841.6 L439.0,839.5 L439.5,841.1 L440.0,842.7 L440.5,841.7 L441.0,843.1 L441.5,838.6 L442.0,842.0 L442.5,840.9 L443.0,835.9 L443.5,844.3 L444.0,842.0 L444.5,840.3 L445.0,844.2 L445.5,843.0 L446.0,836.3 L446.5,842.9 L447.0,847.5 L447.5,842.5 L448.0,843.8 L448.5,837.9 L449.0,838.2 L449.5,838.5 L450.0,844.4 L450.5,844.1 L451.0,836.2 L451.5,844.1 L452.0,837.0 L452.5,838.6 L453.0,841.7 L453.5,840.3 L454.0,841.9 L454.5,842.5 L455.0,844.8 L455.5,840.9 L456.0,840.5 L456.5,840.4 L457.0,847.8 L457.5,844.9 L458.0,845.0 L458.5,843.5 L459.0,842.8 L459.5,845.6 L460.0,842.1 L460.5,838.6 L461.0,838.4 L461.5,848.0 L462.0,839.8 L462.5,840.7 L463.0,841.9 L463.5,844.8 L464.0,839.6 L464.5,841.8 L465.0,843.2 L465.5,839.3 L466.0,842.5 L466.5,845.0 L467.0,842.9 L467.5,842.6 L468.0,843.6 L468.5,842.2 L469.0,841.3 L469.5,841.1 L470.0,844.4 L470.5,838.5 L471.0,839.5 L471.5,844.3 L472.0,845.3 L472.5,842.7 L473.0,840.4 L473.5,838.6 L474.0,843.9 L474.5,842.9 L475.0,843.3 L475.5,843.5 L476.0,840.0 L476.5,840.6 L477.0,842.2 L477.5,842.0 L478.0,838.6 L478.5,839.5 L479.0,842.0 L479.5,845.8 L480.0,848.2 L480.5,843.1 L481.0,841.7 L481.5,843.2 L482.0,842.7 L482.5,840.5 L483.0,837.0 L483.5,843.0 L484.0,841.1 L484.5,842.4 L485.0,840.2 L485.5,841.8 L486.0,843.0 L486.5,839.4 L487.0,840.9 L487.5,844.2 L488.0,844.6 L488.5,838.4 L489.0,844.7 L489.5,845.9 L490.0,843.8 L490.5,843.9 L491.0,843.2 L491.5,843.8 L492.0,841.7 L492.5,846.0 L493.0,842.9 L493.5,839.4 L494.0,844.2 L494.5,845.1 L495.0,843.9 L495.5,840.6 L496.0,844.5 L496.5,837.3 L497.0,847.1 L497.5,844.3 L498.0,838.7 L498.5,838.0 L499.0,848.7 L499.5,843.6 L500.0,841.3 L500.5,843.9 L501.0,842.5 L501.5,842.6 L502.0,843.8 L502.5,843.8 L503.0,840.5 L503.5,843.8 L504.0,843.6 L504.5,840.8 L505.0,845.5 L505.5,844.4 L506.0,840.7 L506.5,847.5 L507.0,844.5 L507.5,846.6 L508.0,841.5 L508.5,842.1 L509.0,843.6 L509.5,841.9 L510.0,842.8 L510.5,839.9 L511.0,848.3 L511.5,844.6 L512.0,846.5 L512.5,847.5 L513.0,843.3 L513.5,848.2 L514.0,837.8 L514.5,842.5 L515.0,842.1 L515.5,843.3 L516.0,840.6 L516.5,845.5 L517.0,848.2 L517.5,844.0 L518.0,844.9 L518.5,838.2 L519.0,841.7 L519.5,844.4 L520.0,841.8 L520.5,844.2 L521.0,842.5 L521.5,844.4 L522.0,840.2 L522.5,844.8 L523.0,847.0 L523.5,845.3 L524.0,848.7 L524.5,843.4 L525.0,845.8 L525.5,840.5 L526.0,846.0 L526.5,844.9 L527.0,843.1 L527.5,846.4 L528.0,841.0 L528.5,843.1 L529.0,844.5 L529.5,841.3 L530.0,841.4 L530.5,846.2 L531.0,842.9 L531.5,841.3 L532.0,842.7 L532.5,842.4 L533.0,842.0 L533.5,844.6 L534.0,841.3 L534.5,840.3 L535.0,844.0 L535.5,843.7 L536.0,846.8 L536.5,840.7 L537.0,842.5 L537.5,846.3 L538.0,844.7 L538.5,842.5 L539.0,841.9 L539.5,845.5 L540.0,843.8 L540.5,841.9 L541.0,842.8 L541.5,842.9 L542.0,846.1 L542.5,838.3 L543.0,842.5 L543.5,846.8 L544.0,839.9 L544.5,843.2 L545.0,845.9 L545.5,840.8 L546.0,842.6 L546.5,841.8 L547.0,844.3 L547.5,842.3 L548.0,841.4 L548.5,844.1 L549.0,844.4 L549.5,846.6 L550.0,843.0 L550.5,843.6 L551.0,842.6 L551.5,846.8 L552.0,846.8 L552.5,842.1 L553.0,838.9 L553.5,848.6 L554.0,839.6 L554.5,839.9 L555.0,842.7 L555.5,848.5 L556.0,846.7 L556.5,843.4 L557.0,845.7 L557.5,843.6 L558.0,846.7 L558.5,843.0 L559.0,847.9 L559.5,845.5 L560.0,842.7 L560.5,840.0 L561.0,846.8 L561.5,845.3 L562.0,841.8 L562.5,841.9 L563.0,842.9 L563.5,843.2 L564.0,843.6 L564.5,844.0 L565.0,844.0 L565.5,842.7 L566.0,848.9 L566.5,843.3 L567.0,842.4 L567.5,845.3 L568.0,841.9 L568.5,845.0 L569.0,844.3 L569.5,846.4 L570.0,841.7 L570.5,839.5 L571.0,846.8 L571.5,843.5 L572.0,848.1 L572.5,845.7 L573.0,842.9 L573.5,844.8 L574.0,841.2 L574.5,841.6 L575.0,844.0 L575.5,844.3 L576.0,840.0 L576.5,845.8 L577.0,845.2 L577.5,846.5 L578.0,840.5 L578.5,845.3 L579.0,842.5 L579.5,842.8 L580.0,846.5 L580.5,844.1 L581.0,845.3 L581.5,846.1 L582.0,846.6 L582.5,841.8 L583.0,841.7 L583.5,844.8 L584.0,845.3 L584.5,842.3 L585.0,844.9 L585.5,842.0 L586.0,843.4 L586.5,843.8 L587.0,844.5 L587.5,845.6 L588.0,843.3 L588.5,844.5 L589.0,842.2 L589.5,845.9 L590.0,845.5 L590.5,842.9 L591.0,848.7 L591.5,844.1 L592.0,843.6 L592.5,843.3 L593.0,845.2 L593.5,844.6 L594.0,842.8 L594.5,845.4 L595.0,846.7 L595.5,847.7 L596.0,845.6 L596.5,843.7 L597.0,842.6 L597.5,845.7 L598.0,847.3 L598.5,849.6 L599.0,843.7 L599.5,841.9 L600.0,842.1 L600.5,845.2 L601.0,845.9 L601.5,842.6 L602.0,841.5 L602.5,839.8 L603.0,845.9 L603.5,840.6 L604.0,845.4 L604.5,843.6 L605.0,839.4 L605.5,841.2 L606.0,846.2 L606.5,843.9 L607.0,843.3 L607.5,846.7 L608.0,843.7 L608.5,844.0 L609.0,844.0 L609.5,843.9 L610.0,846.2 L610.5,842.4 L611.0,846.2 L611.5,847.2 L612.0,842.4 L612.5,844.7 L613.0,840.8 L613.5,843.7 L614.0,846.3 L614.5,845.6 L615.0,842.5 L615.5,844.7 L616.0,844.5 L616.5,843.6 L617.0,843.7 L617.5,847.8 L618.0,837.2 L618.5,841.8 L619.0,845.2 L619.5,842.8 L620.0,843.8 L620.5,843.7 L621.0,842.4 L621.5,842.9 L622.0,841.1 L622.5,842.7 L623.0,844.5 L623.5,845.0 L624.0,843.8 L624.5,841.9 L625.0,841.5 L625.5,838.4 L626.0,841.8 L626.5,839.9 L627.0,840.4 L627.5,841.1 L628.0,841.9 L628.5,841.9 L629.0,841.5 L629.5,838.7 L630.0,840.1 L630.5,842.6 L631.0,840.6 L631.5,841.6 L632.0,840.6 L632.5,843.7 L633.0,843.9 L633.5,845.4 L634.0,838.8 L634.5,841.3 L635.0,836.2 L635.5,840.6 L636.0,839.7 L636.5,837.5 L637.0,841.4 L637.5,838.1 L638.0,833.9 L638.5,840.6 L639.0,837.1 L639.5,838.4 L640.0,834.7 L640.5,834.1 L641.0,832.7 L641.5,832.7 L642.0,836.5 L642.5,835.7 L643.0,830.3 L643.5,833.8 L644.0,833.5 L644.5,831.4 L645.0,833.5 L645.5,830.7 L646.0,834.4 L646.5,831.2 L647.0,832.0 L647.5,825.4 L648.0,829.9 L648.5,830.7 L649.0,829.0 L649.5,829.7 L650.0,827.8 L650.5,831.7 L651.0,827.1 L651.5,828.5 L652.0,832.3 L652.5,831.4 L653.0,828.4 L653.5,825.2 L654.0,823.4 L654.5,828.5 L655.0,827.7 L655.5,826.1 L656.0,825.7 L656.5,830.8 L657.0,827.5 L657.5,824.9 L658.0,823.8 L658.5,822.9 L659.0,823.8 L659.5,821.7 L660.0,821.8 L660.5,819.7 L661.0,821.5 L661.5,819.4 L662.0,815.2 L662.5,822.7 L663.0,816.4 L663.5,813.5 L664.0,810.6 L664.5,812.4 L665.0,809.5 L665.5,813.5 L666.0,809.5 L666.5,805.5 L667.0,801.4 L667.5,805.9 L668.0,798.8 L668.5,802.4 L669.0,800.2 L669.5,792.8 L670.0,796.6 L670.5,799.7 L671.0,792.6 L671.5,788.3 L672.0,788.5 L672.5,791.3 L673.0,791.4 L673.5,791.9 L674.0,790.0 L674.5,786.8 L675.0,787.7 L675.5,788.1 L676.0,788.3 L676.5,785.9 L677.0,790.7 L677.5,792.2 L678.0,789.9 L678.5,791.3 L679.0,788.8 L679.5,793.2 L680.0,791.8 L680.5,792.6 L681.0,797.7 L681.5,797.3 L682.0,797.0 L682.5,795.4 L683.0,800.5 L683.5,805.5 L684.0,803.6 L684.5,804.6 L685.0,808.1 L685.5,811.3 L686.0,808.8 L686.5,810.9 L687.0,809.9 L687.5,811.6 L688.0,812.4 L688.5,814.8 L689.0,812.0 L689.5,814.6 L690.0,815.3 L690.5,815.1 L691.0,814.5 L691.5,818.5 L692.0,816.3 L692.5,814.0 L693.0,819.9 L693.5,815.3 L694.0,821.0 L694.5,813.7 L695.0,820.0 L695.5,824.7 L696.0,820.4 L696.5,824.0 L697.0,820.7 L697.5,820.2 L698.0,821.7 L698.5,825.0 L699.0,826.2 L699.5,826.9 L700.0,826.0 L700.5,824.3 L701.0,820.0 L701.5,823.4 L702.0,829.2 L702.5,822.2 L703.0,827.6 L703.5,827.9 L704.0,823.4 L704.5,828.7 L705.0,827.4 L705.5,829.3 L706.0,829.0 L706.5,829.2 L707.0,828.0 L707.5,825.9 L708.0,835.4 L708.5,829.6 L709.0,831.5 L709.5,831.7 L710.0,832.3 L710.5,831.7 L711.0,835.2 L711.5,834.3 L712.0,833.6 L712.5,833.8 L713.0,836.8 L713.5,833.8 L714.0,837.6 L714.5,839.9 L715.0,839.7 L715.5,838.8 L716.0,833.8 L716.5,839.9 L717.0,839.1 L717.5,842.0 L718.0,837.7 L718.5,838.2 L719.0,843.1 L719.5,837.9 L720.0,842.8 L720.5,841.1 L721.0,834.6 L721.5,839.6 L722.0,839.7 L722.5,837.8 L723.0,836.6 L723.5,841.5 L724.0,839.0 L724.5,839.9 L725.0,839.4 L725.5,841.2 L726.0,843.1 L726.5,843.9 L727.0,843.3 L727.5,841.3 L728.0,841.9 L728.5,843.7 L729.0,845.4 L729.5,842.3 L730.0,839.5 L730.5,843.3 L731.0,844.2 L731.5,841.6 L732.0,845.7 L732.5,841.7 L733.0,842.9 L733.5,843.8 L734.0,846.8 L734.5,840.2 L735.0,844.4 L735.5,845.0 L736.0,842.9 L736.5,845.6 L737.0,841.6 L737.5,840.4 L738.0,840.3 L738.5,841.6 L739.0,840.7 L739.5,844.6 L740.0,843.4 L740.5,839.9 L741.0,847.2 L741.5,844.0 L742.0,839.5 L742.5,839.0 L743.0,843.7 L743.5,846.8 L744.0,842.8 L744.5,845.9 L745.0,847.5 L745.5,845.4 L746.0,842.8 L746.5,840.5 L747.0,842.1 L747.5,846.9 L748.0,843.8 L748.5,841.3 L749.0,842.7 L749.5,843.3 L750.0,846.5 L750.5,842.4 L751.0,848.3 L751.5,844.4 L752.0,844.7 L752.5,841.1 L753.0,844.8 L753.5,844.5 L754.0,845.6 L754.5,842.2 L755.0,844.4 L755.5,840.2 L756.0,841.5 L756.5,849.6 L757.0,842.8 L757.5,842.1 L758.0,846.1 L758.5,843.5 L759.0,849.6 L759.5,844.1 L760.0,845.7 L760.5,843.3 L761.0,846.8 L761.5,844.1 L762.0,849.7 L762.5,842.3 L763.0,845.1 L763.5,845.8 L764.0,841.3 L764.5,842.7 L765.0,842.1 L765.5,839.9 L766.0,844.8 L766.5,838.2 L767.0,840.9 L767.5,841.2 L768.0,844.7 L768.5,843.7 L769.0,846.6 L769.5,847.0 L770.0,844.4 L770.5,841.7 L771.0,845.8 L771.5,842.3 L772.0,843.3 L772.5,844.1 L773.0,847.7 L773.5,849.8 L774.0,847.1 L774.5,843.0 L775.0,846.4 L775.5,847.3 L776.0,842.1 L776.5,844.6 L777.0,842.6 L777.5,842.7 L778.0,844.5 L778.5,844.6 L779.0,842.4 L779.5,844.3 L780.0,841.3 L780.5,843.9 L781.0,844.6 L781.5,843.1 L782.0,840.5 L782.5,842.4 L783.0,845.2 L783.5,846.6 L784.0,846.6 L784.5,846.7 L785.0,848.5 L785.5,843.2 L786.0,847.1 L786.5,842.3 L787.0,848.5 L787.5,846.6 L788.0,841.8 L788.5,846.0 L789.0,846.7 L789.5,842.3 L790.0,845.1 L790.5,846.4 L791.0,848.8 L791.5,843.0 L792.0,848.1 L792.5,841.9 L793.0,842.3 L793.5,847.6 L794.0,846.1 L794.5,842.5 L795.0,848.0 L795.5,845.6 L796.0,844.8 L796.5,843.7 L797.0,838.5 L797.5,844.4 L798.0,846.6 L798.5,844.2 L799.0,846.1 L799.5,844.1 L800.0,847.7 L800.5,838.5 L801.0,845.5 L801.5,842.1 L802.0,844.8 L802.5,845.9 L803.0,847.1 L803.5,846.3 L804.0,847.2 L804.5,841.9 L805.0,844.6 L805.5,839.0 L806.0,845.1 L806.5,840.3 L807.0,846.8 L807.5,844.7 L808.0,843.6 L808.5,842.7 L809.0,844.7 L809.5,842.8 L810.0,840.8 L810.5,845.2 L811.0,842.1 L811.5,845.3 L812.0,841.9 L812.5,841.2 L813.0,849.6 L813.5,845.6 L814.0,847.1 L814.5,843.5 L815.0,844.1 L815.5,844.1 L816.0,848.9 L816.5,845.8 L817.0,844.4 L817.5,844.0 L818.0,844.3 L818.5,846.7 L819.0,844.2 L819.5,844.3 L820.0,847.4 L820.5,846.5 L821.0,846.1 L821.5,848.9 L822.0,843.9 L822.5,841.4 L823.0,840.2 L823.5,844.0 L824.0,844.7 L824.5,846.5 L825.0,840.7 L825.5,840.9 L826.0,843.6 L826.5,843.4 L827.0,840.7 L827.5,843.6 L828.0,845.7 L828.5,843.4 L829.0,849.7 L829.5,845.8 L830.0,842.0 L830.5,843.4 L831.0,840.5 L831.5,849.2 L832.0,843.3 L832.5,843.2 L833.0,845.7 L833.5,843.1 L834.0,842.3 L834.5,843.7 L835.0,846.3 L835.5,846.3 L836.0,840.5 L836.5,839.9 L837.0,844.9 L837.5,843.0 L838.0,842.7 L838.5,846.4 L839.0,844.9 L839.5,842.6 L840.0,845.3 L840.5,842.0 L841.0,842.5 L841.5,848.3 L842.0,843.2 L842.5,845.1 L843.0,843.1 L843.5,843.0 L844.0,841.1 L844.5,841.0 L845.0,846.8 L845.5,849.1 L846.0,845.4 L846.5,845.2 L847.0,842.4 L847.5,843.6 L848.0,847.4 L848.5,849.5 L849.0,845.5 L849.5,844.8 L850.0,846.5 L850.5,844.1 L851.0,841.9 L851.5,841.6 L852.0,843.1 L852.5,842.8 L853.0,838.0 L853.5,839.4 L854.0,845.7 L854.5,846.1 L855.0,845.7 L855.5,843.1 L856.0,842.1 L856.5,843.6 L857.0,844.5 L857.5,842.5 L858.0,846.3 L858.5,842.0 L859.0,837.9 L859.5,845.3 L860.0,845.8 L860.5,843.2 L861.0,846.2 L861.5,846.5 L862.0,837.8 L862.5,844.6 L863.0,840.7 L863.5,845.3 L864.0,844.2 L864.5,845.6 L865.0,842.9 L865.5,842.1 L866.0,844.2 L866.5,849.3 L867.0,844.6 L867.5,841.0 L868.0,843.4 L868.5,842.9 L869.0,846.6 L869.5,843.8 L870.0,842.7 L870.5,843.9 L871.0,841.8 L871.5,844.6 L872.0,840.8 L872.5,842.3 L873.0,844.0 L873.5,840.1 L874.0,840.2 L874.5,841.5 L875.0,847.0 L875.5,845.5 L876.0,843.6 L876.5,845.8 L877.0,845.5 L877.5,841.9 L878.0,840.7 L878.5,846.3 L879.0,841.7 L879.5,844.9 L880.0,839.5 L880.5,843.1 L881.0,840.3 L881.5,844.9 L882.0,845.1 L882.5,844.2 L883.0,845.2 L883.5,841.9 L884.0,844.2 L884.5,844.7 L885.0,841.1 L885.5,844.7 L886.0,843.9 L886.5,844.3 L887.0,842.6 L887.5,843.0 L888.0,844.3 L888.5,843.4 L889.0,844.5 L889.5,839.8 L890.0,845.4 L890.5,841.1 L891.0,845.6 L891.5,839.5 L892.0,841.5 L892.5,843.6 L893.0,843.9 L893.5,841.8 L894.0,840.7 L894.5,844.4 L895.0,845.4 L895.5,840.7 L896.0,839.9 L896.5,841.3 L897.0,842.5 L897.5,838.4 L898.0,840.2 L898.5,844.3 L899.0,840.7 L899.5,840.7 L900.0,846.3 L900.5,845.3 L901.0,846.7 L901.5,842.6 L902.0,842.2 L902.5,841.5 L903.0,838.9 L903.5,837.3 L904.0,842.3 L904.5,840.5 L905.0,844.0 L905.5,844.8 L906.0,838.7 L906.5,839.0 L907.0,842.9 L907.5,845.7 L908.0,846.1 L908.5,840.6 L909.0,842.4 L909.5,845.7 L910.0,840.4 L910.5,839.7 L911.0,845.4 L911.5,840.4 L912.0,839.2 L912.5,845.9 L913.0,841.0 L913.5,841.0 L914.0,843.4 L914.5,845.6 L915.0,843.8 L915.5,842.5 L916.0,842.9 L916.5,842.9 L917.0,842.5 L917.5,837.5 L918.0,842.4 L918.5,838.4 L919.0,839.8 L919.5,841.9 L920.0,841.2 L920.5,842.4 L921.0,841.4 L921.5,842.5 L922.0,845.8 L922.5,838.6 L923.0,843.9 L923.5,845.6 L924.0,840.0 L924.5,840.2 L925.0,840.7 L925.5,842.0 L926.0,839.1 L926.5,839.9 L927.0,840.6 L927.5,840.8 L928.0,844.0 L928.5,839.3 L929.0,842.4 L929.5,842.3 L930.0,840.7 L930.5,840.5 L931.0,838.1 L931.5,838.3 L932.0,840.8 L932.5,840.4 L933.0,839.1 L933.5,842.4 L934.0,839.9 L934.5,839.6 L935.0,838.9 L935.5,841.8 L936.0,840.4 L936.5,839.7 L937.0,835.7 L937.5,842.7 L938.0,835.1 L938.5,839.3 L939.0,835.3 L939.5,834.2 L940.0,831.7 L940.5,837.8 L941.0,837.9 L941.5,836.1 L942.0,835.5 L942.5,833.1 L943.0,836.0 L943.5,835.2 L944.0,831.9 L944.5,834.0 L945.0,834.0 L945.5,831.8 L946.0,836.8 L946.5,830.5 L947.0,838.0 L947.5,835.6 L948.0,831.2 L948.5,835.8 L949.0,834.0 L949.5,833.7 L950.0,830.5 L950.5,827.1 L951.0,823.6 L951.5,828.7 L952.0,827.0 L952.5,825.0 L953.0,830.6 L953.5,825.9 L954.0,820.1 L954.5,822.4 L955.0,822.9 L955.5,817.6 L956.0,819.9 L956.5,817.4 L957.0,813.4 L957.5,816.6 L958.0,815.9 L958.5,807.1 L959.0,812.5 L959.5,808.5 L960.0,807.5 L960.5,802.6 L961.0,802.6 L961.5,807.5 L962.0,803.2 L962.5,799.3 L963.0,798.1 L963.5,794.1 L964.0,793.9 L964.5,790.3 L965.0,791.0 L965.5,785.8 L966.0,787.1 L966.5,786.7 L967.0,782.2 L967.5,781.7 L968.0,780.2 L968.5,776.6 L969.0,772.9 L969.5,777.4 L970.0,773.7 L970.5,771.6 L971.0,774.3 L971.5,768.4 L972.0,768.4 L972.5,767.4 L973.0,766.2 L973.5,768.2 L974.0,767.0 L974.5,772.1 L975.0,767.6 L975.5,772.7 L976.0,768.3 L976.5,770.6 L977.0,772.6 L977.5,771.6 L978.0,776.7 L978.5,775.1 L979.0,776.5 L979.5,781.4 L980.0,779.7 L980.5,784.8 L981.0,787.6 L981.5,788.8 L982.0,792.2 L982.5,789.7 L983.0,795.5 L983.5,793.1 L984.0,792.3 L984.5,797.7 L985.0,804.6 L985.5,799.3 L986.0,807.7 L986.5,801.7 L987.0,808.9 L987.5,809.5 L988.0,808.8 L988.5,806.0 L989.0,814.5 L989.5,815.8 L990.0,816.8 L990.5,819.2 L991.0,816.2 L991.5,824.1 L992.0,822.6 L992.5,819.7 L993.0,827.8 L993.5,823.6 L994.0,825.6 L994.5,827.4 L995.0,824.2 L995.5,824.9 L996.0,827.4 L996.5,825.7 L997.0,828.7 L997.5,833.1 L998.0,827.7 L998.5,831.1 L999.0,830.1 L999.5,834.0 L1000.0,829.6 L1000.5,830.2 L1001.0,832.8 L1001.5,838.5 L1002.0,831.7 L1002.5,830.2 L1003.0,832.2 L1003.5,836.6 L1004.0,837.4 L1004.5,835.3 L1005.0,836.3 L1005.5,832.5 L1006.0,837.1 L1006.5,835.9 L1007.0,835.0 L1007.5,839.1 L1008.0,839.4 L1008.5,835.9 L1009.0,837.7 L1009.5,832.7 L1010.0,834.9 L1010.5,840.7 L1011.0,835.0 L1011.5,835.6 L1012.0,840.6 L1012.5,832.5 L1013.0,836.5 L1013.5,840.0 L1014.0,837.3 L1014.5,836.3 L1015.0,836.0 L1015.5,839.1 L1016.0,836.4 L1016.5,839.5 L1017.0,838.5 L1017.5,838.9 L1018.0,841.7 L1018.5,838.0 L1019.0,836.9 L1019.5,839.2 L1020.0,839.9 L1020.5,838.9 L1021.0,835.3 L1021.5,841.1 L1022.0,835.3 L1022.5,834.8 L1023.0,841.9 L1023.5,843.3 L1024.0,839.1 L1024.5,837.8 L1025.0,843.2 L1025.5,836.7 L1026.0,839.9 L1026.5,838.6 L1027.0,841.4 L1027.5,840.8 L1028.0,838.2 L1028.5,842.8 L1029.0,842.0 L1029.5,840.2 L1030.0,839.6 L1030.5,840.1 L1031.0,837.3 L1031.5,839.8 L1032.0,839.8 L1032.5,841.7 L1033.0,840.0 L1033.5,839.5 L1034.0,841.1 L1034.5,842.8 L1035.0,841.9 L1035.5,840.3 L1036.0,839.5 L1036.5,843.9 L1037.0,840.7 L1037.5,837.8 L1038.0,841.2 L1038.5,836.5 L1039.0,839.4 L1039.5,842.3 L1040.0,840.4 L1040.5,840.0 L1041.0,842.5 L1041.5,843.6 L1042.0,838.5 L1042.5,838.1 L1043.0,839.1 L1043.5,838.1 L1044.0,842.0 L1044.5,842.6 L1045.0,840.6 L1045.5,838.3 L1046.0,837.1 L1046.5,840.5 L1047.0,839.0 L1047.5,842.0 L1048.0,837.9 L1048.5,839.6 L1049.0,840.0 L1049.5,843.4 L1050.0,842.8 L1050.5,842.1 L1051.0,841.4 L1051.5,842.6 L1052.0,836.7 L1052.5,843.1 L1053.0,840.4 L1053.5,844.6 L1054.0,843.2 L1054.5,843.9 L1055.0,839.4 L1055.5,846.8 L1056.0,842.5 L1056.5,841.8 L1057.0,839.8 L1057.5,842.0 L1058.0,836.1 L1058.5,844.4 L1059.0,842.4 L1059.5,841.1 L1060.0,844.5 L1060.5,842.5 L1061.0,842.3 L1061.5,840.0 L1062.0,842.0 L1062.5,838.4 L1063.0,838.6 L1063.5,841.6 L1064.0,839.8 L1064.5,838.0 L1065.0,840.8 L1065.5,836.9 L1066.0,845.0 L1066.5,839.1 L1067.0,839.1 L1067.5,844.9 L1068.0,837.7 L1068.5,835.9 L1069.0,841.2 L1069.5,840.5 L1070.0,843.6 L1070.5,841.0 L1071.0,837.3 L1071.5,841.4 L1072.0,840.5 L1072.5,844.1 L1073.0,841.9 L1073.5,838.9 L1074.0,839.5 L1074.5,841.2 L1075.0,840.1 L1075.5,841.6 L1076.0,841.8 L1076.5,838.3 L1077.0,841.7 L1077.5,843.1 L1078.0,838.2 L1078.5,837.6 L1079.0,842.9 L1079.5,842.4 L1080.0,843.3 L1080.5,845.3 L1081.0,840.8 L1081.5,838.6 L1082.0,841.6 L1082.5,839.5 L1083.0,842.0 L1083.5,842.8 L1084.0,841.3 L1084.5,842.4 L1085.0,841.0 L1085.5,841.6 L1086.0,838.2 L1086.5,845.0 L1087.0,839.3 L1087.5,839.9 L1088.0,839.2 L1088.5,840.3 L1089.0,839.8 L1089.5,836.1 L1090.0,844.5 L1090.5,841.7 L1091.0,840.1 L1091.5,840.7 L1092.0,843.2 L1092.5,842.7 L1093.0,841.4 L1093.5,842.8 L1094.0,834.8 L1094.5,842.7 L1095.0,840.0 L1095.5,838.7 L1096.0,838.0 L1096.5,840.6 L1097.0,836.3 L1097.5,841.2 L1098.0,838.5 L1098.5,842.0 L1099.0,836.0 L1099.5,841.2 L1100.0,839.1 L1100.5,837.3 L1101.0,843.1 L1101.5,842.7 L1102.0,837.8 L1102.5,839.3 L1103.0,843.4 L1103.5,840.1 L1104.0,838.3 L1104.5,837.5 L1105.0,837.9 L1105.5,841.0 L1106.0,841.8 L1106.5,838.6 L1107.0,837.0 L1107.5,837.5 L1108.0,835.0 L1108.5,840.4 L1109.0,839.2 L1109.5,841.7 L1110.0,844.5 L1110.5,842.2 L1111.0,837.9 L1111.5,838.0 L1112.0,835.6 L1112.5,833.6 L1113.0,843.1 L1113.5,839.1 L1114.0,834.7 L1114.5,839.9 L1115.0,833.1 L1115.5,837.5 L1116.0,838.1 L1116.5,836.2 L1117.0,836.3 L1117.5,839.3 L1118.0,836.0 L1118.5,839.9 L1119.0,832.6 L1119.5,835.8 L1120.0,840.7 L1120.5,833.9 L1121.0,833.8 L1121.5,836.0 L1122.0,834.6 L1122.5,836.0 L1123.0,837.6 L1123.5,836.3 L1124.0,835.1 L1124.5,833.3 L1125.0,834.4 L1125.5,835.8 L1126.0,831.0 L1126.5,831.7 L1127.0,829.5 L1127.5,831.8 L1128.0,831.7 L1128.5,829.4 L1129.0,827.5 L1129.5,827.7 L1130.0,830.5 L1130.5,826.9 L1131.0,829.6 L1131.5,825.3 L1132.0,824.2 L1132.5,827.1 L1133.0,822.4 L1133.5,826.2 L1134.0,817.2 L1134.5,821.6 L1135.0,819.2 L1135.5,818.5 L1136.0,819.0 L1136.5,812.5 L1137.0,821.3 L1137.5,813.8 L1138.0,819.7 L1138.5,814.5 L1139.0,811.7 L1139.5,806.1 L1140.0,812.7 L1140.5,808.8 L1141.0,808.8 L1141.5,800.7 L1142.0,798.8 L1142.5,800.8 L1143.0,801.7 L1143.5,801.0 L1144.0,800.8 L1144.5,794.4 L1145.0,792.0 L1145.5,795.9 L1146.0,790.5 L1146.5,791.7 L1147.0,795.9 L1147.5,789.0 L1148.0,790.1 L1148.5,789.1 L1149.0,787.9 L1149.5,788.3 L1150.0,788.2 L1150.5,786.9 L1151.0,790.3 L1151.5,788.9 L1152.0,784.2 L1152.5,790.4 L1153.0,787.5 L1153.5,787.1 L1154.0,786.1 L1154.5,790.4 L1155.0,789.1 L1155.5,787.9 L1156.0,788.5 L1156.5,794.1 L1157.0,791.3 L1157.5,791.9 L1158.0,799.7 L1158.5,795.4 L1159.0,796.9 L1159.5,796.5 L1160.0,796.9 L1160.5,795.3 L1161.0,800.1 L1161.5,799.7 L1162.0,797.7 L1162.5,800.0 L1163.0,805.1 L1163.5,802.0 L1164.0,801.8 L1164.5,800.5 L1165.0,801.0 L1165.5,804.0 L1166.0,804.9 L1166.5,803.5 L1167.0,805.3 L1167.5,801.1 L1168.0,802.0 L1168.5,803.8 L1169.0,805.6 L1169.5,801.4 L1170.0,804.6 L1170.5,799.4 L1171.0,804.4 L1171.5,804.5 L1172.0,800.2 L1172.5,801.4 L1173.0,801.9 L1173.5,798.0 L1174.0,798.2 L1174.5,797.7 L1175.0,799.6 L1175.5,800.0 L1176.0,795.2 L1176.5,795.3 L1177.0,798.2 L1177.5,794.8 L1178.0,795.6 L1178.5,797.9 L1179.0,795.9 L1179.5,798.2 L1180.0,795.9 L1180.5,795.5 L1181.0,794.1 L1181.5,790.7 L1182.0,795.5 L1182.5,792.4 L1183.0,799.1 L1183.5,799.6 L1184.0,799.5 L1184.5,801.7 L1185.0,804.9 L1185.5,796.4 L1186.0,801.1 L1186.5,804.2 L1187.0,802.6 L1187.5,803.9 L1188.0,807.8 L1188.5,807.4 L1189.0,803.9 L1189.5,811.7 L1190.0,807.3 L1190.5,810.9 L1191.0,812.8 L1191.5,808.4 L1192.0,817.6 L1192.5,816.1 L1193.0,816.5 L1193.5,818.5 L1194.0,817.0 L1194.5,820.2 L1195.0,821.0 L1195.5,815.1 L1196.0,818.4 L1196.5,824.5 L1197.0,820.5 L1197.5,825.2 L1198.0,824.3 L1198.5,827.2 L1199.0,821.9 L1199.5,827.2 L1200.0,827.7 L1200.5,829.0 L1201.0,829.5 L1201.5,829.7 L1202.0,831.0 L1202.5,831.8 L1203.0,829.9 L1203.5,835.2 L1204.0,832.2 L1204.5,831.2 L1205.0,834.7 L1205.5,830.0 L1206.0,836.5 L1206.5,833.4 L1207.0,834.7 L1207.5,835.0 L1208.0,836.4 L1208.5,834.0 L1209.0,834.6 L1209.5,836.9 L1210.0,834.8 L1210.5,836.3 L1211.0,836.3 L1211.5,836.0 L1212.0,835.4 L1212.5,835.2 L1213.0,836.4 L1213.5,834.6 L1214.0,835.0 L1214.5,843.9 L1215.0,838.1 L1215.5,840.3 L1216.0,838.9 L1216.5,840.1 L1217.0,838.8 L1217.5,841.0 L1218.0,839.2 L1218.5,839.5 L1219.0,836.0 L1219.5,841.3 L1220.0,838.6 L1220.5,839.1 L1221.0,840.2 L1221.5,839.9 L1222.0,839.4 L1222.5,842.4 L1223.0,837.5 L1223.5,834.8 L1224.0,838.9 L1224.5,834.4 L1225.0,839.3 L1225.5,842.8 L1226.0,843.5 L1226.5,837.4 L1227.0,840.9 L1227.5,837.2 L1228.0,840.9 L1228.5,843.4 L1229.0,838.7 L1229.5,843.9 L1230.0,840.9 L1230.5,846.2 L1231.0,839.0 L1231.5,838.3 L1232.0,843.6 L1232.5,842.7 L1233.0,842.0 L1233.5,838.8 L1234.0,841.0 L1234.5,839.5 L1235.0,844.4 L1235.5,842.3 L1236.0,839.3 L1236.5,838.9 L1237.0,837.5 L1237.5,839.5 L1238.0,840.9 L1238.5,842.0 L1239.0,843.6 L1239.5,839.9 L1240.0,844.1 L1240.5,836.4 L1241.0,840.9 L1241.5,842.7 L1242.0,840.0 L1242.5,841.8 L1243.0,843.2 L1243.5,840.0 L1244.0,841.8 L1244.5,844.0 L1245.0,838.5 L1245.5,844.0 L1246.0,841.1 L1246.5,838.0 L1247.0,842.3 L1247.5,843.1 L1248.0,841.1 L1248.5,842.3 L1249.0,842.7 L1249.5,841.7 L1250.0,841.9 L1250.5,843.6 L1251.0,843.5 L1251.5,841.6 L1252.0,837.3 L1252.5,838.6 L1253.0,840.8 L1253.5,844.4 L1254.0,842.9 L1254.5,846.0 L1255.0,842.9 L1255.5,842.8 L1256.0,841.0 L1256.5,844.7 L1257.0,838.6 L1257.5,842.6 L1258.0,841.5 L1258.5,840.6 L1259.0,844.1 L1259.5,843.5 L1260.0,842.8 L1260.5,841.1 L1261.0,838.5 L1261.5,838.7 L1262.0,835.9 L1262.5,838.7 L1263.0,842.6 L1263.5,845.2 L1264.0,839.3 L1264.5,844.9 L1265.0,846.4 L1265.5,844.6 L1266.0,846.0 L1266.5,841.9 L1267.0,840.8 L1267.5,842.7 L1268.0,844.3 L1268.5,843.2 L1269.0,842.5 L1269.5,844.0 L1270.0,840.0 L1270.5,844.0 L1271.0,837.4 L1271.5,845.5 L1272.0,845.5 L1272.5,847.5 L1273.0,840.0 L1273.5,840.8 L1274.0,839.7 L1274.5,838.7 L1275.0,836.6 L1275.5,844.1 L1276.0,841.6 L1276.5,841.9 L1277.0,837.9 L1277.5,842.5 L1278.0,847.0 L1278.5,842.6 L1279.0,844.2 L1279.5,839.4 L1280.0,844.8 L1280.5,842.1 L1281.0,842.5 L1281.5,843.1 L1282.0,841.6 L1282.5,843.9 L1283.0,842.0 L1283.5,841.2 L1284.0,839.6 L1284.5,839.5 L1285.0,844.3 L1285.5,844.9 L1286.0,842.0 L1286.5,841.8 L1287.0,840.9 L1287.5,842.7 L1288.0,845.6 L1288.5,842.9 L1289.0,841.0 L1289.5,844.8 L1290.0,844.1 L1290.5,838.0 L1291.0,841.2 L1291.5,845.3 L1292.0,843.3 L1292.5,842.2 L1293.0,843.3 L1293.5,839.5 L1294.0,839.5 L1294.5,842.1 L1295.0,842.6 L1295.5,846.2 L1296.0,842.1 L1296.5,843.1 L1297.0,846.1 L1297.5,840.9 L1298.0,841.7 L1298.5,842.5 L1299.0,843.0 L1299.5,842.8 L1300.0,844.0 L1300.5,839.5 L1301.0,839.2 L1301.5,842.1 L1302.0,838.4 L1302.5,846.1 L1303.0,840.4 L1303.5,840.9 L1304.0,843.7 L1304.5,843.1 L1305.0,843.6 L1305.5,842.2 L1306.0,839.1 L1306.5,841.8 L1307.0,840.6 L1307.5,838.2 L1308.0,841.5 L1308.5,844.5 L1309.0,839.9 L1309.5,840.4 L1310.0,840.3 L1310.5,844.0 L1311.0,837.2 L1311.5,843.2 L1312.0,842.4 L1312.5,841.9 L1313.0,839.8 L1313.5,841.4 L1314.0,846.7 L1314.5,842.6 L1315.0,841.1 L1315.5,844.1 L1316.0,839.0 L1316.5,844.7 L1317.0,841.8 L1317.5,847.6 L1318.0,847.4 L1318.5,843.5 L1319.0,843.1 L1319.5,841.1 L1320.0,843.4 L1320.5,843.8 L1321.0,838.7 L1321.5,838.3 L1322.0,843.3 L1322.5,840.6 L1323.0,842.3 L1323.5,842.2 L1324.0,842.3 L1324.5,841.3 L1325.0,843.4 L1325.5,845.4 L1326.0,845.8 L1326.5,841.0 L1327.0,842.1 L1327.5,842.0 L1328.0,838.2 L1328.5,838.1 L1329.0,841.5 L1329.5,842.9 L1330.0,843.6 L1330.5,840.2 L1331.0,843.3 L1331.5,841.4 L1332.0,840.6 L1332.5,844.1 L1333.0,837.6 L1333.5,836.1 L1334.0,846.3 L1334.5,841.5 L1335.0,843.5 L1335.5,841.4 L1336.0,839.9 L1336.5,838.8 L1337.0,837.2 L1337.5,842.0 L1338.0,839.0 L1338.5,841.2 L1339.0,842.2 L1339.5,841.3 L1340.0,841.7 L1340.5,845.0 L1341.0,842.1 L1341.5,842.0 L1342.0,841.0 L1342.5,844.9 L1343.0,844.5 L1343.5,839.9 L1344.0,842.3 L1344.5,841.0 L1345.0,840.3 L1345.5,839.1 L1346.0,845.6 L1346.5,842.6 L1347.0,836.2 L1347.5,843.8 L1348.0,845.5 L1348.5,841.5 L1349.0,841.0 L1349.5,841.5 L1350.0,843.4 L1350.5,839.8 L1351.0,842.1 L1351.5,837.4 L1352.0,843.9 L1352.5,838.3 L1353.0,840.1 L1353.5,841.9 L1354.0,843.4 L1354.5,839.2 L1355.0,839.2 L1355.5,844.5 L1356.0,839.3 L1356.5,838.8 L1357.0,839.5 L1357.5,842.4 L1358.0,842.4 L1358.5,843.1 L1359.0,841.7 L1359.5,839.7 L1360.0,841.7 L1360.5,842.4 L1361.0,837.8 L1361.5,839.1 L1362.0,840.5 L1362.5,844.5 L1363.0,839.8 L1363.5,840.7 L1364.0,840.6 L1364.5,841.4 L1365.0,842.1 L1365.5,838.1 L1366.0,834.7 L1366.5,842.4 L1367.0,835.4 L1367.5,841.2 L1368.0,841.5 L1368.5,842.2 L1369.0,838.0 L1369.5,841.3 L1370.0,842.1 L1370.5,842.2 L1371.0,843.5 L1371.5,838.1 L1372.0,839.2 L1372.5,839.8 L1373.0,840.3 L1373.5,842.9 L1374.0,842.4 L1374.5,840.6 L1375.0,844.6 L1375.5,841.8 L1376.0,837.5 L1376.5,843.3 L1377.0,836.9 L1377.5,836.9 L1378.0,838.8 L1378.5,838.6 L1379.0,839.3 L1379.5,839.4 L1380.0,837.3 L1380.5,837.2 L1381.0,840.3 L1381.5,839.1 L1382.0,837.5 L1382.5,835.8 L1383.0,837.4 L1383.5,834.6 L1384.0,833.4 L1384.5,838.5 L1385.0,837.2 L1385.5,834.1 L1386.0,838.2 L1386.5,833.5 L1387.0,834.6 L1387.5,833.5 L1388.0,831.8 L1388.5,831.1 L1389.0,833.6 L1389.5,831.2 L1390.0,823.6 L1390.5,828.6 L1391.0,820.8 L1391.5,822.6 L1392.0,825.2 L1392.5,820.4 L1393.0,824.9 L1393.5,819.9 L1394.0,821.1 L1394.5,819.2 L1395.0,819.3 L1395.5,819.4 L1396.0,811.6 L1396.5,813.8 L1397.0,813.3 L1397.5,814.2 L1398.0,811.9 L1398.5,808.9 L1399.0,805.3 L1399.5,803.7 L1400.0,804.4 L1400.5,806.2 L1401.0,805.3 L1401.5,807.6 L1402.0,804.2 L1402.5,804.8 L1403.0,799.0 L1403.5,802.5 L1404.0,800.4 L1404.5,799.9 L1405.0,804.1 L1405.5,801.0 L1406.0,800.9 L1406.5,801.2 L1407.0,798.1 L1407.5,797.7 L1408.0,806.5 L1408.5,802.5 L1409.0,802.9 L1409.5,804.0 L1410.0,803.0 L1410.5,804.1 L1411.0,803.4 L1411.5,807.1 L1412.0,806.7 L1412.5,810.4 L1413.0,812.5 L1413.5,807.1 L1414.0,812.2 L1414.5,810.5 L1415.0,817.6 L1415.5,813.8 L1416.0,816.6 L1416.5,814.0 L1417.0,819.1 L1417.5,815.2 L1418.0,814.9 L1418.5,812.9 L1419.0,819.5 L1419.5,819.5 L1420.0,821.7 L1420.5,819.9 L1421.0,822.8 L1421.5,823.6 L1422.0,821.8 L1422.5,829.8 L1423.0,831.2 L1423.5,827.3 L1424.0,828.6 L1424.5,829.5 L1425.0,830.3 L1425.5,827.2 L1426.0,830.4 L1426.5,834.6 L1427.0,830.4 L1427.5,830.7 L1428.0,829.6 L1428.5,831.3 L1429.0,827.5 L1429.5,833.1 L1430.0,836.2 L1430.5,834.8 L1431.0,834.8 L1431.5,834.8 L1432.0,835.2 L1432.5,832.8 L1433.0,831.1 L1433.5,840.4 L1434.0,837.5 L1434.5,831.2 L1435.0,840.6 L1435.5,836.0 L1436.0,839.5 L1436.5,837.1 L1437.0,836.0 L1437.5,839.8 L1438.0,837.1 L1438.5,832.2 L1439.0,839.6 L1439.5,838.2 L1440.0,838.4 L1440.5,837.9 L1441.0,839.9 L1441.5,842.6 L1442.0,841.5 L1442.5,839.9 L1443.0,839.5 L1443.5,837.6 L1444.0,843.8 L1444.5,834.9 L1445.0,837.2 L1445.5,839.3 L1446.0,840.2 L1446.5,840.6 L1447.0,839.0 L1447.5,844.6 L1448.0,843.1 L1448.5,835.6 L1449.0,837.9 L1449.5,837.0 L1450.0,843.8 L1450.5,839.4 L1451.0,836.7 L1451.5,839.8 L1452.0,837.4 L1452.5,840.7 L1453.0,842.3 L1453.5,837.9 L1454.0,841.3 L1454.5,841.6 L1455.0,839.1 L1455.5,842.1 L1456.0,839.3 L1456.5,842.6 L1457.0,840.7 L1457.5,839.9 L1458.0,844.5 L1458.5,843.5 L1459.0,840.4 L1459.5,835.1 L1460.0,841.8 L1460.5,840.0 L1461.0,842.2 L1461.5,841.2 L1462.0,840.6 L1462.5,840.4 L1463.0,844.7 L1463.5,845.0 L1464.0,844.5 L1464.5,838.6 L1465.0,840.4 L1465.5,841.8 L1466.0,836.7 L1466.5,843.9 L1467.0,838.7 L1467.5,843.8 L1468.0,840.0 L1468.5,842.4 L1469.0,837.2 L1469.5,835.6 L1470.0,839.6 L1470.5,838.0 L1471.0,838.2 L1471.5,840.2 L1472.0,842.1 L1472.5,843.4 L1473.0,839.1 L1473.5,837.7 L1474.0,841.1 L1474.5,838.7 L1475.0,838.3 L1475.5,840.2 L1476.0,844.0 L1476.5,842.0 L1477.0,836.2 L1477.5,846.1 L1478.0,838.1 L1478.5,841.7 L1479.0,839.4 L1479.5,843.8 L1480.0,842.4 L1480.5,844.3 L1481.0,842.0 L1481.5,841.1 L1482.0,844.4 L1482.5,836.8 L1483.0,838.3 L1483.5,837.9 L1484.0,841.1 L1484.5,840.3 L1485.0,839.4 L1485.5,843.3 L1486.0,842.8 L1486.5,840.4 L1487.0,838.1 L1487.5,846.8 L1488.0,842.4 L1488.5,840.2 L1489.0,842.0 L1489.5,842.5 L1490.0,840.1 L1490.5,843.6 L1491.0,842.1 L1491.5,840.6 L1492.0,844.6 L1492.5,840.7 L1493.0,845.0 L1493.5,842.2 L1494.0,841.3 L1494.5,844.8 L1495.0,841.0 L1495.5,843.3 L1496.0,845.2 L1496.5,841.0 L1497.0,840.5 L1497.5,843.8 L1498.0,844.4 L1498.5,836.6 L1499.0,843.2 L1499.5,844.7 L1500.0,840.6 L1500.5,844.4 L1501.0,841.2 L1501.5,840.4 L1502.0,841.2 L1502.5,843.8 L1503.0,841.1 L1503.5,840.6 L1504.0,842.1 L1504.5,844.0 L1505.0,837.0 L1505.5,844.7 L1506.0,845.4 L1506.5,839.4 L1507.0,841.8 L1507.5,843.0 L1508.0,842.2 L1508.5,846.5 L1509.0,842.3 L1509.5,840.6 L1510.0,840.9 L1510.5,842.7 L1511.0,840.1 L1511.5,840.4 L1512.0,840.6 L1512.5,846.0 L1513.0,843.4 L1513.5,839.0 L1514.0,843.1 L1514.5,836.0 L1515.0,841.9 L1515.5,843.4 L1516.0,842.8 L1516.5,843.2 L1517.0,842.4 L1517.5,840.3 L1518.0,841.4 L1518.5,841.3 L1519.0,838.3 L1519.5,842.1 L1520.0,839.5 L1520.5,843.5 L1521.0,847.5 L1521.5,847.2 L1522.0,847.5 L1522.5,841.0 L1523.0,840.9 L1523.5,843.6 L1524.0,839.8 L1524.5,843.5 L1525.0,840.6 L1525.5,842.7 L1526.0,841.0 L1526.5,845.8 L1527.0,844.8 L1527.5,843.9 L1528.0,838.9 L1528.5,844.9 L1529.0,840.9 L1529.5,838.6 L1530.0,842.7 L1530.5,844.5 L1531.0,838.2 L1531.5,843.8 L1532.0,841.3 L1532.5,841.4 L1533.0,843.1 L1533.5,841.0 L1534.0,840.2 L1534.5,844.5 L1535.0,835.8 L1535.5,844.2 L1536.0,838.6 L1536.5,844.7 L1537.0,838.9 L1537.5,845.1 L1538.0,837.5 L1538.5,846.1 L1539.0,842.1 L1539.5,841.2 L1540.0,840.9 L1540.5,844.2 L1541.0,841.2 L1541.5,843.1 L1542.0,842.0 L1542.5,838.9 L1543.0,845.7 L1543.5,841.1 L1544.0,842.2 L1544.5,842.1 L1545.0,841.5 L1545.5,845.6 L1546.0,842.3 L1546.5,840.7 L1547.0,841.5 L1547.5,840.5 L1548.0,838.5 L1548.5,843.9 L1549.0,838.8 L1549.5,844.1 L1550.0,841.3 L1550.5,843.0 L1551.0,840.9 L1551.5,840.2 L1552.0,846.2 L1552.5,839.9 L1553.0,838.4 L1553.5,841.7 L1554.0,844.0 L1554.5,837.4 L1555.0,839.1 L1555.5,842.4 L1556.0,842.5 L1556.5,841.5 L1557.0,839.0 L1557.5,840.5 L1558.0,838.1 L1558.5,840.8 L1559.0,839.6 L1559.5,840.1 L1560.0,838.8 L1560.5,840.9 L1561.0,839.1 L1561.5,837.0 L1562.0,842.1 L1562.5,839.1 L1563.0,837.7 L1563.5,837.7 L1564.0,841.6 L1564.5,838.0 L1565.0,838.3 L1565.5,835.3 L1566.0,836.2 L1566.5,835.4 L1567.0,834.5 L1567.5,833.8 L1568.0,835.2 L1568.5,832.6 L1569.0,837.0 L1569.5,837.0 L1570.0,832.7 L1570.5,835.6 L1571.0,832.6 L1571.5,834.7 L1572.0,834.7 L1572.5,829.3 L1573.0,827.0 L1573.5,833.8 L1574.0,833.4 L1574.5,831.9 L1575.0,830.3 L1575.5,829.5 L1576.0,825.1 L1576.5,833.9 L1577.0,824.8 L1577.5,830.4 L1578.0,829.0 L1578.5,830.0 L1579.0,826.0 L1579.5,826.6 L1580.0,829.4 L1580.5,825.3 L1581.0,828.0 L1581.5,824.3 L1582.0,827.7 L1582.5,828.2 L1583.0,826.9 L1583.5,827.9 L1584.0,823.7 L1584.5,825.0 L1585.0,825.3 L1585.5,829.4 L1586.0,824.5 L1586.5,825.8 L1587.0,828.6 L1587.5,826.2 L1588.0,827.8 L1588.5,823.2 L1589.0,828.1 L1589.5,825.8 L1590.0,827.0 L1590.5,827.6 L1591.0,821.4 L1591.5,828.8 L1592.0,825.2 L1592.5,829.1 L1593.0,825.9 L1593.5,827.2 L1594.0,823.2 L1594.5,824.3 L1595.0,829.7 L1595.5,825.4 L1596.0,828.2 L1596.5,827.6 L1597.0,825.3 L1597.5,827.7 L1598.0,828.0 L1598.5,830.0 L1599.0,827.8 L1599.5,827.5 L1600.0,832.5 L1600.5,832.7 L1601.0,829.7 L1601.5,827.2 L1602.0,830.8 L1602.5,828.7 L1603.0,833.4 L1603.5,830.1 L1604.0,828.7 L1604.5,829.6 L1605.0,828.2 L1605.5,830.3 L1606.0,827.5 L1606.5,831.1 L1607.0,832.6 L1607.5,831.7 L1608.0,828.4 L1608.5,831.5 L1609.0,829.6 L1609.5,827.1 L1610.0,830.2 L1610.5,832.4 L1611.0,830.8 L1611.5,829.4 L1612.0,828.5 L1612.5,829.8 L1613.0,830.9 L1613.5,830.1 L1614.0,832.3 L1614.5,831.3 L1615.0,831.6 L1615.5,828.4 L1616.0,830.0 L1616.5,828.9 L1617.0,829.6 L1617.5,829.2 L1618.0,834.1 L1618.5,825.4 L1619.0,828.9 L1619.5,826.7 L1620.0,828.6 L1620.5,828.1 L1621.0,830.9 L1621.5,826.8 L1622.0,825.4 L1622.5,827.6 L1623.0,827.3 L1623.5,821.5 L1624.0,830.8 L1624.5,824.1 L1625.0,829.8 L1625.5,829.0 L1626.0,829.3 L1626.5,826.4 L1627.0,824.0 L1627.5,824.1 L1628.0,828.8 L1628.5,824.8 L1629.0,826.8 L1629.5,825.1 L1630.0,824.6 L1630.5,828.3 L1631.0,823.9 L1631.5,825.7 L1632.0,825.6 L1632.5,826.8 L1633.0,826.3 L1633.5,824.3 L1634.0,825.9 L1634.5,826.3 L1635.0,831.9 L1635.5,829.3 L1636.0,827.5 L1636.5,828.3 L1637.0,827.5 L1637.5,832.3 L1638.0,828.2 L1638.5,826.6 L1639.0,835.0 L1639.5,827.6 L1640.0,828.3 L1640.5,827.6 L1641.0,831.2 L1641.5,828.9 L1642.0,828.9 L1642.5,833.3 L1643.0,834.7 L1643.5,832.3 L1644.0,829.4 L1644.5,833.3 L1645.0,830.9 L1645.5,833.3 L1646.0,833.6 L1646.5,830.4 L1647.0,835.5 L1647.5,833.7 L1648.0,833.8 L1648.5,831.6 L1649.0,836.6 L1649.5,833.0 L1650.0,835.1 L1650.5,832.7 L1651.0,832.3 L1651.5,832.5 L1652.0,831.8 L1652.5,834.9 L1653.0,839.1 L1653.5,838.7 L1654.0,834.3 L1654.5,834.7 L1655.0,840.3 L1655.5,838.7 L1656.0,837.0 L1656.5,836.3 L1657.0,836.3 L1657.5,831.9 L1658.0,836.0 L1658.5,842.6 L1659.0,841.5 L1659.5,837.2 L1660.0,839.9 L1660.5,839.5 L1661.0,836.8 L1661.5,836.2 L1662.0,837.0 L1662.5,838.9 L1663.0,841.6 L1663.5,839.2 L1664.0,838.7 L1664.5,838.2 L1665.0,841.8 L1665.5,842.8 L1666.0,839.5 L1666.5,838.5 L1667.0,839.8 L1667.5,840.5 L1668.0,842.0 L1668.5,841.5 L1669.0,837.4 L1669.5,839.0 L1670.0,838.4 L1670.5,840.9 L1671.0,836.8 L1671.5,835.2 L1672.0,839.6 L1672.5,838.3 L1673.0,838.5 L1673.5,839.2 L1674.0,837.4 L1674.5,839.7 L1675.0,836.9 L1675.5,836.8 L1676.0,840.8 L1676.5,838.9 L1677.0,842.2 L1677.5,840.3 L1678.0,838.0 L1678.5,838.3 L1679.0,837.2 L1679.5,839.6 L1680.0,840.9 L1680.5,839.6 L1681.0,840.2 L1681.5,837.4 L1682.0,842.6 L1682.5,841.0 L1683.0,842.0 L1683.5,837.0 L1684.0,839.2 L1684.5,837.9 L1685.0,843.3 L1685.5,839.2 L1686.0,844.9 L1686.5,840.7 L1687.0,838.3 L1687.5,842.6 L1688.0,843.7 L1688.5,839.3 L1689.0,838.4 L1689.5,839.6 L1690.0,836.9 L1690.5,837.2 L1691.0,834.7 L1691.5,838.3 L1692.0,836.7 L1692.5,840.0 L1693.0,840.3 L1693.5,842.0 L1694.0,840.2 L1694.5,839.1 L1695.0,842.6 L1695.5,838.0 L1696.0,834.7 L1696.5,836.5 L1697.0,838.6 L1697.5,840.9 L1698.0,841.9 L1698.5,837.3 L1699.0,842.1 L1699.5,840.5 L1700.0,841.0 L1700.5,837.2 L1701.0,839.0 L1701.5,834.6 L1702.0,839.7 L1702.5,838.6 L1703.0,841.1 L1703.5,842.1 L1704.0,837.4 L1704.5,841.6 L1705.0,842.0 L1705.5,838.8 L1706.0,843.8 L1706.5,837.7 L1707.0,836.2 L1707.5,839.5 L1708.0,843.4 L1708.5,840.7 L1709.0,835.4 L1709.5,838.2 L1710.0,842.3 L1710.5,837.7 L1711.0,839.0 L1711.5,837.0 L1712.0,843.9 L1712.5,843.3 L1713.0,836.4 L1713.5,835.2 L1714.0,840.6 L1714.5,840.3 L1715.0,839.3 L1715.5,839.6 L1716.0,838.6 L1716.5,841.4 L1717.0,841.3 L1717.5,842.3 L1718.0,841.3 L1718.5,837.9 L1719.0,838.2 L1719.5,838.6 L1720.0,839.4 L1720.5,837.6 L1721.0,837.2 L1721.5,838.5 L1722.0,838.0 L1722.5,838.7 L1723.0,842.7 L1723.5,842.1 L1724.0,837.8 L1724.5,839.1 L1725.0,838.2 L1725.5,836.9 L1726.0,840.0 L1726.5,834.2 L1727.0,839.1 L1727.5,837.9 L1728.0,835.6 L1728.5,839.6 L1729.0,840.6 L1729.5,838.9 L1730.0,839.3 L1730.5,836.2 L1731.0,839.2 L1731.5,841.6 L1732.0,835.5 L1732.5,843.1 L1733.0,833.8 L1733.5,840.0 L1734.0,836.4 L1734.5,838.2 L1735.0,837.6 L1735.5,837.6 L1736.0,839.8 L1736.5,836.7 L1737.0,837.8 L1737.5,840.0 L1738.0,836.8 L1738.5,832.0 L1739.0,835.6 L1739.5,835.5 L1740.0,834.6 L1740.5,838.0 L1741.0,836.6 L1741.5,834.4 L1742.0,834.7 L1742.5,832.5 L1743.0,834.5 L1743.5,839.9 L1744.0,831.3 L1744.5,839.6 L1745.0,834.8 L1745.5,834.2 L1746.0,833.1 L1746.5,831.3 L1747.0,835.3 L1747.5,832.8 L1748.0,831.7 L1748.5,832.8 L1749.0,836.3 L1749.5,831.2 L1750.0,831.6 L1750.5,834.7 L1751.0,828.8 L1751.5,832.8 L1752.0,836.1 L1752.5,829.9 L1753.0,825.6 L1753.5,831.3 L1754.0,827.8 L1754.5,831.2 L1755.0,828.8 L1755.5,827.7 L1756.0,824.5 L1756.5,828.8 L1757.0,826.5 L1757.5,826.0 L1758.0,825.4 L1758.5,824.8 L1759.0,823.7 L1759.5,822.4 L1760.0,818.2 L1760.5,820.0 L1761.0,819.9 L1761.5,822.7 L1762.0,822.0 L1762.5,816.7 L1763.0,817.2 L1763.5,816.3 L1764.0,817.9 L1764.5,817.2 L1765.0,817.4 L1765.5,814.0 L1766.0,814.2 L1766.5,819.3 L1767.0,811.4 L1767.5,817.0 L1768.0,815.1 L1768.5,815.1 L1769.0,812.9 L1769.5,812.3 L1770.0,813.9 L1770.5,811.6 L1771.0,811.7 L1771.5,811.0 L1772.0,812.6 L1772.5,811.4 L1773.0,811.0 L1773.5,813.2 L1774.0,812.4 L1774.5,809.1 L1775.0,812.2 L1775.5,815.8 L1776.0,813.8 L1776.5,816.8 L1777.0,809.6 L1777.5,814.8 L1778.0,809.8 L1778.5,816.2 L1779.0,813.6 L1779.5,815.2 L1780.0,817.1 L1780.5,814.6 L1781.0,815.3 L1781.5,816.5 L1782.0,819.6 L1782.5,821.5 L1783.0,817.0 L1783.5,817.1 L1784.0,819.8 L1784.5,817.3 L1785.0,817.3 L1785.5,822.1 L1786.0,820.1 L1786.5,825.3 L1787.0,819.9 L1787.5,825.9 L1788.0,825.6 L1788.5,822.3 L1789.0,823.9 L1789.5,818.0 L1790.0,824.6 L1790.5,824.4 L1791.0,822.6 L1791.5,827.9 L1792.0,819.4 L1792.5,826.8 L1793.0,825.5 L1793.5,826.0 L1794.0,822.2 L1794.5,827.3 L1795.0,824.8 L1795.5,826.5 L1796.0,828.4 L1796.5,824.4 L1797.0,820.9 L1797.5,827.4 L1798.0,827.3 L1798.5,826.3 L1799.0,825.5 L1799.5,825.0 L1800.0,827.5 L1800.5,828.7 L1801.0,826.4 L1801.5,830.6 L1802.0,827.2 L1802.5,829.4 L1803.0,827.6 L1803.5,828.2 L1804.0,830.6 L1804.5,830.1 L1805.0,831.5 L1805.5,831.5 L1806.0,829.1 L1806.5,830.9 L1807.0,830.6 L1807.5,830.7 L1808.0,831.6 L1808.5,830.2 L1809.0,830.5 L1809.5,831.5 L1810.0,828.3 L1810.5,832.7 L1811.0,833.2 L1811.5,826.4 L1812.0,833.0 L1812.5,829.9 L1813.0,829.8 L1813.5,833.4 L1814.0,830.0 L1814.5,832.8 L1815.0,831.0 L1815.5,829.8 L1816.0,837.0 L1816.5,831.3 L1817.0,830.4 L1817.5,832.6 L1818.0,837.8 L1818.5,830.0 L1819.0,836.6 L1819.5,832.5 L1820.0,834.8 L1820.5,834.4 L1821.0,837.1 L1821.5,833.1 L1822.0,839.4 L1822.5,834.3 L1823.0,832.1 L1823.5,836.0 L1824.0,837.5 L1824.5,837.4 L1825.0,838.2 L1825.5,835.6 L1826.0,839.6 L1826.5,838.4 L1827.0,834.3 L1827.5,835.7 L1828.0,835.0 L1828.5,836.2 L1829.0,837.5 L1829.5,836.0 L1830.0,836.8 L1830.5,839.0 L1831.0,839.3 L1831.5,840.8 L1832.0,831.5 L1832.5,836.1 L1833.0,836.0 L1833.5,836.5 L1834.0,835.7 L1834.5,835.7 L1835.0,839.6 L1835.5,841.0 L1836.0,835.5 L1836.5,839.8 L1837.0,833.1 L1837.5,839.5 L1838.0,842.2 L1838.5,840.5 L1839.0,836.4 L1839.5,836.4 L1840.0,837.7 L1840.5,841.4 L1841.0,839.3 L1841.5,839.0 L1842.0,839.7 L1842.5,836.0 L1843.0,833.5 L1843.5,837.2 L1844.0,837.4 L1844.5,839.3 L1845.0,838.8 L1845.5,844.2 L1846.0,837.7 L1846.5,837.4 L1847.0,842.0 L1847.5,838.9 L1848.0,843.3 L1848.5,843.3 L1849.0,840.8 L1849.5,840.6 L1850.0,835.2 L1850.5,842.0 L1851.0,839.4 L1851.5,840.4 L1852.0,841.3 L1852.5,839.3 L1853.0,836.7 L1853.5,837.8 L1854.0,836.7 L1854.5,841.2 L1855.0,839.0 L1855.5,839.2 L1856.0,837.9 L1856.5,838.7 L1857.0,836.3 L1857.5,839.3 L1858.0,836.5 L1858.5,839.7 L1859.0,838.4 L1859.5,840.1 L1860.0,841.6 L1860.5,840.1 L1861.0,839.4 L1861.5,841.1 L1862.0,837.8 L1862.5,839.0 L1863.0,840.1 L1863.5,835.8 L1864.0,837.5 L1864.5,844.0 L1865.0,839.7 L1865.5,839.6 L1866.0,840.5 L1866.5,838.7 L1867.0,838.2 L1867.5,838.5 L1868.0,841.6 L1868.5,843.0 L1869.0,837.9 L1869.5,838.9 L1870.0,840.2 L1870.5,836.5 L1871.0,839.4 L1871.5,841.7 L1872.0,841.9 L1872.5,844.6 L1873.0,838.5 L1873.5,839.3 L1874.0,841.3 L1874.5,840.0 L1875.0,842.0 L1875.5,839.3 L1876.0,835.3 L1876.5,837.4 L1877.0,835.3 L1877.5,839.6 L1878.0,842.2 L1878.5,840.6 L1879.0,838.1 L1879.5,834.5 L1880.0,839.2 L1880.5,837.6 L1881.0,837.7 L1881.5,839.2 L1882.0,844.6 L1882.5,838.1 L1883.0,837.4 L1883.5,835.7 L1884.0,841.3 L1884.5,836.9 L1885.0,834.6 L1885.5,837.9 L1886.0,839.7 L1886.5,836.1 L1887.0,838.9 L1887.5,835.1 L1888.0,841.9 L1888.5,836.2 L1889.0,838.8 L1889.5,836.7 L1890.0,837.7 L1890.5,839.7 L1891.0,837.6 L1891.5,838.7 L1892.0,841.8 L1892.5,844.5 L1893.0,840.9 L1893.5,839.1 L1894.0,839.5 L1894.5,836.0 L1895.0,836.4 L1895.5,836.4 L1896.0,840.0 L1896.5,838.7 L1897.0,838.1 L1897.5,844.5 L1898.0,838.9 L1898.5,840.9 L1899.0,840.0 L1899.5,839.0 L1900.0,840.1 L1900.5,835.4 L1901.0,839.2 L1901.5,841.4 L1902.0,842.9 L1902.5,838.4 L1903.0,842.3 L1903.5,840.9 L1904.0,838.1 L1904.5,835.2 L1905.0,839.7 L1905.5,837.4 L1906.0,841.7 L1906.5,839.9 L1907.0,835.5 L1907.5,837.9 L1908.0,839.8 L1908.5,842.0 L1909.0,833.0 L1909.5,840.1 L1910.0,835.8 L1910.5,838.3 L1911.0,836.8 L1911.5,841.1 L1912.0,839.7 L1912.5,843.1 L1913.0,841.9 L1913.5,837.2 L1914.0,833.6 L1914.5,838.3 L1915.0,837.6" fill="none" shape-rendering="crispEdges" stroke="#00ff00" stroke-width="5.8" stroke-linejoin="round"/>
<path d="M148.50,1123.39 L252.00,1123.28 L273.00,1123.08 L282.00,1122.79 L287.00,1122.42 L290.50,1121.92 L292.50,1121.44 L294.00,1120.92 L295.50,1120.16 L296.50,1119.43 L297.00,1118.95 L297.50,1118.36 L298.00,1117.58 L298.50,1116.49 L299.00,1114.91 L299.50,1112.53 L300.00,1108.90 L300.50,1103.46 L301.00,1095.50 L301.50,1084.35 L302.00,1069.49 L302.50,1050.80 L303.00,1028.78 L303.50,1004.74 L304.00,980.91 L304.50,960.42 L305.00,946.96 L305.50,943.63 L306.00,951.27 L306.50,967.98 L307.00,990.23 L307.50,1014.48 L308.00,1037.92 L308.50,1058.72 L309.00,1075.90 L309.50,1089.23 L310.00,1099.03 L310.50,1105.90 L311.00,1110.54 L311.50,1113.60 L312.00,1115.62 L312.50,1116.97 L313.00,1117.92 L313.50,1118.62 L314.00,1119.16 L315.00,1119.96 L316.50,1120.79 L318.00,1121.35 L320.50,1121.96 L324.00,1122.44 L329.50,1122.82 L340.00,1123.12 L366.50,1123.31 L542.50,1123.39 L630.50,1123.31 L640.00,1123.14 L642.00,1122.99 L643.00,1122.78 L643.50,1122.59 L644.00,1122.30 L644.50,1121.89 L645.00,1121.33 L645.50,1120.58 L646.00,1119.65 L647.00,1117.41 L647.50,1116.29 L648.00,1115.36 L648.50,1114.80 L649.00,1114.74 L649.50,1115.20 L650.00,1116.06 L651.50,1119.40 L652.00,1120.35 L652.50,1121.13 L653.00,1121.72 L653.50,1122.15 L654.00,1122.45 L655.00,1122.77 L657.00,1122.95 L661.50,1122.90 L664.50,1122.64 L666.00,1122.36 L667.00,1121.96 L667.50,1121.61 L668.00,1121.07 L668.50,1120.25 L669.00,1119.05 L669.50,1117.33 L670.00,1114.98 L670.50,1111.97 L671.00,1108.31 L671.50,1104.19 L672.00,1099.93 L672.50,1096.02 L673.00,1093.08 L673.50,1091.74 L674.00,1092.33 L674.50,1094.69 L675.00,1098.29 L676.00,1106.70 L676.50,1110.57 L677.00,1113.85 L677.50,1116.46 L678.00,1118.42 L678.50,1119.81 L679.00,1120.77 L679.50,1121.40 L680.00,1121.82 L680.50,1122.09 L681.50,1122.41 L683.50,1122.70 L687.00,1122.86 L689.50,1122.77 L690.50,1122.58 L691.00,1122.39 L691.50,1122.11 L692.00,1121.68 L692.50,1121.08 L693.00,1120.26 L693.50,1119.21 L694.00,1117.96 L695.00,1115.16 L695.50,1113.90 L696.00,1113.02 L696.50,1112.70 L697.00,1113.03 L697.50,1113.92 L698.00,1115.19 L699.00,1118.01 L699.50,1119.27 L700.00,1120.33 L700.50,1121.16 L701.00,1121.78 L701.50,1122.22 L702.00,1122.52 L703.00,1122.85 L705.00,1123.08 L712.00,1123.27 L751.00,1123.38 L941.00,1123.33 L957.50,1123.17 L963.00,1122.92 L966.00,1122.58 L967.50,1122.21 L968.00,1122.00 L968.50,1121.69 L969.00,1121.24 L969.50,1120.54 L970.00,1119.48 L970.50,1117.94 L971.00,1115.74 L971.50,1112.79 L972.00,1109.04 L972.50,1104.55 L973.50,1094.52 L974.00,1090.03 L974.50,1086.86 L975.00,1085.70 L975.50,1086.86 L976.00,1090.03 L976.50,1094.52 L977.50,1104.55 L978.00,1109.04 L978.50,1112.79 L979.00,1115.74 L979.50,1117.93 L980.00,1119.48 L980.50,1120.54 L981.00,1121.24 L981.50,1121.69 L982.00,1122.00 L983.00,1122.37 L985.00,1122.73 L989.00,1123.05 L998.00,1123.26 L1036.50,1123.37 L1122.00,1123.31 L1134.00,1123.14 L1138.50,1122.88 L1140.50,1122.58 L1141.50,1122.22 L1142.00,1121.90 L1142.50,1121.42 L1143.00,1120.71 L1143.50,1119.68 L1144.00,1118.25 L1144.50,1116.37 L1145.00,1114.02 L1145.50,1111.28 L1146.50,1105.39 L1147.00,1102.87 L1147.50,1101.18 L1148.00,1100.62 L1148.50,1101.24 L1149.00,1102.74 L1149.50,1104.75 L1150.50,1108.99 L1151.00,1110.92 L1151.50,1112.70 L1152.00,1114.35 L1152.50,1115.89 L1153.00,1117.28 L1153.50,1118.51 L1154.00,1119.55 L1154.50,1120.41 L1155.00,1121.09 L1155.50,1121.61 L1156.00,1122.00 L1156.50,1122.28 L1157.50,1122.61 L1159.50,1122.88 L1164.50,1123.06 L1170.50,1122.99 L1174.00,1122.74 L1175.50,1122.44 L1176.00,1122.25 L1176.50,1121.97 L1177.00,1121.55 L1177.50,1120.91 L1178.00,1119.98 L1178.50,1118.68 L1179.00,1116.94 L1179.50,1114.75 L1180.00,1112.16 L1181.00,1106.43 L1181.50,1103.87 L1182.00,1102.03 L1182.50,1101.23 L1183.00,1101.58 L1183.50,1102.85 L1184.00,1104.66 L1185.00,1108.60 L1185.50,1110.40 L1186.00,1112.06 L1187.00,1115.14 L1187.50,1116.56 L1188.00,1117.86 L1188.50,1119.00 L1189.00,1119.97 L1189.50,1120.76 L1190.00,1121.38 L1190.50,1121.85 L1191.00,1122.19 L1192.00,1122.60 L1193.50,1122.88 L1197.50,1123.13 L1209.00,1123.31 L1298.00,1123.39 L1377.50,1123.32 L1383.00,1123.19 L1384.50,1123.02 L1386.00,1122.63 L1388.00,1121.73 L1389.00,1121.29 L1389.50,1121.15 L1390.00,1121.10 L1390.50,1121.14 L1391.50,1121.45 L1393.50,1122.33 L1395.00,1122.75 L1396.50,1122.90 L1398.50,1122.84 L1400.00,1122.60 L1400.50,1122.45 L1401.00,1122.21 L1401.50,1121.84 L1402.00,1121.30 L1402.50,1120.51 L1403.00,1119.42 L1403.50,1117.97 L1404.00,1116.18 L1404.50,1114.09 L1405.50,1109.58 L1406.00,1107.66 L1406.50,1106.37 L1407.00,1105.93 L1407.50,1106.36 L1408.00,1107.43 L1409.00,1110.27 L1409.50,1111.59 L1410.00,1112.73 L1411.50,1115.71 L1413.00,1118.88 L1413.50,1119.82 L1414.00,1120.62 L1414.50,1121.28 L1415.00,1121.79 L1415.50,1122.17 L1416.00,1122.45 L1417.00,1122.78 L1419.00,1123.03 L1425.00,1123.25 L1449.50,1123.37 L1567.50,1123.34 L1577.00,1123.18 L1579.00,1122.99 L1580.00,1122.75 L1581.00,1122.28 L1581.50,1121.93 L1582.00,1121.50 L1583.00,1120.38 L1584.50,1118.40 L1585.00,1117.85 L1585.50,1117.46 L1586.00,1117.30 L1586.50,1117.37 L1587.00,1117.66 L1588.00,1118.62 L1589.00,1119.64 L1589.50,1120.06 L1590.50,1120.67 L1593.50,1121.78 L1595.50,1122.59 L1597.00,1122.97 L1599.00,1123.19 L1607.00,1123.31 L1620.00,1123.22 L1623.00,1123.08 L1624.50,1122.83 L1625.50,1122.46 L1626.00,1122.17 L1626.50,1121.79 L1627.00,1121.31 L1627.50,1120.74 L1628.50,1119.36 L1629.50,1117.92 L1630.00,1117.31 L1630.50,1116.89 L1631.00,1116.70 L1631.50,1116.77 L1632.00,1117.07 L1632.50,1117.54 L1634.00,1119.14 L1634.50,1119.57 L1635.00,1119.91 L1636.00,1120.36 L1637.50,1120.90 L1640.50,1122.40 L1642.00,1122.89 L1644.00,1123.16 L1650.00,1123.31 L1710.50,1123.38 L1753.00,1123.29 L1761.00,1123.10 L1763.50,1122.88 L1764.50,1122.66 L1765.50,1122.22 L1766.00,1121.87 L1766.50,1121.40 L1767.00,1120.77 L1767.50,1119.99 L1768.00,1119.04 L1768.50,1117.93 L1770.00,1114.16 L1770.50,1113.05 L1771.00,1112.21 L1771.50,1111.74 L1772.00,1111.70 L1772.50,1112.06 L1773.00,1112.70 L1774.50,1115.12 L1775.00,1115.80 L1775.50,1116.36 L1777.50,1118.18 L1780.00,1120.93 L1781.00,1121.79 L1782.00,1122.38 L1783.00,1122.74 L1784.50,1123.00 L1788.50,1123.18 L1794.00,1123.17 L1796.00,1122.98 L1798.00,1122.54 L1800.50,1121.82 L1801.50,1121.70 L1802.50,1121.79 L1804.50,1122.35 L1806.50,1122.90 L1808.50,1123.19 L1813.00,1123.33 L1915.00,1123.40" fill="none" shape-rendering="crispEdges" stroke="#000" stroke-width="5.4" stroke-linejoin="round"/>
<path d="M148.50,1396.50 L546.00,1396.43 L568.50,1396.28 L576.00,1396.04 L580.00,1395.71 L582.50,1395.26 L583.50,1394.94 L584.50,1394.41 L585.00,1393.98 L585.50,1393.33 L586.00,1392.35 L586.50,1390.86 L587.00,1388.65 L587.50,1385.51 L588.00,1381.23 L588.50,1375.71 L589.00,1369.04 L589.50,1361.51 L590.00,1353.73 L590.50,1346.59 L591.00,1341.23 L591.50,1338.77 L592.00,1339.84 L592.50,1344.16 L593.00,1350.74 L594.00,1366.10 L594.50,1373.17 L595.00,1379.17 L595.50,1383.94 L596.00,1387.52 L596.50,1390.07 L597.00,1391.82 L597.50,1392.98 L598.00,1393.74 L598.50,1394.25 L599.00,1394.60 L600.00,1395.04 L602.00,1395.52 L605.00,1395.88 L611.00,1396.18 L625.50,1396.35 L659.50,1396.32 L672.50,1396.12 L678.00,1395.82 L681.00,1395.42 L682.50,1395.03 L683.50,1394.55 L684.00,1394.14 L684.50,1393.54 L685.00,1392.63 L685.50,1391.24 L686.00,1389.22 L686.50,1386.34 L687.00,1382.48 L687.50,1377.56 L688.00,1371.68 L688.50,1365.16 L689.00,1358.55 L689.50,1352.67 L690.00,1348.52 L690.50,1347.00 L691.00,1348.51 L691.50,1352.66 L692.00,1358.54 L692.50,1365.14 L693.00,1371.65 L693.50,1377.53 L694.00,1382.44 L694.50,1386.30 L695.00,1389.16 L695.50,1391.19 L696.00,1392.56 L696.50,1393.47 L697.00,1394.07 L697.50,1394.47 L698.50,1394.94 L700.00,1395.31 L703.00,1395.66 L708.00,1395.85 L715.50,1395.79 L721.50,1395.46 L725.00,1395.06 L727.50,1394.57 L729.50,1393.96 L731.00,1393.27 L732.00,1392.63 L733.00,1391.75 L733.50,1391.16 L734.00,1390.39 L734.50,1389.36 L735.00,1387.89 L735.50,1385.72 L736.00,1382.47 L736.50,1377.64 L737.00,1370.60 L737.50,1360.67 L738.00,1347.27 L738.50,1330.06 L739.00,1309.20 L739.50,1285.46 L740.00,1260.43 L740.50,1236.57 L741.00,1217.08 L741.50,1205.50 L742.00,1204.39 L742.50,1214.03 L743.00,1232.21 L743.50,1255.48 L744.00,1280.50 L744.50,1304.65 L745.00,1326.18 L745.50,1344.14 L746.00,1358.29 L746.50,1368.88 L747.00,1376.45 L747.50,1381.67 L748.00,1385.19 L748.50,1387.54 L749.00,1389.13 L749.50,1390.23 L750.00,1391.04 L750.50,1391.67 L751.00,1392.17 L752.00,1392.94 L753.50,1393.75 L755.50,1394.46 L758.00,1395.02 L761.50,1395.49 L767.50,1395.89 L778.50,1396.19 L805.50,1396.39 L960.00,1396.49 L1090.50,1396.42 L1104.00,1396.25 L1109.00,1395.99 L1111.50,1395.66 L1112.50,1395.40 L1113.00,1395.20 L1113.50,1394.90 L1114.00,1394.45 L1114.50,1393.77 L1115.00,1392.75 L1115.50,1391.26 L1116.00,1389.16 L1116.50,1386.37 L1117.00,1382.86 L1117.50,1378.73 L1118.50,1369.74 L1119.00,1365.90 L1119.50,1363.37 L1120.00,1362.74 L1120.50,1364.18 L1121.00,1367.32 L1121.50,1371.49 L1122.00,1376.04 L1122.50,1380.45 L1123.00,1384.35 L1123.50,1387.58 L1124.00,1390.08 L1124.50,1391.92 L1125.00,1393.21 L1125.50,1394.08 L1126.00,1394.66 L1126.50,1395.03 L1127.50,1395.47 L1129.00,1395.78 L1132.50,1396.11 L1140.00,1396.34 L1168.00,1396.47 L1378.50,1396.44 L1395.50,1396.29 L1401.50,1396.04 L1404.50,1395.69 L1405.50,1395.45 L1406.00,1395.26 L1406.50,1394.98 L1407.00,1394.56 L1407.50,1393.94 L1408.00,1393.01 L1408.50,1391.67 L1409.00,1389.81 L1409.50,1387.35 L1410.00,1384.30 L1410.50,1380.74 L1411.50,1373.11 L1412.00,1369.86 L1412.50,1367.70 L1413.00,1367.01 L1413.50,1367.82 L1414.00,1369.74 L1414.50,1372.22 L1415.00,1374.81 L1415.50,1377.18 L1416.00,1379.23 L1416.50,1381.03 L1418.00,1386.12 L1418.50,1387.83 L1419.00,1389.45 L1419.50,1390.91 L1420.00,1392.16 L1420.50,1393.18 L1421.00,1393.98 L1421.50,1394.57 L1422.00,1395.00 L1422.50,1395.30 L1423.50,1395.66 L1425.50,1395.97 L1430.50,1396.24 L1444.00,1396.42 L1561.00,1396.48 L1616.00,1396.39 L1626.00,1396.19 L1630.00,1395.93 L1632.00,1395.64 L1633.00,1395.33 L1633.50,1395.08 L1634.00,1394.69 L1634.50,1394.12 L1635.00,1393.26 L1635.50,1392.03 L1636.00,1390.32 L1636.50,1388.06 L1637.00,1385.26 L1637.50,1382.00 L1638.50,1375.02 L1639.00,1372.07 L1639.50,1370.13 L1640.00,1369.54 L1640.50,1370.30 L1641.00,1372.04 L1642.00,1376.43 L1642.50,1378.31 L1643.00,1379.75 L1643.50,1380.82 L1644.50,1382.70 L1645.00,1383.93 L1645.50,1385.42 L1646.50,1388.76 L1647.00,1390.33 L1647.50,1391.71 L1648.00,1392.86 L1648.50,1393.76 L1649.00,1394.43 L1649.50,1394.92 L1650.00,1395.26 L1651.00,1395.65 L1652.50,1395.92 L1656.50,1396.19 L1667.00,1396.39 L1721.00,1396.46 L1738.00,1396.38 L1740.00,1396.25 L1741.50,1395.95 L1743.00,1395.39 L1745.00,1394.48 L1745.50,1394.35 L1746.00,1394.30 L1746.50,1394.35 L1747.50,1394.67 L1749.50,1395.60 L1751.00,1396.07 L1753.00,1396.33 L1760.50,1396.42 L1784.50,1396.33 L1792.50,1396.10 L1796.00,1395.80 L1797.50,1395.52 L1798.50,1395.14 L1799.00,1394.82 L1799.50,1394.32 L1800.00,1393.58 L1800.50,1392.50 L1801.00,1390.98 L1801.50,1388.93 L1802.00,1386.32 L1802.50,1383.20 L1803.50,1376.21 L1804.00,1373.03 L1804.50,1370.71 L1805.00,1369.70 L1805.50,1370.16 L1806.00,1371.85 L1806.50,1374.25 L1807.00,1376.79 L1807.50,1379.03 L1808.00,1380.70 L1808.50,1381.72 L1809.00,1382.17 L1810.00,1382.34 L1810.50,1382.70 L1811.00,1383.54 L1811.50,1384.84 L1812.00,1386.45 L1813.00,1389.82 L1813.50,1391.29 L1814.00,1392.53 L1814.50,1393.50 L1815.00,1394.22 L1815.50,1394.74 L1816.00,1395.10 L1817.00,1395.51 L1818.50,1395.76 L1822.00,1395.93 L1826.00,1395.86 L1828.00,1395.67 L1829.00,1395.47 L1829.50,1395.29 L1830.00,1395.03 L1830.50,1394.64 L1831.00,1394.05 L1831.50,1393.17 L1832.00,1391.94 L1832.50,1390.28 L1833.00,1388.16 L1833.50,1385.64 L1834.50,1379.96 L1835.00,1377.39 L1835.50,1375.51 L1836.00,1374.70 L1836.50,1375.09 L1837.00,1376.49 L1837.50,1378.46 L1838.00,1380.56 L1838.50,1382.43 L1839.00,1383.85 L1839.50,1384.74 L1840.00,1385.16 L1841.00,1385.39 L1841.50,1385.70 L1842.00,1386.37 L1842.50,1387.40 L1843.00,1388.66 L1844.00,1391.30 L1844.50,1392.46 L1845.00,1393.42 L1845.50,1394.18 L1846.00,1394.76 L1846.50,1395.16 L1847.00,1395.45 L1848.00,1395.78 L1850.00,1396.04 L1856.00,1396.29 L1876.00,1396.44 L1915.00,1396.48" fill="none" shape-rendering="crispEdges" stroke="#000" stroke-width="5.4" stroke-linejoin="round"/>
<g shape-rendering="crispEdges">
<rect x="153.5" y="65" width="94.5" height="5.5" fill="#ff0000"/>
<rect x="154" y="342" width="94" height="5" fill="#0000ff"/>
<rect x="145" y="607" width="95" height="5.5" fill="#00ff00"/>
<rect x="150" y="881" width="94.3" height="5.2" fill="#000"/>
<rect x="150" y="1156" width="104.5" height="5.4" fill="#000"/>
</g>
<text transform="translate(260.4,83.0) scale(1.0,1.04)" font-size="43.8" class="b" >Ti/TiO</text>
<text transform="translate(382.4,98.9) scale(0.93,1.03)" font-size="44" class="b" >2</text>
<text transform="translate(405.5,83.0) scale(1.0,1.04)" font-size="43.8" class="b" >(Ms)/rGO</text>
<text transform="translate(260.4,357.6) scale(1.0,1.04)" font-size="47.3" class="b" >Ti support</text>
<text transform="translate(251.5,623.3) scale(1.0,1.04)" font-size="47.4" class="b" >TiO</text>
<text transform="translate(329.8,639.0) scale(0.95,1.03)" font-size="46.5" class="b" >2</text>
<text transform="translate(355.9,623.3) scale(1.0,1.04)" font-size="47.4" class="b" >(Ms)</text>
<text transform="translate(257.8,897.6) scale(1.0,1.04)" font-size="47.3" class="b" >TiO2</text>
<text transform="translate(269.9,1176.0) scale(1.0,1.04)" font-size="44.5" class="b" >Ti</text>
<text transform="translate(1652.6,907.8) scale(1.0,1.02)" font-size="43.4" class="b" >01-084-1286</text>
<text transform="translate(1660.3,1190.2) scale(1.0,1.02)" font-size="43.3" class="b" >00-005-0682</text>
<text transform="translate(268.7,938.7) scale(1,1.02)" font-size="42.4" class="r">101</text>
<text transform="translate(574.4,1086.3) scale(1,1.02)" font-size="42.4" class="r">103</text>
<text transform="translate(642.4,1040.4) scale(1,1.02)" font-size="42.4" class="r">004</text>
<text transform="translate(689.4,1098.7) scale(1,1.02)" font-size="42.4" class="r">112</text>
<text transform="translate(942.7,1064.6) scale(1,1.02)" font-size="42.4" class="r">200</text>
<text transform="translate(1090.4,1080.3) scale(1,1.02)" font-size="42.4" class="r">105</text>
<text transform="translate(1176.9,1079.2) scale(1,1.02)" font-size="42.4" class="r">211</text>
<text transform="translate(1369.1,1081.0) scale(1,1.02)" font-size="42.4" class="r">204</text>
<text transform="translate(1518.9,1078.5) scale(1,1.02)" font-size="42.4" class="r">116</text>
<text transform="translate(1607.7,1087.3) scale(1,1.02)" font-size="42.4" class="r">220</text>
<text transform="translate(1727.9,1090.9) scale(1,1.02)" font-size="42.4" class="r">215</text>
<text transform="translate(555.1,1316.7) scale(1,1.02)" font-size="42.4" class="r">100</text>
<text transform="translate(654.2,1327.3) scale(1,1.02)" font-size="42.4" class="r">002</text>
<text transform="translate(706.0,1190.6) scale(1,1.02)" font-size="42.4" class="r">101</text>
<text transform="translate(1085.2,1337.2) scale(1,1.02)" font-size="42.4" class="r">102</text>
<text transform="translate(1371.4,1341.4) scale(1,1.02)" font-size="42.4" class="r">110</text>
<text transform="translate(1601.9,1329.0) scale(1,1.02)" font-size="42.4" class="r">103</text>
<text transform="translate(1710.2,1376.0) scale(1,1.02)" font-size="42.4" class="r">200</text>
<text transform="translate(1759.9,1329.0) scale(1,1.02)" font-size="42.4" class="r">112</text>
<text transform="translate(1829.7,1364.4) scale(1,1.02)" font-size="42.4" class="r">201</text>
<text transform="translate(123.1,1467.2) scale(1.0,1.02)" font-size="46.5" class="b" >20</text>
<text transform="translate(417.7,1467.2) scale(1.0,1.02)" font-size="46.5" class="b" >30</text>
<text transform="translate(712.4,1467.2) scale(1.0,1.02)" font-size="46.5" class="b" >40</text>
<text transform="translate(1006.4,1467.2) scale(1.0,1.02)" font-size="46.5" class="b" >50</text>
<text transform="translate(1300.7,1467.2) scale(1.0,1.02)" font-size="46.5" class="b" >60</text>
<text transform="translate(1594.9,1467.2) scale(1.0,1.02)" font-size="46.5" class="b" >70</text>
<text transform="translate(1889.6,1467.2) scale(1.0,1.02)" font-size="46.5" class="b" >80</text>
<text transform="translate(739.8,1536.6) scale(1.0,1.04)" font-size="66" class="b" >Position 2</text>
<text transform="translate(1069.3,1537.2) scale(1.16,1.0)" font-size="63.4" class="s" >θ</text>
<text transform="translate(1122.8,1536.6) scale(1.0,1.04)" font-size="66" class="b" >(degree)</text>
<text transform="translate(90.3,924.5) rotate(-90) scale(1,1.04)" font-size="69.6" class="b">Intensity (a.u.)</text>
<text y="1661.5" font-size="86.7" class="s"><tspan x="925.8">(</tspan><tspan x="953.4" font-weight="bold">a</tspan><tspan x="994.4">)</tspan></text>
</g>
<g id="figB" filter="url(#blur)">
<path d="M135,1760.2 H1914.6 V3194" fill="none" stroke="#c4c4c4" stroke-width="2"/>
<rect x="142.45" y="1767.95" width="1764.5" height="1419.8" fill="none" stroke="#000" stroke-width="13.5"/>
<rect x="252.4" y="3187" width="13.4" height="30" fill="#000"/>
<rect x="487.6" y="3187" width="13.4" height="30" fill="#000"/>
<rect x="722.8" y="3187" width="13.4" height="30" fill="#000"/>
<rect x="958.0" y="3187" width="13.4" height="30" fill="#000"/>
<rect x="1193.2" y="3187" width="13.4" height="30" fill="#000"/>
<rect x="1428.4" y="3187" width="13.4" height="30" fill="#000"/>
<rect x="1663.6" y="3187" width="13.4" height="30" fill="#000"/>
<rect x="1898.8" y="3187" width="13.4" height="30" fill="#000"/>
<path d="M143,2997 143.25,3016 143.5,3009 143.75,2997 144,3011 144.25,2994 144.5,3006 144.75,3018 145,2999 145.25,2987 145.5,3007 145.75,3000 146,3029 146.25,3003 146.5,2996 146.75,2988 147,2974 147.25,2993 147.5,3004 147.75,2991 148,3010 148.25,3015 148.5,3012 148.75,2994 149,2992 149.25,3014 149.5,2994 149.75,2994 150,2995 150.25,3020 150.5,2977 150.75,3017 151,3014 151.25,3023 151.5,3008 151.75,3032 152,3012 152.25,2989 152.5,2982 152.75,3001 153,3007 153.25,3005 153.5,3014 153.75,3016 154,2967 154.25,3000 154.5,3000 154.75,3008 155,2989 155.25,3015 155.5,3000 155.75,3017 156,2991 156.25,2997 156.5,2981 156.75,2986 157,2994 157.25,2991 157.5,3003 157.75,3004 158,2998 158.25,2998 158.5,2983 158.75,2992 159,2994 159.25,2987 159.5,3008 159.75,3005 160,2986 160.25,2990 160.5,2995 160.75,2997 161,3016 161.25,2993 161.5,2987 161.75,3000 162,3004 162.25,3012 162.5,2982 162.75,2991 163,2997 163.25,2997 163.5,2973 163.75,3000 164,3014 164.25,3002 164.5,2992 164.75,2979 165,2980 165.25,2993 165.5,2983 165.75,2983 166,2970 166.25,2999 166.5,3004 166.75,2991 167,3000 167.25,2994 167.5,3014 167.75,2990 168,2991 168.25,2975 168.5,2991 168.75,2986 169,2984 169.25,3012 169.5,3001 169.75,3005 170,2995 170.25,2978 170.5,2991 170.75,3005 171,2979 171.25,2988 171.5,2990 171.75,3004 172,2991 172.25,3000 172.5,2999 172.75,2986 173,2993 173.25,2973 173.5,2983 173.75,2997 174,2995 174.25,2995 174.5,2990 174.75,3001 175,2999 175.25,2991 175.5,2968 175.75,3031 176,3022 176.25,2978 176.5,3011 176.75,2986 177,3006 177.25,2978 177.5,2989 177.75,2983 178,3000 178.25,3002 178.5,2991 178.75,2958 179,2990 179.25,2974 179.5,3011 179.75,2982 180,2959 180.25,2987 180.5,2970 180.75,2995 181,2971 181.25,2994 181.5,2965 181.75,3004 182,2987 182.25,2998 182.5,2984 182.75,3016 183,2984 183.25,2996 183.5,2986 183.75,3004 184,2967 184.25,2965 184.5,2994 184.75,2976 185,2972 185.25,2993 185.5,2986 185.75,2951 186,2987 186.25,2978 186.5,2970 186.75,2996 187,2993 187.25,3004 187.5,2977 187.75,2972 188,3021 188.25,2997 188.5,2994 188.75,2972 189,2978 189.25,2995 189.5,2942 189.75,2965 190,2988 190.25,2957 190.5,2993 190.75,2980 191,2959 191.25,2982 191.5,2983 191.75,2981 192,2991 192.25,2960 192.5,2974 192.75,2989 193,2985 193.25,2985 193.5,3022 193.75,2976 194,2973 194.25,2990 194.5,2978 194.75,2994 195,2979 195.25,3006 195.5,2972 195.75,2978 196,2994 196.25,2982 196.5,2994 196.75,2992 197,2994 197.25,2964 197.5,2994 197.75,2982 198,2986 198.25,2969 198.5,2989 198.75,2993 199,2987 199.25,2989 199.5,2984 199.75,2979 200,2988 200.25,2979 200.5,2980 200.75,2988 201,2995 201.25,3006 201.5,2997 201.75,2982 202,2970 202.25,2986 202.5,2967 202.75,2967 203,2954 203.25,2998 203.5,2997 203.75,2965 204,2982 204.25,2986 204.5,3002 204.75,3001 205,2968 205.25,2985 205.5,2958 205.75,2979 206,2981 206.25,2976 206.5,2964 206.75,2975 207,3011 207.25,2971 207.5,2980 207.75,2994 208,2992 208.25,2975 208.5,3001 208.75,3000 209,2983 209.25,2985 209.5,2979 209.75,2988 210,2985 210.25,2997 210.5,2956 210.75,2994 211,2979 211.25,3001 211.5,2997 211.75,2978 212,2980 212.25,2974 212.5,2966 212.75,2977 213,2991 213.25,2977 213.5,2961 213.75,2980 214,2965 214.25,2980 214.5,2989 214.75,2993 215,2996 215.25,2968 215.5,2943 215.75,2979 216,2976 216.25,2990 216.5,2989 216.75,2975 217,2980 217.25,2991 217.5,2969 217.75,2948 218,2984 218.25,2981 218.5,2971 218.75,2997 219,2977 219.25,2968 219.5,2982 219.75,3004 220,2963 220.25,2991 220.5,2960 220.75,2989 221,2972 221.25,2973 221.5,2988 221.75,3014 222,2953 222.25,2975 222.5,2967 222.75,2995 223,2979 223.25,2966 223.5,2990 223.75,2988 224,2977 224.25,2990 224.5,2983 224.75,2992 225,2963 225.25,2987 225.5,2991 225.75,2966 226,3025 226.25,3000 226.5,2982 226.75,2970 227,2975 227.25,2978 227.5,2985 227.75,2959 228,2962 228.25,2997 228.5,2959 228.75,3007 229,2976 229.25,2958 229.5,2966 229.75,3002 230,2981 230.25,2963 230.5,2996 230.75,2985 231,2969 231.25,2962 231.5,2956 231.75,2979 232,2985 232.25,3000 232.5,3000 232.75,2993 233,2957 233.25,2970 233.5,2986 233.75,2975 234,2980 234.25,2972 234.5,2978 234.75,2993 235,2986 235.25,2958 235.5,2972 235.75,2962 236,2955 236.25,2992 236.5,2978 236.75,3013 237,2988 237.25,2986 237.5,2971 237.75,2968 238,2989 238.25,2971 238.5,3001 238.75,2992 239,2992 239.25,2981 239.5,2965 239.75,2996 240,2970 240.25,2979 240.5,2990 240.75,2974 241,2973 241.25,2960 241.5,2994 241.75,3004 242,2967 242.25,2996 242.5,3007 242.75,3005 243,2994 243.25,2970 243.5,2959 243.75,2970 244,2987 244.25,3000 244.5,2999 244.75,2978 245,2986 245.25,2974 245.5,2954 245.75,2971 246,2995 246.25,2991 246.5,2982 246.75,2981 247,3014 247.25,2987 247.5,2976 247.75,2960 248,2971 248.25,2986 248.5,2973 248.75,2987 249,2973 249.25,3019 249.5,2974 249.75,2993 250,2969 250.25,2984 250.5,2993 250.75,2983 251,2955 251.25,3001 251.5,2989 251.75,2966 252,2972 252.25,2988 252.5,2967 252.75,2988 253,2960 253.25,2980 253.5,2990 253.75,2972 254,2980 254.25,2984 254.5,2999 254.75,2995 255,2981 255.25,2982 255.5,2972 255.75,2972 256,2971 256.25,2969 256.5,2990 256.75,2973 257,2965 257.25,2965 257.5,2975 257.75,2983 258,2968 258.25,2962 258.5,2979 258.75,2990 259,2962 259.25,2970 259.5,2949 259.75,3011 260,2961 260.25,2959 260.5,2979 260.75,2971 261,2987 261.25,2964 261.5,2977 261.75,2979 262,2984 262.25,3003 262.5,2975 262.75,2964 263,2982 263.25,2966 263.5,2989 263.75,2980 264,2978 264.25,2953 264.5,2954 264.75,2967 265,2975 265.25,2946 265.5,2968 265.75,2978 266,2966 266.25,2989 266.5,2979 266.75,2998 267,2965 267.25,2982 267.5,2935 267.75,2963 268,2989 268.25,2969 268.5,2967 268.75,2957 269,2999 269.25,2993 269.5,2974 269.75,2979 270,2974 270.25,2954 270.5,2979 270.75,2966 271,2963 271.25,2990 271.5,2974 271.75,2959 272,2982 272.25,2973 272.5,2979 272.75,2972 273,2978 273.25,2978 273.5,2960 273.75,3004 274,2977 274.25,2937 274.5,2988 274.75,2952 275,2979 275.25,2996 275.5,2969 275.75,2971 276,2990 276.25,2982 276.5,2981 276.75,2970 277,2973 277.25,2945 277.5,2966 277.75,2971 278,2981 278.25,2979 278.5,2953 278.75,2961 279,2940 279.25,2969 279.5,2993 279.75,2974 280,2960 280.25,2973 280.5,2968 280.75,2953 281,2958 281.25,2968 281.5,2982 281.75,2962 282,2960 282.25,2950 282.5,2969 282.75,2954 283,2996 283.25,2971 283.5,2925 283.75,2990 284,2974 284.25,2968 284.5,2972 284.75,2960 285,2956 285.25,2958 285.5,2966 285.75,2974 286,2997 286.25,2974 286.5,2981 286.75,2983 287,2957 287.25,2955 287.5,2956 287.75,2991 288,2949 288.25,2977 288.5,2957 288.75,3006 289,2949 289.25,2951 289.5,2961 289.75,2952 290,2979 290.25,2982 290.5,2983 290.75,2999 291,2955 291.25,2971 291.5,2963 291.75,2958 292,2974 292.25,3000 292.5,2955 292.75,3001 293,2973 293.25,2962 293.5,2951 293.75,2981 294,2971 294.25,2966 294.5,2959 294.75,2966 295,2963 295.25,2970 295.5,2941 295.75,2972 296,2983 296.25,2980 296.5,2948 296.75,2969 297,2972 297.25,2985 297.5,2981 297.75,2983 298,2966 298.25,2978 298.5,2966 298.75,2963 299,2945 299.25,2972 299.5,2964 299.75,2944 300,2986 300.25,2961 300.5,2973 300.75,2972 301,2964 301.25,2970 301.5,2980 301.75,2955 302,2947 302.25,2981 302.5,2974 302.75,2955 303,2982 303.25,2948 303.5,2968 303.75,2971 304,2966 304.25,2972 304.5,2958 304.75,2942 305,2957 305.25,2973 305.5,2966 305.75,2964 306,2960 306.25,2981 306.5,2957 306.75,2968 307,2968 307.25,2950 307.5,2976 307.75,2970 308,2972 308.25,2943 308.5,2980 308.75,2957 309,2962 309.25,2968 309.5,2975 309.75,2954 310,2967 310.25,2962 310.5,2961 310.75,2961 311,2947 311.25,2960 311.5,2978 311.75,2946 312,2937 312.25,2981 312.5,2940 312.75,2955 313,2950 313.25,2963 313.5,2954 313.75,2966 314,2952 314.25,2942 314.5,2993 314.75,2960 315,2965 315.25,2940 315.5,2947 315.75,2951 316,2972 316.25,2945 316.5,2964 316.75,2953 317,2947 317.25,2968 317.5,2961 317.75,2941 318,2966 318.25,2937 318.5,2964 318.75,2955 319,2989 319.25,2963 319.5,2987 319.75,2964 320,2950 320.25,2966 320.5,2933 320.75,2937 321,2953 321.25,2977 321.5,2968 321.75,2934 322,2924 322.25,2958 322.5,2930 322.75,2937 323,2943 323.25,2938 323.5,2940 323.75,2949 324,2966 324.25,2942 324.5,2952 324.75,2958 325,2959 325.25,2950 325.5,2940 325.75,2950 326,2929 326.25,2949 326.5,2969 326.75,2959 327,2906 327.25,2958 327.5,2958 327.75,2944 328,2960 328.25,2959 328.5,2947 328.75,2945 329,2931 329.25,2964 329.5,2915 329.75,2954 330,2942 330.25,2949 330.5,2941 330.75,2946 331,2934 331.25,2933 331.5,2972 331.75,2942 332,2967 332.25,2958 332.5,2949 332.75,2950 333,2945 333.25,2960 333.5,2943 333.75,2939 334,2954 334.25,2944 334.5,2952 334.75,2934 335,2943 335.25,2957 335.5,2957 335.75,2926 336,2941 336.25,2926 336.5,2953 336.75,2927 337,2914 337.25,2924 337.5,2923 337.75,2976 338,2931 338.25,2951 338.5,2928 338.75,2945 339,2957 339.25,2952 339.5,2958 339.75,2952 340,2934 340.25,2945 340.5,2939 340.75,2929 341,2969 341.25,2922 341.5,2917 341.75,2928 342,2952 342.25,2929 342.5,2939 342.75,2924 343,2953 343.25,2939 343.5,2935 343.75,2955 344,2921 344.25,2955 344.5,2946 344.75,2915 345,2930 345.25,2940 345.5,2916 345.75,2919 346,2953 346.25,2972 346.5,2955 346.75,2940 347,2932 347.25,2915 347.5,2942 347.75,2922 348,2930 348.25,2931 348.5,2942 348.75,2937 349,2896 349.25,2919 349.5,2943 349.75,2947 350,2939 350.25,2942 350.5,2910 350.75,2926 351,2928 351.25,2940 351.5,2928 351.75,2918 352,2940 352.25,2926 352.5,2934 352.75,2900 353,2926 353.25,2932 353.5,2946 353.75,2925 354,2899 354.25,2903 354.5,2940 354.75,2938 355,2919 355.25,2909 355.5,2938 355.75,2913 356,2920 356.25,2898 356.5,2880 356.75,2923 357,2948 357.25,2915 357.5,2900 357.75,2939 358,2903 358.25,2886 358.5,2910 358.75,2922 359,2904 359.25,2917 359.5,2917 359.75,2917 360,2939 360.25,2919 360.5,2924 360.75,2936 361,2910 361.25,2929 361.5,2906 361.75,2916 362,2913 362.25,2930 362.5,2928 362.75,2903 363,2898 363.25,2896 363.5,2898 363.75,2903 364,2912 364.25,2899 364.5,2941 364.75,2931 365,2944 365.25,2919 365.5,2922 365.75,2908 366,2930 366.25,2920 366.5,2910 366.75,2917 367,2940 367.25,2936 367.5,2911 367.75,2880 368,2865 368.25,2908 368.5,2908 368.75,2908 369,2915 369.25,2917 369.5,2896 369.75,2899 370,2933 370.25,2942 370.5,2910 370.75,2910 371,2921 371.25,2913 371.5,2908 371.75,2907 372,2930 372.25,2896 372.5,2915 372.75,2889 373,2915 373.25,2911 373.5,2904 373.75,2911 374,2879 374.25,2893 374.5,2898 374.75,2906 375,2904 375.25,2893 375.5,2905 375.75,2909 376,2943 376.25,2906 376.5,2908 376.75,2908 377,2898 377.25,2896 377.5,2914 377.75,2898 378,2894 378.25,2901 378.5,2926 378.75,2883 379,2895 379.25,2905 379.5,2910 379.75,2926 380,2932 380.25,2890 380.5,2912 380.75,2930 381,2918 381.25,2886 381.5,2890 381.75,2900 382,2912 382.25,2883 382.5,2912 382.75,2888 383,2908 383.25,2909 383.5,2905 383.75,2913 384,2897 384.25,2900 384.5,2917 384.75,2887 385,2886 385.25,2873 385.5,2922 385.75,2883 386,2910 386.25,2896 386.5,2901 386.75,2888 387,2892 387.25,2909 387.5,2895 387.75,2877 388,2890 388.25,2870 388.5,2900 388.75,2905 389,2895 389.25,2915 389.5,2915 389.75,2887 390,2906 390.25,2885 390.5,2892 390.75,2885 391,2890 391.25,2869 391.5,2885 391.75,2867 392,2911 392.25,2878 392.5,2885 392.75,2861 393,2874 393.25,2893 393.5,2851 393.75,2889 394,2876 394.25,2917 394.5,2894 394.75,2897 395,2887 395.25,2898 395.5,2863 395.75,2908 396,2893 396.25,2855 396.5,2886 396.75,2880 397,2903 397.25,2874 397.5,2879 397.75,2885 398,2874 398.25,2904 398.5,2884 398.75,2865 399,2879 399.25,2872 399.5,2902 399.75,2856 400,2844 400.25,2908 400.5,2873 400.75,2891 401,2872 401.25,2864 401.5,2880 401.75,2872 402,2860 402.25,2839 402.5,2874 402.75,2891 403,2888 403.25,2845 403.5,2890 403.75,2844 404,2858 404.25,2867 404.5,2867 404.75,2852 405,2860 405.25,2866 405.5,2866 405.75,2875 406,2878 406.25,2865 406.5,2850 406.75,2874 407,2861 407.25,2848 407.5,2821 407.75,2863 408,2870 408.25,2876 408.5,2842 408.75,2856 409,2828 409.25,2859 409.5,2860 409.75,2841 410,2863 410.25,2871 410.5,2871 410.75,2838 411,2854 411.25,2870 411.5,2849 411.75,2845 412,2847 412.25,2866 412.5,2847 412.75,2818 413,2861 413.25,2897 413.5,2856 413.75,2872 414,2853 414.25,2844 414.5,2830 414.75,2855 415,2846 415.25,2861 415.5,2848 415.75,2856 416,2810 416.25,2850 416.5,2854 416.75,2848 417,2865 417.25,2841 417.5,2853 417.75,2808 418,2854 418.25,2853 418.5,2825 418.75,2802 419,2822 419.25,2837 419.5,2865 419.75,2817 420,2844 420.25,2846 420.5,2845 420.75,2823 421,2846 421.25,2811 421.5,2800 421.75,2832 422,2818 422.25,2793 422.5,2854 422.75,2845 423,2841 423.25,2815 423.5,2818 423.75,2803 424,2829 424.25,2824 424.5,2828 424.75,2854 425,2819 425.25,2824 425.5,2802 425.75,2854 426,2848 426.25,2786 426.5,2787 426.75,2855 427,2859 427.25,2837 427.5,2850 427.75,2801 428,2825 428.25,2838 428.5,2820 428.75,2806 429,2820 429.25,2807 429.5,2855 429.75,2815 430,2809 430.25,2787 430.5,2846 430.75,2816 431,2829 431.25,2817 431.5,2823 431.75,2818 432,2807 432.25,2826 432.5,2802 432.75,2821 433,2823 433.25,2830 433.5,2799 433.75,2857 434,2818 434.25,2793 434.5,2784 434.75,2814 435,2811 435.25,2823 435.5,2784 435.75,2810 436,2818 436.25,2828 436.5,2778 436.75,2798 437,2795 437.25,2806 437.5,2803 437.75,2809 438,2790 438.25,2814 438.5,2778 438.75,2805 439,2844 439.25,2786 439.5,2837 439.75,2828 440,2795 440.25,2812 440.5,2813 440.75,2784 441,2764 441.25,2796 441.5,2777 441.75,2810 442,2768 442.25,2837 442.5,2842 442.75,2784 443,2760 443.25,2803 443.5,2787 443.75,2794 444,2766 444.25,2767 444.5,2803 444.75,2768 445,2755 445.25,2801 445.5,2802 445.75,2784 446,2770 446.25,2819 446.5,2782 446.75,2800 447,2762 447.25,2761 447.5,2790 447.75,2813 448,2765 448.25,2773 448.5,2776 448.75,2808 449,2781 449.25,2789 449.5,2798 449.75,2793 450,2810 450.25,2754 450.5,2784 450.75,2784 451,2754 451.25,2779 451.5,2781 451.75,2768 452,2762 452.25,2797 452.5,2778 452.75,2771 453,2777 453.25,2762 453.5,2775 453.75,2779 454,2753 454.25,2767 454.5,2767 454.75,2771 455,2759 455.25,2766 455.5,2757 455.75,2748 456,2754 456.25,2733 456.5,2774 456.75,2769 457,2745 457.25,2743 457.5,2743 457.75,2737 458,2737 458.25,2768 458.5,2752 458.75,2774 459,2766 459.25,2763 459.5,2730 459.75,2788 460,2750 460.25,2709 460.5,2747 460.75,2745 461,2762 461.25,2730 461.5,2752 461.75,2742 462,2771 462.25,2742 462.5,2756 462.75,2766 463,2730 463.25,2751 463.5,2745 463.75,2775 464,2755 464.25,2728 464.5,2778 464.75,2731 465,2740 465.25,2742 465.5,2751 465.75,2726 466,2734 466.25,2730 466.5,2741 466.75,2720 467,2727 467.25,2708 467.5,2768 467.75,2744 468,2758 468.25,2718 468.5,2697 468.75,2699 469,2706 469.25,2740 469.5,2721 469.75,2718 470,2703 470.25,2760 470.5,2699 470.75,2721 471,2719 471.25,2721 471.5,2720 471.75,2730 472,2775 472.25,2744 472.5,2727 472.75,2699 473,2749 473.25,2750 473.5,2707 473.75,2728 474,2670 474.25,2695 474.5,2737 474.75,2680 475,2726 475.25,2735 475.5,2683 475.75,2709 476,2741 476.25,2758 476.5,2711 476.75,2739 477,2691 477.25,2693 477.5,2715 477.75,2721 478,2709 478.25,2728 478.5,2721 478.75,2730 479,2719 479.25,2704 479.5,2705 479.75,2700 480,2704 480.25,2723 480.5,2720 480.75,2727 481,2717 481.25,2716 481.5,2680 481.75,2688 482,2685 482.25,2678 482.5,2642 482.75,2706 483,2669 483.25,2674 483.5,2673 483.75,2720 484,2695 484.25,2717 484.5,2684 484.75,2700 485,2700 485.25,2679 485.5,2685 485.75,2645 486,2658 486.25,2681 486.5,2630 486.75,2682 487,2679 487.25,2661 487.5,2690 487.75,2683 488,2696 488.25,2676 488.5,2683 488.75,2676 489,2641 489.25,2668 489.5,2664 489.75,2668 490,2666 490.25,2681 490.5,2662 490.75,2647 491,2673 491.25,2617 491.5,2630 491.75,2684 492,2627 492.25,2663 492.5,2633 492.75,2669 493,2661 493.25,2675 493.5,2664 493.75,2676 494,2631 494.25,2681 494.5,2639 494.75,2665 495,2643 495.25,2670 495.5,2654 495.75,2649 496,2656 496.25,2641 496.5,2641 496.75,2670 497,2651 497.25,2640 497.5,2629 497.75,2661 498,2618 498.25,2633 498.5,2608 498.75,2619 499,2627 499.25,2637 499.5,2627 499.75,2647 500,2588 500.25,2670 500.5,2637 500.75,2634 501,2605 501.25,2642 501.5,2605 501.75,2618 502,2623 502.25,2629 502.5,2627 502.75,2597 503,2587 503.25,2642 503.5,2629 503.75,2624 504,2620 504.25,2621 504.5,2569 504.75,2609 505,2628 505.25,2608 505.5,2621 505.75,2613 506,2594 506.25,2586 506.5,2599 506.75,2622 507,2565 507.25,2618 507.5,2556 507.75,2639 508,2592 508.25,2597 508.5,2583 508.75,2613 509,2576 509.25,2620 509.5,2636 509.75,2589 510,2569 510.25,2603 510.5,2569 510.75,2577 511,2588 511.25,2605 511.5,2557 511.75,2595 512,2590 512.25,2575 512.5,2591 512.75,2577 513,2566 513.25,2529 513.5,2518 513.75,2571 514,2583 514.25,2545 514.5,2559 514.75,2598 515,2581 515.25,2523 515.5,2574 515.75,2552 516,2568 516.25,2556 516.5,2532 516.75,2596 517,2493 517.25,2524 517.5,2571 517.75,2541 518,2548 518.25,2518 518.5,2555 518.75,2519 519,2507 519.25,2505 519.5,2555 519.75,2527 520,2543 520.25,2534 520.5,2519 520.75,2495 521,2527 521.25,2533 521.5,2491 521.75,2502 522,2494 522.25,2465 522.5,2518 522.75,2523 523,2506 523.25,2512 523.5,2508 523.75,2531 524,2520 524.25,2521 524.5,2481 524.75,2508 525,2495 525.25,2469 525.5,2503 525.75,2452 526,2463 526.25,2512 526.5,2501 526.75,2441 527,2491 527.25,2484 527.5,2473 527.75,2451 528,2469 528.25,2491 528.5,2515 528.75,2492 529,2450 529.25,2485 529.5,2516 529.75,2461 530,2434 530.25,2488 530.5,2446 530.75,2460 531,2465 531.25,2451 531.5,2453 531.75,2467 532,2467 532.25,2455 532.5,2464 532.75,2451 533,2426 533.25,2481 533.5,2445 533.75,2447 534,2457 534.25,2426 534.5,2394 534.75,2383 535,2412 535.25,2443 535.5,2425 535.75,2427 536,2398 536.25,2372 536.5,2397 536.75,2356 537,2376 537.25,2406 537.5,2374 537.75,2352 538,2396 538.25,2392 538.5,2381 538.75,2329 539,2388 539.25,2361 539.5,2378 539.75,2388 540,2370 540.25,2388 540.5,2371 540.75,2339 541,2333 541.25,2393 541.5,2397 541.75,2333 542,2345 542.25,2346 542.5,2352 542.75,2291 543,2347 543.25,2329 543.5,2327 543.75,2310 544,2352 544.25,2305 544.5,2357 544.75,2348 545,2292 545.25,2327 545.5,2325 545.75,2289 546,2237 546.25,2283 546.5,2296 546.75,2343 547,2315 547.25,2303 547.5,2282 547.75,2296 548,2246 548.25,2243 548.5,2227 548.75,2228 549,2250 549.25,2303 549.5,2210 549.75,2251 550,2241 550.25,2188 550.5,2229 550.75,2173 551,2255 551.25,2245 551.5,2198 551.75,2204 552,2198 552.25,2190 552.5,2225 552.75,2171 553,2188 553.25,2163 553.5,2223 553.75,2193 554,2214 554.25,2160 554.5,2109 554.75,2192 555,2183 555.25,2195 555.5,2167 555.75,2183 556,2186 556.25,2145 556.5,2098 556.75,2174 557,2158 557.25,2139 557.5,2116 557.75,2195 558,2151 558.25,2148 558.5,2118 558.75,2122 559,2147 559.25,2104 559.5,2172 559.75,2125 560,2072 560.25,2141 560.5,2114 560.75,2192 561,2134 561.25,2121 561.5,2161 561.75,2146 562,2071 562.25,2081 562.5,2088 562.75,2161 563,2121 563.25,2150 563.5,2112 563.75,2144 564,2088 564.25,2132 564.5,2179 564.75,2146 565,2130 565.25,2139 565.5,2143 565.75,2196 566,2150 566.25,2159 566.5,2134 566.75,2164 567,2163 567.25,2133 567.5,2108 567.75,2149 568,2189 568.25,2143 568.5,2150 568.75,2194 569,2161 569.25,2114 569.5,2213 569.75,2172 570,2158 570.25,2167 570.5,2190 570.75,2164 571,2227 571.25,2193 571.5,2199 571.75,2192 572,2170 572.25,2192 572.5,2236 572.75,2177 573,2187 573.25,2202 573.5,2173 573.75,2217 574,2162 574.25,2207 574.5,2170 574.75,2189 575,2190 575.25,2270 575.5,2185 575.75,2228 576,2213 576.25,2183 576.5,2227 576.75,2203 577,2162 577.25,2159 577.5,2210 577.75,2211 578,2165 578.25,2209 578.5,2200 578.75,2221 579,2190 579.25,2211 579.5,2206 579.75,2225 580,2238 580.25,2265 580.5,2171 580.75,2218 581,2187 581.25,2181 581.5,2164 581.75,2196 582,2212 582.25,2204 582.5,2216 582.75,2215 583,2222 583.25,2211 583.5,2218 583.75,2214 584,2197 584.25,2174 584.5,2170 584.75,2220 585,2182 585.25,2227 585.5,2195 585.75,2187 586,2200 586.25,2211 586.5,2252 586.75,2196 587,2193 587.25,2216 587.5,2233 587.75,2204 588,2193 588.25,2221 588.5,2215 588.75,2219 589,2172 589.25,2225 589.5,2210 589.75,2236 590,2202 590.25,2219 590.5,2202 590.75,2264 591,2169 591.25,2182 591.5,2187 591.75,2129 592,2193 592.25,2250 592.5,2227 592.75,2235 593,2204 593.25,2191 593.5,2203 593.75,2174 594,2162 594.25,2236 594.5,2207 594.75,2244 595,2171 595.25,2210 595.5,2168 595.75,2248 596,2210 596.25,2181 596.5,2181 596.75,2241 597,2179 597.25,2201 597.5,2207 597.75,2181 598,2247 598.25,2255 598.5,2193 598.75,2212 599,2226 599.25,2224 599.5,2226 599.75,2178 600,2209 600.25,2171 600.5,2205 600.75,2221 601,2230 601.25,2153 601.5,2214 601.75,2171 602,2220 602.25,2218 602.5,2213 602.75,2233 603,2215 603.25,2188 603.5,2199 603.75,2217 604,2165 604.25,2202 604.5,2218 604.75,2181 605,2240 605.25,2237 605.5,2223 605.75,2206 606,2152 606.25,2225 606.5,2222 606.75,2235 607,2192 607.25,2226 607.5,2240 607.75,2186 608,2215 608.25,2212 608.5,2207 608.75,2237 609,2208 609.25,2231 609.5,2224 609.75,2233 610,2208 610.25,2198 610.5,2232 610.75,2217 611,2237 611.25,2204 611.5,2202 611.75,2235 612,2221 612.25,2215 612.5,2236 612.75,2214 613,2224 613.25,2233 613.5,2193 613.75,2246 614,2221 614.25,2215 614.5,2221 614.75,2207 615,2177 615.25,2225 615.5,2213 615.75,2266 616,2262 616.25,2213 616.5,2235 616.75,2254 617,2237 617.25,2224 617.5,2220 617.75,2203 618,2251 618.25,2245 618.5,2234 618.75,2231 619,2275 619.25,2243 619.5,2266 619.75,2203 620,2212 620.25,2214 620.5,2252 620.75,2226 621,2268 621.25,2239 621.5,2261 621.75,2229 622,2260 622.25,2231 622.5,2237 622.75,2215 623,2196 623.25,2212 623.5,2248 623.75,2248 624,2202 624.25,2213 624.5,2209 624.75,2258 625,2222 625.25,2219 625.5,2256 625.75,2231 626,2259 626.25,2265 626.5,2233 626.75,2206 627,2241 627.25,2302 627.5,2222 627.75,2283 628,2234 628.25,2227 628.5,2287 628.75,2241 629,2199 629.25,2219 629.5,2232 629.75,2239 630,2285 630.25,2278 630.5,2255 630.75,2266 631,2244 631.25,2215 631.5,2257 631.75,2252 632,2281 632.25,2266 632.5,2287 632.75,2249 633,2251 633.25,2249 633.5,2240 633.75,2288 634,2266 634.25,2233 634.5,2248 634.75,2310 635,2321 635.25,2298 635.5,2268 635.75,2304 636,2264 636.25,2237 636.5,2268 636.75,2240 637,2262 637.25,2323 637.5,2281 637.75,2274 638,2289 638.25,2259 638.5,2276 638.75,2246 639,2237 639.25,2259 639.5,2242 639.75,2217 640,2259 640.25,2247 640.5,2250 640.75,2309 641,2289 641.25,2298 641.5,2269 641.75,2250 642,2253 642.25,2320 642.5,2207 642.75,2264 643,2282 643.25,2241 643.5,2304 643.75,2258 644,2279 644.25,2318 644.5,2301 644.75,2275 645,2278 645.25,2318 645.5,2329 645.75,2295 646,2238 646.25,2272 646.5,2310 646.75,2267 647,2278 647.25,2262 647.5,2276 647.75,2311 648,2304 648.25,2262 648.5,2320 648.75,2254 649,2313 649.25,2312 649.5,2259 649.75,2246 650,2317 650.25,2308 650.5,2298 650.75,2274 651,2303 651.25,2258 651.5,2314 651.75,2352 652,2291 652.25,2322 652.5,2275 652.75,2305 653,2293 653.25,2309 653.5,2291 653.75,2257 654,2325 654.25,2271 654.5,2327 654.75,2271 655,2320 655.25,2310 655.5,2289 655.75,2326 656,2309 656.25,2342 656.5,2320 656.75,2334 657,2254 657.25,2338 657.5,2299 657.75,2300 658,2274 658.25,2289 658.5,2300 658.75,2309 659,2309 659.25,2299 659.5,2312 659.75,2330 660,2297 660.25,2294 660.5,2336 660.75,2321 661,2288 661.25,2328 661.5,2323 661.75,2366 662,2335 662.25,2333 662.5,2312 662.75,2292 663,2313 663.25,2309 663.5,2309 663.75,2344 664,2292 664.25,2359 664.5,2294 664.75,2284 665,2342 665.25,2314 665.5,2303 665.75,2330 666,2309 666.25,2324 666.5,2312 666.75,2326 667,2302 667.25,2339 667.5,2313 667.75,2326 668,2271 668.25,2336 668.5,2310 668.75,2320 669,2317 669.25,2311 669.5,2302 669.75,2348 670,2315 670.25,2322 670.5,2319 670.75,2310 671,2354 671.25,2312 671.5,2337 671.75,2309 672,2294 672.25,2294 672.5,2342 672.75,2283 673,2289 673.25,2315 673.5,2345 673.75,2314 674,2357 674.25,2328 674.5,2327 674.75,2370 675,2345 675.25,2323 675.5,2321 675.75,2354 676,2368 676.25,2328 676.5,2332 676.75,2362 677,2320 677.25,2347 677.5,2344 677.75,2334 678,2316 678.25,2282 678.5,2334 678.75,2309 679,2345 679.25,2326 679.5,2330 679.75,2374 680,2357 680.25,2318 680.5,2361 680.75,2333 681,2311 681.25,2345 681.5,2343 681.75,2366 682,2368 682.25,2370 682.5,2328 682.75,2343 683,2303 683.25,2352 683.5,2340 683.75,2295 684,2361 684.25,2357 684.5,2309 684.75,2294 685,2339 685.25,2353 685.5,2345 685.75,2381 686,2404 686.25,2351 686.5,2344 686.75,2339 687,2399 687.25,2351 687.5,2367 687.75,2372 688,2376 688.25,2362 688.5,2397 688.75,2366 689,2358 689.25,2328 689.5,2346 689.75,2353 690,2380 690.25,2342 690.5,2361 690.75,2351 691,2292 691.25,2363 691.5,2397 691.75,2323 692,2385 692.25,2328 692.5,2348 692.75,2356 693,2381 693.25,2359 693.5,2361 693.75,2382 694,2384 694.25,2358 694.5,2373 694.75,2395 695,2374 695.25,2339 695.5,2365 695.75,2327 696,2417 696.25,2369 696.5,2326 696.75,2355 697,2376 697.25,2383 697.5,2363 697.75,2357 698,2345 698.25,2389 698.5,2398 698.75,2377 699,2374 699.25,2373 699.5,2357 699.75,2362 700,2385 700.25,2378 700.5,2383 700.75,2355 701,2392 701.25,2349 701.5,2404 701.75,2370 702,2382 702.25,2359 702.5,2374 702.75,2358 703,2380 703.25,2334 703.5,2405 703.75,2383 704,2395 704.25,2376 704.5,2392 704.75,2363 705,2359 705.25,2371 705.5,2346 705.75,2401 706,2374 706.25,2378 706.5,2363 706.75,2397 707,2410 707.25,2377 707.5,2411 707.75,2394 708,2392 708.25,2347 708.5,2366 708.75,2417 709,2414 709.25,2442 709.5,2375 709.75,2410 710,2356 710.25,2372 710.5,2367 710.75,2373 711,2401 711.25,2428 711.5,2400 711.75,2366 712,2428 712.25,2405 712.5,2360 712.75,2431 713,2399 713.25,2417 713.5,2385 713.75,2388 714,2410 714.25,2363 714.5,2403 714.75,2423 715,2413 715.25,2401 715.5,2393 715.75,2394 716,2439 716.25,2411 716.5,2409 716.75,2384 717,2416 717.25,2425 717.5,2353 717.75,2447 718,2428 718.25,2404 718.5,2366 718.75,2467 719,2426 719.25,2399 719.5,2376 719.75,2436 720,2368 720.25,2412 720.5,2405 720.75,2384 721,2396 721.25,2397 721.5,2435 721.75,2424 722,2443 722.25,2392 722.5,2447 722.75,2425 723,2447 723.25,2410 723.5,2430 723.75,2396 724,2446 724.25,2422 724.5,2405 724.75,2417 725,2422 725.25,2376 725.5,2423 725.75,2395 726,2418 726.25,2425 726.5,2477 726.75,2431 727,2390 727.25,2435 727.5,2395 727.75,2398 728,2405 728.25,2446 728.5,2464 728.75,2441 729,2393 729.25,2429 729.5,2445 729.75,2365 730,2417 730.25,2487 730.5,2393 730.75,2403 731,2399 731.25,2461 731.5,2451 731.75,2447 732,2458 732.25,2414 732.5,2385 732.75,2444 733,2392 733.25,2447 733.5,2444 733.75,2436 734,2464 734.25,2443 734.5,2405 734.75,2415 735,2451 735.25,2420 735.5,2450 735.75,2429 736,2443 736.25,2414 736.5,2433 736.75,2399 737,2421 737.25,2451 737.5,2423 737.75,2416 738,2459 738.25,2457 738.5,2412 738.75,2445 739,2452 739.25,2419 739.5,2423 739.75,2437 740,2477 740.25,2441 740.5,2441 740.75,2379 741,2451 741.25,2465 741.5,2417 741.75,2461 742,2452 742.25,2463 742.5,2444 742.75,2445 743,2504 743.25,2489 743.5,2424 743.75,2407 744,2455 744.25,2457 744.5,2450 744.75,2444 745,2482 745.25,2377 745.5,2425 745.75,2463 746,2460 746.25,2460 746.5,2431 746.75,2489 747,2473 747.25,2470 747.5,2461 747.75,2417 748,2437 748.25,2421 748.5,2450 748.75,2415 749,2449 749.25,2435 749.5,2449 749.75,2398 750,2424 750.25,2453 750.5,2467 750.75,2421 751,2466 751.25,2511 751.5,2448 751.75,2433 752,2408 752.25,2414 752.5,2439 752.75,2445 753,2466 753.25,2496 753.5,2433 753.75,2461 754,2490 754.25,2470 754.5,2462 754.75,2462 755,2428 755.25,2426 755.5,2477 755.75,2491 756,2485 756.25,2485 756.5,2499 756.75,2496 757,2454 757.25,2469 757.5,2410 757.75,2487 758,2467 758.25,2466 758.5,2487 758.75,2434 759,2468 759.25,2445 759.5,2502 759.75,2436 760,2453 760.25,2476 760.5,2505 760.75,2466 761,2434 761.25,2451 761.5,2475 761.75,2481 762,2440 762.25,2495 762.5,2449 762.75,2448 763,2465 763.25,2442 763.5,2442 763.75,2465 764,2415 764.25,2462 764.5,2443 764.75,2478 765,2450 765.25,2492 765.5,2480 765.75,2484 766,2478 766.25,2453 766.5,2482 766.75,2488 767,2477 767.25,2482 767.5,2482 767.75,2469 768,2463 768.25,2478 768.5,2479 768.75,2491 769,2504 769.25,2470 769.5,2467 769.75,2523 770,2477 770.25,2478 770.5,2460 770.75,2488 771,2429 771.25,2463 771.5,2474 771.75,2464 772,2486 772.25,2507 772.5,2489 772.75,2473 773,2427 773.25,2463 773.5,2510 773.75,2516 774,2495 774.25,2502 774.5,2501 774.75,2449 775,2474 775.25,2471 775.5,2497 775.75,2509 776,2485 776.25,2527 776.5,2481 776.75,2473 777,2472 777.25,2439 777.5,2501 777.75,2474 778,2501 778.25,2496 778.5,2499 778.75,2450 779,2479 779.25,2481 779.5,2495 779.75,2465 780,2465 780.25,2515 780.5,2457 780.75,2494 781,2464 781.25,2507 781.5,2479 781.75,2482 782,2469 782.25,2446 782.5,2531 782.75,2490 783,2525 783.25,2507 783.5,2471 783.75,2481 784,2506 784.25,2495 784.5,2479 784.75,2503 785,2514 785.25,2522 785.5,2534 785.75,2498 786,2489 786.25,2489 786.5,2440 786.75,2528 787,2535 787.25,2425 787.5,2502 787.75,2487 788,2493 788.25,2459 788.5,2496 788.75,2452 789,2514 789.25,2521 789.5,2528 789.75,2462 790,2473 790.25,2486 790.5,2532 790.75,2496 791,2537 791.25,2506 791.5,2517 791.75,2469 792,2465 792.25,2485 792.5,2476 792.75,2470 793,2516 793.25,2540 793.5,2487 793.75,2502 794,2536 794.25,2507 794.5,2524 794.75,2523 795,2534 795.25,2533 795.5,2515 795.75,2486 796,2534 796.25,2484 796.5,2513 796.75,2521 797,2577 797.25,2528 797.5,2522 797.75,2504 798,2509 798.25,2479 798.5,2463 798.75,2510 799,2517 799.25,2503 799.5,2508 799.75,2509 800,2555 800.25,2501 800.5,2559 800.75,2500 801,2511 801.25,2516 801.5,2531 801.75,2550 802,2541 802.25,2544 802.5,2526 802.75,2520 803,2517 803.25,2494 803.5,2570 803.75,2519 804,2505 804.25,2494 804.5,2515 804.75,2497 805,2545 805.25,2549 805.5,2507 805.75,2552 806,2542 806.25,2531 806.5,2530 806.75,2518 807,2546 807.25,2487 807.5,2542 807.75,2524 808,2474 808.25,2519 808.5,2530 808.75,2541 809,2529 809.25,2506 809.5,2533 809.75,2530 810,2455 810.25,2502 810.5,2520 810.75,2513 811,2532 811.25,2575 811.5,2529 811.75,2518 812,2527 812.25,2508 812.5,2516 812.75,2513 813,2543 813.25,2519 813.5,2533 813.75,2539 814,2508 814.25,2545 814.5,2568 814.75,2527 815,2539 815.25,2558 815.5,2563 815.75,2541 816,2530 816.25,2547 816.5,2511 816.75,2517 817,2523 817.25,2546 817.5,2511 817.75,2542 818,2499 818.25,2515 818.5,2518 818.75,2550 819,2578 819.25,2503 819.5,2544 819.75,2536 820,2549 820.25,2527 820.5,2559 820.75,2493 821,2562 821.25,2573 821.5,2522 821.75,2545 822,2516 822.25,2534 822.5,2536 822.75,2482 823,2562 823.25,2558 823.5,2584 823.75,2542 824,2546 824.25,2570 824.5,2503 824.75,2557 825,2537 825.25,2588 825.5,2542 825.75,2569 826,2536 826.25,2475 826.5,2578 826.75,2571 827,2570 827.25,2541 827.5,2575 827.75,2527 828,2531 828.25,2570 828.5,2567 828.75,2591 829,2534 829.25,2560 829.5,2563 829.75,2575 830,2527 830.25,2553 830.5,2542 830.75,2564 831,2618 831.25,2569 831.5,2588 831.75,2567 832,2546 832.25,2560 832.5,2554 832.75,2552 833,2573 833.25,2568 833.5,2536 833.75,2508 834,2543 834.25,2565 834.5,2587 834.75,2560 835,2569 835.25,2580 835.5,2583 835.75,2541 836,2553 836.25,2573 836.5,2546 836.75,2539 837,2553 837.25,2560 837.5,2583 837.75,2549 838,2542 838.25,2552 838.5,2580 838.75,2522 839,2569 839.25,2584 839.5,2554 839.75,2550 840,2537 840.25,2543 840.5,2560 840.75,2591 841,2576 841.25,2555 841.5,2532 841.75,2538 842,2588 842.25,2533 842.5,2587 842.75,2568 843,2587 843.25,2574 843.5,2553 843.75,2565 844,2557 844.25,2539 844.5,2561 844.75,2564 845,2542 845.25,2560 845.5,2582 845.75,2566 846,2542 846.25,2601 846.5,2552 846.75,2593 847,2575 847.25,2592 847.5,2574 847.75,2544 848,2596 848.25,2553 848.5,2538 848.75,2537 849,2579 849.25,2559 849.5,2560 849.75,2538 850,2612 850.25,2586 850.5,2594 850.75,2576 851,2598 851.25,2562 851.5,2603 851.75,2572 852,2564 852.25,2591 852.5,2584 852.75,2583 853,2541 853.25,2554 853.5,2547 853.75,2559 854,2578 854.25,2554 854.5,2576 854.75,2553 855,2570 855.25,2589 855.5,2602 855.75,2619 856,2583 856.25,2585 856.5,2611 856.75,2545 857,2556 857.25,2600 857.5,2603 857.75,2622 858,2619 858.25,2616 858.5,2600 858.75,2583 859,2609 859.25,2543 859.5,2579 859.75,2550 860,2578 860.25,2521 860.5,2593 860.75,2582 861,2607 861.25,2549 861.5,2576 861.75,2603 862,2546 862.25,2580 862.5,2536 862.75,2625 863,2563 863.25,2585 863.5,2591 863.75,2545 864,2571 864.25,2548 864.5,2596 864.75,2616 865,2535 865.25,2584 865.5,2554 865.75,2593 866,2598 866.25,2606 866.5,2600 866.75,2551 867,2558 867.25,2585 867.5,2601 867.75,2570 868,2579 868.25,2598 868.5,2591 868.75,2612 869,2565 869.25,2600 869.5,2592 869.75,2592 870,2586 870.25,2579 870.5,2620 870.75,2577 871,2600 871.25,2594 871.5,2577 871.75,2598 872,2599 872.25,2627 872.5,2576 872.75,2606 873,2605 873.25,2614 873.5,2579 873.75,2601 874,2568 874.25,2602 874.5,2619 874.75,2628 875,2548 875.25,2587 875.5,2604 875.75,2558 876,2650 876.25,2604 876.5,2561 876.75,2665 877,2608 877.25,2557 877.5,2579 877.75,2583 878,2597 878.25,2635 878.5,2585 878.75,2589 879,2601 879.25,2613 879.5,2607 879.75,2573 880,2620 880.25,2583 880.5,2584 880.75,2655 881,2565 881.25,2602 881.5,2580 881.75,2618 882,2612 882.25,2584 882.5,2594 882.75,2593 883,2615 883.25,2568 883.5,2612 883.75,2611 884,2606 884.25,2596 884.5,2621 884.75,2619 885,2611 885.25,2609 885.5,2622 885.75,2622 886,2584 886.25,2582 886.5,2599 886.75,2593 887,2596 887.25,2604 887.5,2638 887.75,2611 888,2614 888.25,2627 888.5,2596 888.75,2603 889,2571 889.25,2592 889.5,2624 889.75,2602 890,2604 890.25,2644 890.5,2648 890.75,2615 891,2594 891.25,2585 891.5,2612 891.75,2589 892,2611 892.25,2601 892.5,2609 892.75,2604 893,2638 893.25,2609 893.5,2647 893.75,2604 894,2647 894.25,2593 894.5,2620 894.75,2607 895,2592 895.25,2658 895.5,2618 895.75,2594 896,2582 896.25,2627 896.5,2630 896.75,2618 897,2602 897.25,2605 897.5,2589 897.75,2604 898,2607 898.25,2629 898.5,2632 898.75,2593 899,2573 899.25,2654 899.5,2618 899.75,2600 900,2621 900.25,2599 900.5,2606 900.75,2564 901,2607 901.25,2650 901.5,2633 901.75,2611 902,2618 902.25,2631 902.5,2639 902.75,2600 903,2612 903.25,2621 903.5,2636 903.75,2611 904,2628 904.25,2635 904.5,2620 904.75,2630 905,2645 905.25,2595 905.5,2624 905.75,2627 906,2665 906.25,2581 906.5,2605 906.75,2591 907,2600 907.25,2628 907.5,2601 907.75,2619 908,2622 908.25,2618 908.5,2640 908.75,2630 909,2606 909.25,2614 909.5,2630 909.75,2612 910,2634 910.25,2624 910.5,2614 910.75,2618 911,2602 911.25,2632 911.5,2614 911.75,2611 912,2620 912.25,2671 912.5,2650 912.75,2614 913,2606 913.25,2642 913.5,2607 913.75,2652 914,2614 914.25,2651 914.5,2671 914.75,2623 915,2643 915.25,2646 915.5,2680 915.75,2681 916,2614 916.25,2658 916.5,2654 916.75,2639 917,2644 917.25,2611 917.5,2615 917.75,2632 918,2606 918.25,2642 918.5,2638 918.75,2667 919,2613 919.25,2664 919.5,2644 919.75,2643 920,2637 920.25,2638 920.5,2623 920.75,2618 921,2664 921.25,2591 921.5,2659 921.75,2647 922,2644 922.25,2662 922.5,2641 922.75,2646 923,2654 923.25,2639 923.5,2661 923.75,2660 924,2639 924.25,2651 924.5,2623 924.75,2648 925,2645 925.25,2612 925.5,2642 925.75,2653 926,2623 926.25,2616 926.5,2642 926.75,2631 927,2623 927.25,2644 927.5,2624 927.75,2646 928,2666 928.25,2650 928.5,2648 928.75,2623 929,2671 929.25,2639 929.5,2680 929.75,2634 930,2646 930.25,2619 930.5,2652 930.75,2617 931,2647 931.25,2680 931.5,2661 931.75,2619 932,2665 932.25,2622 932.5,2640 932.75,2635 933,2638 933.25,2645 933.5,2597 933.75,2668 934,2644 934.25,2625 934.5,2653 934.75,2677 935,2626 935.25,2661 935.5,2646 935.75,2649 936,2637 936.25,2649 936.5,2661 936.75,2617 937,2632 937.25,2638 937.5,2637 937.75,2614 938,2636 938.25,2625 938.5,2656 938.75,2648 939,2652 939.25,2657 939.5,2639 939.75,2629 940,2664 940.25,2641 940.5,2637 940.75,2683 941,2620 941.25,2668 941.5,2678 941.75,2644 942,2639 942.25,2659 942.5,2635 942.75,2611 943,2675 943.25,2685 943.5,2625 943.75,2667 944,2657 944.25,2653 944.5,2668 944.75,2645 945,2648 945.25,2657 945.5,2661 945.75,2605 946,2679 946.25,2667 946.5,2677 946.75,2652 947,2634 947.25,2667 947.5,2666 947.75,2676 948,2670 948.25,2638 948.5,2633 948.75,2651 949,2664 949.25,2654 949.5,2645 949.75,2659 950,2618 950.25,2653 950.5,2610 950.75,2689 951,2618 951.25,2692 951.5,2673 951.75,2676 952,2671 952.25,2647 952.5,2656 952.75,2687 953,2632 953.25,2649 953.5,2673 953.75,2640 954,2689 954.25,2629 954.5,2638 954.75,2654 955,2637 955.25,2647 955.5,2652 955.75,2649 956,2659 956.25,2660 956.5,2659 956.75,2656 957,2653 957.25,2659 957.5,2659 957.75,2668 958,2685 958.25,2638 958.5,2688 958.75,2669 959,2672 959.25,2641 959.5,2657 959.75,2658 960,2646 960.25,2666 960.5,2627 960.75,2633 961,2667 961.25,2658 961.5,2616 961.75,2658 962,2652 962.25,2666 962.5,2647 962.75,2648 963,2627 963.25,2644 963.5,2638 963.75,2657 964,2604 964.25,2645 964.5,2668 964.75,2589 965,2659 965.25,2653 965.5,2647 965.75,2651 966,2630 966.25,2661 966.5,2649 966.75,2606 967,2657 967.25,2619 967.5,2622 967.75,2650 968,2633 968.25,2645 968.5,2647 968.75,2639 969,2650 969.25,2609 969.5,2676 969.75,2659 970,2627 970.25,2636 970.5,2671 970.75,2622 971,2606 971.25,2683 971.5,2668 971.75,2648 972,2675 972.25,2650 972.5,2655 972.75,2652 973,2656 973.25,2620 973.5,2641 973.75,2647 974,2618 974.25,2613 974.5,2638 974.75,2672 975,2580 975.25,2661 975.5,2665 975.75,2667 976,2652 976.25,2603 976.5,2594 976.75,2616 977,2633 977.25,2636 977.5,2628 977.75,2631 978,2650 978.25,2613 978.5,2650 978.75,2649 979,2601 979.25,2641 979.5,2637 979.75,2648 980,2647 980.25,2592 980.5,2676 980.75,2639 981,2657 981.25,2655 981.5,2616 981.75,2635 982,2632 982.25,2681 982.5,2608 982.75,2668 983,2654 983.25,2634 983.5,2614 983.75,2632 984,2650 984.25,2616 984.5,2640 984.75,2648 985,2650 985.25,2628 985.5,2648 985.75,2650 986,2593 986.25,2610 986.5,2605 986.75,2619 987,2650 987.25,2644 987.5,2642 987.75,2623 988,2655 988.25,2600 988.5,2604 988.75,2648 989,2627 989.25,2655 989.5,2651 989.75,2653 990,2616 990.25,2621 990.5,2598 990.75,2632 991,2632 991.25,2620 991.5,2626 991.75,2636 992,2651 992.25,2619 992.5,2618 992.75,2629 993,2643 993.25,2670 993.5,2651 993.75,2580 994,2595 994.25,2614 994.5,2577 994.75,2645 995,2611 995.25,2602 995.5,2625 995.75,2636 996,2621 996.25,2628 996.5,2648 996.75,2606 997,2628 997.25,2589 997.5,2603 997.75,2649 998,2612 998.25,2607 998.5,2645 998.75,2618 999,2647 999.25,2668 999.5,2674 999.75,2623 1000,2634 1000.25,2615 1000.5,2663 1000.75,2639 1001,2686 1001.25,2617 1001.5,2625 1001.75,2566 1002,2611 1002.25,2613 1002.5,2636 1002.75,2646 1003,2609 1003.25,2623 1003.5,2638 1003.75,2624 1004,2639 1004.25,2658 1004.5,2612 1004.75,2631 1005,2649 1005.25,2627 1005.5,2657 1005.75,2618 1006,2648 1006.25,2630 1006.5,2637 1006.75,2611 1007,2647 1007.25,2600 1007.5,2647 1007.75,2625 1008,2630 1008.25,2652 1008.5,2595 1008.75,2640 1009,2632 1009.25,2614 1009.5,2641 1009.75,2624 1010,2663 1010.25,2614 1010.5,2657 1010.75,2653 1011,2632 1011.25,2610 1011.5,2623 1011.75,2597 1012,2609 1012.25,2611 1012.5,2631 1012.75,2594 1013,2633 1013.25,2614 1013.5,2643 1013.75,2636 1014,2611 1014.25,2628 1014.5,2628 1014.75,2612 1015,2618 1015.25,2620 1015.5,2602 1015.75,2597 1016,2627 1016.25,2586 1016.5,2633 1016.75,2640 1017,2614 1017.25,2632 1017.5,2607 1017.75,2637 1018,2687 1018.25,2633 1018.5,2622 1018.75,2622 1019,2594 1019.25,2608 1019.5,2617 1019.75,2610 1020,2624 1020.25,2649 1020.5,2593 1020.75,2609 1021,2625 1021.25,2598 1021.5,2603 1021.75,2632 1022,2634 1022.25,2629 1022.5,2601 1022.75,2633 1023,2639 1023.25,2612 1023.5,2623 1023.75,2616 1024,2616 1024.25,2611 1024.5,2630 1024.75,2605 1025,2657 1025.25,2635 1025.5,2617 1025.75,2668 1026,2625 1026.25,2575 1026.5,2645 1026.75,2636 1027,2621 1027.25,2623 1027.5,2610 1027.75,2598 1028,2599 1028.25,2674 1028.5,2609 1028.75,2625 1029,2659 1029.25,2607 1029.5,2620 1029.75,2613 1030,2591 1030.25,2632 1030.5,2635 1030.75,2617 1031,2618 1031.25,2635 1031.5,2636 1031.75,2663 1032,2637 1032.25,2639 1032.5,2609 1032.75,2594 1033,2649 1033.25,2605 1033.5,2637 1033.75,2624 1034,2606 1034.25,2628 1034.5,2658 1034.75,2651 1035,2613 1035.25,2617 1035.5,2581 1035.75,2598 1036,2611 1036.25,2623 1036.5,2632 1036.75,2614 1037,2648 1037.25,2604 1037.5,2637 1037.75,2602 1038,2616 1038.25,2627 1038.5,2639 1038.75,2609 1039,2615 1039.25,2618 1039.5,2629 1039.75,2653 1040,2638 1040.25,2617 1040.5,2617 1040.75,2649 1041,2651 1041.25,2645 1041.5,2623 1041.75,2605 1042,2608 1042.25,2626 1042.5,2602 1042.75,2620 1043,2668 1043.25,2631 1043.5,2641 1043.75,2603 1044,2652 1044.25,2616 1044.5,2625 1044.75,2628 1045,2625 1045.25,2613 1045.5,2637 1045.75,2666 1046,2617 1046.25,2641 1046.5,2602 1046.75,2631 1047,2611 1047.25,2653 1047.5,2616 1047.75,2637 1048,2626 1048.25,2600 1048.5,2625 1048.75,2624 1049,2641 1049.25,2621 1049.5,2588 1049.75,2604 1050,2614 1050.25,2638 1050.5,2617 1050.75,2643 1051,2618 1051.25,2632 1051.5,2644 1051.75,2627 1052,2590 1052.25,2647 1052.5,2620 1052.75,2640 1053,2567 1053.25,2623 1053.5,2623 1053.75,2614 1054,2621 1054.25,2603 1054.5,2604 1054.75,2633 1055,2619 1055.25,2638 1055.5,2631 1055.75,2609 1056,2623 1056.25,2616 1056.5,2634 1056.75,2657 1057,2624 1057.25,2613 1057.5,2667 1057.75,2618 1058,2608 1058.25,2616 1058.5,2579 1058.75,2654 1059,2646 1059.25,2645 1059.5,2634 1059.75,2619 1060,2612 1060.25,2607 1060.5,2638 1060.75,2642 1061,2639 1061.25,2602 1061.5,2662 1061.75,2607 1062,2623 1062.25,2622 1062.5,2613 1062.75,2577 1063,2598 1063.25,2611 1063.5,2643 1063.75,2614 1064,2629 1064.25,2598 1064.5,2615 1064.75,2647 1065,2660 1065.25,2630 1065.5,2634 1065.75,2625 1066,2620 1066.25,2624 1066.5,2643 1066.75,2608 1067,2599 1067.25,2634 1067.5,2610 1067.75,2630 1068,2600 1068.25,2627 1068.5,2613 1068.75,2611 1069,2636 1069.25,2609 1069.5,2572 1069.75,2596 1070,2617 1070.25,2655 1070.5,2614 1070.75,2597 1071,2610 1071.25,2643 1071.5,2629 1071.75,2632 1072,2633 1072.25,2653 1072.5,2596 1072.75,2649 1073,2635 1073.25,2603 1073.5,2637 1073.75,2651 1074,2618 1074.25,2644 1074.5,2579 1074.75,2592 1075,2633 1075.25,2625 1075.5,2637 1075.75,2633 1076,2641 1076.25,2593 1076.5,2594 1076.75,2647 1077,2631 1077.25,2625 1077.5,2620 1077.75,2657 1078,2609 1078.25,2632 1078.5,2654 1078.75,2612 1079,2612 1079.25,2618 1079.5,2583 1079.75,2647 1080,2644 1080.25,2662 1080.5,2624 1080.75,2634 1081,2639 1081.25,2659 1081.5,2632 1081.75,2636 1082,2612 1082.25,2633 1082.5,2626 1082.75,2647 1083,2641 1083.25,2603 1083.5,2604 1083.75,2633 1084,2617 1084.25,2632 1084.5,2649 1084.75,2600 1085,2633 1085.25,2605 1085.5,2624 1085.75,2622 1086,2603 1086.25,2577 1086.5,2616 1086.75,2599 1087,2627 1087.25,2626 1087.5,2643 1087.75,2635 1088,2584 1088.25,2588 1088.5,2605 1088.75,2620 1089,2628 1089.25,2609 1089.5,2630 1089.75,2604 1090,2645 1090.25,2614 1090.5,2613 1090.75,2614 1091,2624 1091.25,2654 1091.5,2628 1091.75,2644 1092,2609 1092.25,2638 1092.5,2640 1092.75,2645 1093,2605 1093.25,2606 1093.5,2625 1093.75,2637 1094,2607 1094.25,2628 1094.5,2657 1094.75,2584 1095,2599 1095.25,2620 1095.5,2634 1095.75,2624 1096,2635 1096.25,2653 1096.5,2615 1096.75,2607 1097,2714 1097.25,2590 1097.5,2642 1097.75,2652 1098,2631 1098.25,2614 1098.5,2628 1098.75,2614 1099,2666 1099.25,2638 1099.5,2626 1099.75,2634 1100,2636 1100.25,2646 1100.5,2632 1100.75,2609 1101,2619 1101.25,2603 1101.5,2597 1101.75,2630 1102,2614 1102.25,2622 1102.5,2638 1102.75,2644 1103,2627 1103.25,2614 1103.5,2639 1103.75,2609 1104,2656 1104.25,2616 1104.5,2648 1104.75,2604 1105,2642 1105.25,2634 1105.5,2622 1105.75,2647 1106,2636 1106.25,2627 1106.5,2623 1106.75,2635 1107,2628 1107.25,2609 1107.5,2611 1107.75,2622 1108,2601 1108.25,2585 1108.5,2642 1108.75,2613 1109,2671 1109.25,2629 1109.5,2641 1109.75,2640 1110,2626 1110.25,2617 1110.5,2592 1110.75,2602 1111,2597 1111.25,2595 1111.5,2593 1111.75,2628 1112,2584 1112.25,2657 1112.5,2607 1112.75,2632 1113,2630 1113.25,2633 1113.5,2622 1113.75,2620 1114,2626 1114.25,2642 1114.5,2638 1114.75,2628 1115,2594 1115.25,2606 1115.5,2625 1115.75,2648 1116,2653 1116.25,2612 1116.5,2631 1116.75,2612 1117,2604 1117.25,2625 1117.5,2635 1117.75,2628 1118,2576 1118.25,2647 1118.5,2580 1118.75,2645 1119,2652 1119.25,2688 1119.5,2593 1119.75,2613 1120,2626 1120.25,2632 1120.5,2614 1120.75,2646 1121,2615 1121.25,2624 1121.5,2623 1121.75,2639 1122,2633 1122.25,2591 1122.5,2640 1122.75,2603 1123,2604 1123.25,2608 1123.5,2619 1123.75,2636 1124,2636 1124.25,2593 1124.5,2622 1124.75,2645 1125,2642 1125.25,2627 1125.5,2609 1125.75,2636 1126,2618 1126.25,2595 1126.5,2572 1126.75,2634 1127,2648 1127.25,2664 1127.5,2651 1127.75,2633 1128,2621 1128.25,2627 1128.5,2637 1128.75,2599 1129,2626 1129.25,2616 1129.5,2637 1129.75,2636 1130,2579 1130.25,2590 1130.5,2622 1130.75,2633 1131,2605 1131.25,2625 1131.5,2622 1131.75,2611 1132,2609 1132.25,2629 1132.5,2646 1132.75,2610 1133,2633 1133.25,2626 1133.5,2611 1133.75,2610 1134,2602 1134.25,2625 1134.5,2634 1134.75,2616 1135,2585 1135.25,2623 1135.5,2619 1135.75,2613 1136,2644 1136.25,2604 1136.5,2614 1136.75,2624 1137,2651 1137.25,2599 1137.5,2625 1137.75,2583 1138,2607 1138.25,2615 1138.5,2594 1138.75,2632 1139,2626 1139.25,2605 1139.5,2623 1139.75,2606 1140,2615 1140.25,2616 1140.5,2648 1140.75,2602 1141,2632 1141.25,2644 1141.5,2622 1141.75,2633 1142,2662 1142.25,2599 1142.5,2598 1142.75,2633 1143,2622 1143.25,2652 1143.5,2610 1143.75,2623 1144,2635 1144.25,2578 1144.5,2651 1144.75,2623 1145,2603 1145.25,2609 1145.5,2611 1145.75,2649 1146,2604 1146.25,2649 1146.5,2610 1146.75,2631 1147,2614 1147.25,2621 1147.5,2642 1147.75,2620 1148,2610 1148.25,2642 1148.5,2663 1148.75,2618 1149,2616 1149.25,2611 1149.5,2594 1149.75,2606 1150,2629 1150.25,2609 1150.5,2628 1150.75,2625 1151,2634 1151.25,2652 1151.5,2620 1151.75,2593 1152,2626 1152.25,2632 1152.5,2657 1152.75,2622 1153,2607 1153.25,2602 1153.5,2633 1153.75,2616 1154,2641 1154.25,2648 1154.5,2621 1154.75,2632 1155,2622 1155.25,2633 1155.5,2593 1155.75,2603 1156,2654 1156.25,2590 1156.5,2599 1156.75,2632 1157,2601 1157.25,2611 1157.5,2602 1157.75,2650 1158,2618 1158.25,2653 1158.5,2625 1158.75,2587 1159,2623 1159.25,2583 1159.5,2640 1159.75,2575 1160,2642 1160.25,2631 1160.5,2651 1160.75,2629 1161,2626 1161.25,2612 1161.5,2607 1161.75,2605 1162,2613 1162.25,2615 1162.5,2668 1162.75,2629 1163,2602 1163.25,2648 1163.5,2622 1163.75,2605 1164,2622 1164.25,2606 1164.5,2631 1164.75,2613 1165,2642 1165.25,2595 1165.5,2624 1165.75,2593 1166,2657 1166.25,2596 1166.5,2660 1166.75,2615 1167,2641 1167.25,2603 1167.5,2613 1167.75,2649 1168,2592 1168.25,2632 1168.5,2587 1168.75,2663 1169,2642 1169.25,2582 1169.5,2612 1169.75,2642 1170,2667 1170.25,2618 1170.5,2581 1170.75,2646 1171,2603 1171.25,2619 1171.5,2609 1171.75,2590 1172,2572 1172.25,2651 1172.5,2621 1172.75,2619 1173,2606 1173.25,2626 1173.5,2595 1173.75,2594 1174,2589 1174.25,2587 1174.5,2623 1174.75,2586 1175,2656 1175.25,2614 1175.5,2607 1175.75,2612 1176,2650 1176.25,2568 1176.5,2617 1176.75,2654 1177,2640 1177.25,2624 1177.5,2609 1177.75,2666 1178,2608 1178.25,2657 1178.5,2597 1178.75,2584 1179,2617 1179.25,2608 1179.5,2566 1179.75,2616 1180,2669 1180.25,2614 1180.5,2626 1180.75,2616 1181,2617 1181.25,2622 1181.5,2620 1181.75,2617 1182,2625 1182.25,2626 1182.5,2620 1182.75,2585 1183,2599 1183.25,2592 1183.5,2611 1183.75,2649 1184,2623 1184.25,2608 1184.5,2659 1184.75,2634 1185,2603 1185.25,2627 1185.5,2639 1185.75,2637 1186,2605 1186.25,2622 1186.5,2604 1186.75,2589 1187,2628 1187.25,2576 1187.5,2614 1187.75,2639 1188,2630 1188.25,2617 1188.5,2626 1188.75,2621 1189,2646 1189.25,2629 1189.5,2634 1189.75,2604 1190,2616 1190.25,2608 1190.5,2640 1190.75,2637 1191,2622 1191.25,2637 1191.5,2621 1191.75,2616 1192,2632 1192.25,2626 1192.5,2668 1192.75,2594 1193,2641 1193.25,2601 1193.5,2637 1193.75,2600 1194,2585 1194.25,2653 1194.5,2617 1194.75,2655 1195,2606 1195.25,2604 1195.5,2646 1195.75,2608 1196,2622 1196.25,2602 1196.5,2615 1196.75,2575 1197,2612 1197.25,2617 1197.5,2639 1197.75,2640 1198,2618 1198.25,2622 1198.5,2619 1198.75,2665 1199,2605 1199.25,2638 1199.5,2623 1199.75,2594 1200,2632 1200.25,2645 1200.5,2627 1200.75,2597 1201,2633 1201.25,2634 1201.5,2612 1201.75,2639 1202,2587 1202.25,2595 1202.5,2613 1202.75,2620 1203,2639 1203.25,2640 1203.5,2605 1203.75,2642 1204,2653 1204.25,2638 1204.5,2618 1204.75,2615 1205,2603 1205.25,2580 1205.5,2604 1205.75,2590 1206,2624 1206.25,2623 1206.5,2628 1206.75,2627 1207,2630 1207.25,2609 1207.5,2613 1207.75,2629 1208,2650 1208.25,2583 1208.5,2597 1208.75,2614 1209,2598 1209.25,2607 1209.5,2619 1209.75,2602 1210,2635 1210.25,2633 1210.5,2634 1210.75,2628 1211,2635 1211.25,2557 1211.5,2636 1211.75,2600 1212,2664 1212.25,2605 1212.5,2626 1212.75,2588 1213,2595 1213.25,2624 1213.5,2627 1213.75,2651 1214,2637 1214.25,2646 1214.5,2660 1214.75,2588 1215,2650 1215.25,2603 1215.5,2626 1215.75,2618 1216,2638 1216.25,2637 1216.5,2632 1216.75,2611 1217,2581 1217.25,2621 1217.5,2619 1217.75,2621 1218,2632 1218.25,2660 1218.5,2643 1218.75,2629 1219,2609 1219.25,2594 1219.5,2651 1219.75,2634 1220,2621 1220.25,2588 1220.5,2613 1220.75,2633 1221,2629 1221.25,2611 1221.5,2624 1221.75,2615 1222,2612 1222.25,2649 1222.5,2635 1222.75,2627 1223,2611 1223.25,2648 1223.5,2592 1223.75,2625 1224,2597 1224.25,2576 1224.5,2610 1224.75,2576 1225,2612 1225.25,2589 1225.5,2618 1225.75,2608 1226,2585 1226.25,2609 1226.5,2601 1226.75,2648 1227,2647 1227.25,2634 1227.5,2636 1227.75,2668 1228,2624 1228.25,2622 1228.5,2651 1228.75,2632 1229,2600 1229.25,2652 1229.5,2623 1229.75,2649 1230,2652 1230.25,2611 1230.5,2620 1230.75,2631 1231,2592 1231.25,2599 1231.5,2622 1231.75,2619 1232,2599 1232.25,2617 1232.5,2627 1232.75,2604 1233,2602 1233.25,2615 1233.5,2595 1233.75,2600 1234,2609 1234.25,2576 1234.5,2605 1234.75,2622 1235,2595 1235.25,2641 1235.5,2624 1235.75,2645 1236,2616 1236.25,2631 1236.5,2616 1236.75,2595 1237,2630 1237.25,2602 1237.5,2629 1237.75,2596 1238,2618 1238.25,2611 1238.5,2643 1238.75,2611 1239,2641 1239.25,2629 1239.5,2649 1239.75,2609 1240,2638 1240.25,2637 1240.5,2632 1240.75,2624 1241,2648 1241.25,2590 1241.5,2634 1241.75,2606 1242,2629 1242.25,2636 1242.5,2626 1242.75,2613 1243,2598 1243.25,2587 1243.5,2603 1243.75,2627 1244,2586 1244.25,2671 1244.5,2616 1244.75,2601 1245,2639 1245.25,2641 1245.5,2626 1245.75,2602 1246,2619 1246.25,2642 1246.5,2634 1246.75,2576 1247,2634 1247.25,2654 1247.5,2603 1247.75,2578 1248,2601 1248.25,2619 1248.5,2613 1248.75,2613 1249,2553 1249.25,2602 1249.5,2601 1249.75,2615 1250,2640 1250.25,2600 1250.5,2639 1250.75,2645 1251,2637 1251.25,2605 1251.5,2644 1251.75,2607 1252,2611 1252.25,2584 1252.5,2595 1252.75,2597 1253,2644 1253.25,2623 1253.5,2622 1253.75,2608 1254,2607 1254.25,2595 1254.5,2608 1254.75,2644 1255,2611 1255.25,2658 1255.5,2627 1255.75,2608 1256,2643 1256.25,2615 1256.5,2637 1256.75,2605 1257,2646 1257.25,2624 1257.5,2620 1257.75,2636 1258,2605 1258.25,2572 1258.5,2598 1258.75,2635 1259,2648 1259.25,2587 1259.5,2627 1259.75,2628 1260,2587 1260.25,2579 1260.5,2652 1260.75,2624 1261,2608 1261.25,2627 1261.5,2581 1261.75,2623 1262,2613 1262.25,2608 1262.5,2638 1262.75,2615 1263,2615 1263.25,2605 1263.5,2597 1263.75,2611 1264,2645 1264.25,2572 1264.5,2591 1264.75,2600 1265,2626 1265.25,2599 1265.5,2625 1265.75,2568 1266,2590 1266.25,2627 1266.5,2562 1266.75,2618 1267,2640 1267.25,2627 1267.5,2628 1267.75,2594 1268,2600 1268.25,2634 1268.5,2619 1268.75,2649 1269,2621 1269.25,2616 1269.5,2613 1269.75,2644 1270,2634 1270.25,2602 1270.5,2625 1270.75,2595 1271,2632 1271.25,2608 1271.5,2643 1271.75,2645 1272,2630 1272.25,2580 1272.5,2602 1272.75,2620 1273,2619 1273.25,2621 1273.5,2635 1273.75,2599 1274,2587 1274.25,2584 1274.5,2637 1274.75,2632 1275,2603 1275.25,2612 1275.5,2640 1275.75,2605 1276,2627 1276.25,2629 1276.5,2618 1276.75,2630 1277,2636 1277.25,2604 1277.5,2576 1277.75,2609 1278,2580 1278.25,2575 1278.5,2627 1278.75,2590 1279,2602 1279.25,2615 1279.5,2592 1279.75,2624 1280,2652 1280.25,2593 1280.5,2611 1280.75,2555 1281,2592 1281.25,2648 1281.5,2609 1281.75,2601 1282,2621 1282.25,2604 1282.5,2642 1282.75,2608 1283,2597 1283.25,2605 1283.5,2555 1283.75,2620 1284,2623 1284.25,2571 1284.5,2552 1284.75,2598 1285,2615 1285.25,2643 1285.5,2591 1285.75,2593 1286,2609 1286.25,2638 1286.5,2590 1286.75,2601 1287,2594 1287.25,2630 1287.5,2642 1287.75,2655 1288,2645 1288.25,2630 1288.5,2598 1288.75,2621 1289,2638 1289.25,2628 1289.5,2592 1289.75,2605 1290,2602 1290.25,2632 1290.5,2617 1290.75,2602 1291,2626 1291.25,2620 1291.5,2597 1291.75,2634 1292,2613 1292.25,2608 1292.5,2590 1292.75,2613 1293,2622 1293.25,2562 1293.5,2595 1293.75,2603 1294,2621 1294.25,2582 1294.5,2653 1294.75,2604 1295,2590 1295.25,2606 1295.5,2628 1295.75,2609 1296,2593 1296.25,2614 1296.5,2616 1296.75,2612 1297,2588 1297.25,2616 1297.5,2681 1297.75,2605 1298,2614 1298.25,2564 1298.5,2609 1298.75,2616 1299,2599 1299.25,2605 1299.5,2587 1299.75,2626 1300,2609 1300.25,2582 1300.5,2601 1300.75,2614 1301,2613 1301.25,2662 1301.5,2606 1301.75,2610 1302,2589 1302.25,2620 1302.5,2589 1302.75,2618 1303,2593 1303.25,2590 1303.5,2590 1303.75,2651 1304,2583 1304.25,2630 1304.5,2609 1304.75,2581 1305,2602 1305.25,2592 1305.5,2616 1305.75,2633 1306,2651 1306.25,2597 1306.5,2596 1306.75,2594 1307,2609 1307.25,2592 1307.5,2647 1307.75,2607 1308,2604 1308.25,2543 1308.5,2612 1308.75,2587 1309,2660 1309.25,2622 1309.5,2601 1309.75,2620 1310,2650 1310.25,2617 1310.5,2626 1310.75,2569 1311,2592 1311.25,2581 1311.5,2617 1311.75,2576 1312,2570 1312.25,2598 1312.5,2604 1312.75,2620 1313,2642 1313.25,2635 1313.5,2610 1313.75,2612 1314,2567 1314.25,2633 1314.5,2589 1314.75,2598 1315,2606 1315.25,2585 1315.5,2601 1315.75,2627 1316,2637 1316.25,2648 1316.5,2626 1316.75,2596 1317,2617 1317.25,2584 1317.5,2554 1317.75,2617 1318,2596 1318.25,2596 1318.5,2582 1318.75,2647 1319,2608 1319.25,2634 1319.5,2608 1319.75,2612 1320,2610 1320.25,2638 1320.5,2564 1320.75,2599 1321,2591 1321.25,2615 1321.5,2593 1321.75,2606 1322,2592 1322.25,2585 1322.5,2614 1322.75,2627 1323,2611 1323.25,2574 1323.5,2587 1323.75,2621 1324,2596 1324.25,2622 1324.5,2606 1324.75,2636 1325,2582 1325.25,2609 1325.5,2623 1325.75,2615 1326,2576 1326.25,2586 1326.5,2594 1326.75,2579 1327,2593 1327.25,2592 1327.5,2595 1327.75,2595 1328,2586 1328.25,2621 1328.5,2626 1328.75,2601 1329,2632 1329.25,2631 1329.5,2596 1329.75,2643 1330,2637 1330.25,2624 1330.5,2597 1330.75,2613 1331,2594 1331.25,2622 1331.5,2599 1331.75,2580 1332,2580 1332.25,2592 1332.5,2584 1332.75,2615 1333,2621 1333.25,2608 1333.5,2596 1333.75,2599 1334,2593 1334.25,2586 1334.5,2614 1334.75,2591 1335,2616 1335.25,2582 1335.5,2577 1335.75,2610 1336,2664 1336.25,2605 1336.5,2586 1336.75,2636 1337,2605 1337.25,2596 1337.5,2578 1337.75,2620 1338,2593 1338.25,2584 1338.5,2596 1338.75,2627 1339,2621 1339.25,2578 1339.5,2559 1339.75,2637 1340,2605 1340.25,2648 1340.5,2611 1340.75,2614 1341,2602 1341.25,2604 1341.5,2608 1341.75,2604 1342,2638 1342.25,2599 1342.5,2595 1342.75,2628 1343,2582 1343.25,2596 1343.5,2604 1343.75,2569 1344,2611 1344.25,2600 1344.5,2620 1344.75,2607 1345,2574 1345.25,2570 1345.5,2584 1345.75,2595 1346,2597 1346.25,2595 1346.5,2613 1346.75,2574 1347,2588 1347.25,2634 1347.5,2600 1347.75,2601 1348,2618 1348.25,2574 1348.5,2609 1348.75,2600 1349,2586 1349.25,2607 1349.5,2634 1349.75,2609 1350,2599 1350.25,2637 1350.5,2615 1350.75,2646 1351,2631 1351.25,2606 1351.5,2589 1351.75,2596 1352,2627 1352.25,2575 1352.5,2655 1352.75,2548 1353,2612 1353.25,2626 1353.5,2583 1353.75,2553 1354,2589 1354.25,2591 1354.5,2620 1354.75,2599 1355,2605 1355.25,2597 1355.5,2632 1355.75,2590 1356,2596 1356.25,2606 1356.5,2662 1356.75,2533 1357,2551 1357.25,2586 1357.5,2579 1357.75,2597 1358,2616 1358.25,2614 1358.5,2594 1358.75,2584 1359,2595 1359.25,2583 1359.5,2644 1359.75,2627 1360,2598 1360.25,2616 1360.5,2590 1360.75,2600 1361,2604 1361.25,2575 1361.5,2602 1361.75,2587 1362,2612 1362.25,2578 1362.5,2587 1362.75,2613 1363,2634 1363.25,2613 1363.5,2609 1363.75,2569 1364,2588 1364.25,2604 1364.5,2600 1364.75,2603 1365,2626 1365.25,2631 1365.5,2589 1365.75,2583 1366,2565 1366.25,2603 1366.5,2615 1366.75,2629 1367,2585 1367.25,2591 1367.5,2582 1367.75,2650 1368,2638 1368.25,2591 1368.5,2607 1368.75,2584 1369,2593 1369.25,2650 1369.5,2595 1369.75,2597 1370,2601 1370.25,2571 1370.5,2565 1370.75,2555 1371,2623 1371.25,2583 1371.5,2587 1371.75,2621 1372,2576 1372.25,2590 1372.5,2582 1372.75,2609 1373,2594 1373.25,2562 1373.5,2622 1373.75,2629 1374,2607 1374.25,2593 1374.5,2597 1374.75,2573 1375,2592 1375.25,2623 1375.5,2606 1375.75,2569 1376,2568 1376.25,2593 1376.5,2627 1376.75,2609 1377,2598 1377.25,2618 1377.5,2582 1377.75,2607 1378,2592 1378.25,2573 1378.5,2611 1378.75,2570 1379,2598 1379.25,2621 1379.5,2570 1379.75,2627 1380,2630 1380.25,2616 1380.5,2593 1380.75,2593 1381,2593 1381.25,2599 1381.5,2578 1381.75,2606 1382,2631 1382.25,2568 1382.5,2635 1382.75,2574 1383,2579 1383.25,2589 1383.5,2597 1383.75,2602 1384,2635 1384.25,2611 1384.5,2626 1384.75,2588 1385,2609 1385.25,2559 1385.5,2572 1385.75,2651 1386,2596 1386.25,2612 1386.5,2617 1386.75,2613 1387,2567 1387.25,2601 1387.5,2648 1387.75,2621 1388,2588 1388.25,2598 1388.5,2586 1388.75,2601 1389,2599 1389.25,2597 1389.5,2580 1389.75,2557 1390,2607 1390.25,2601 1390.5,2608 1390.75,2622 1391,2592 1391.25,2624 1391.5,2594 1391.75,2619 1392,2612 1392.25,2580 1392.5,2619 1392.75,2608 1393,2600 1393.25,2595 1393.5,2599 1393.75,2581 1394,2570 1394.25,2596 1394.5,2616 1394.75,2594 1395,2614 1395.25,2563 1395.5,2634 1395.75,2603 1396,2591 1396.25,2598 1396.5,2605 1396.75,2599 1397,2605 1397.25,2568 1397.5,2610 1397.75,2593 1398,2572 1398.25,2615 1398.5,2597 1398.75,2631 1399,2583 1399.25,2626 1399.5,2609 1399.75,2580 1400,2617 1400.25,2609 1400.5,2618 1400.75,2584 1401,2543 1401.25,2586 1401.5,2599 1401.75,2616 1402,2622 1402.25,2624 1402.5,2609 1402.75,2600 1403,2586 1403.25,2607 1403.5,2586 1403.75,2602 1404,2588 1404.25,2612 1404.5,2588 1404.75,2582 1405,2584 1405.25,2608 1405.5,2584 1405.75,2623 1406,2573 1406.25,2601 1406.5,2588 1406.75,2569 1407,2593 1407.25,2604 1407.5,2608 1407.75,2588 1408,2571 1408.25,2578 1408.5,2582 1408.75,2635 1409,2567 1409.25,2591 1409.5,2643 1409.75,2569 1410,2630 1410.25,2625 1410.5,2612 1410.75,2605 1411,2555 1411.25,2591 1411.5,2588 1411.75,2620 1412,2619 1412.25,2567 1412.5,2539 1412.75,2575 1413,2636 1413.25,2595 1413.5,2593 1413.75,2608 1414,2587 1414.25,2600 1414.5,2574 1414.75,2575 1415,2604 1415.25,2597 1415.5,2608 1415.75,2594 1416,2614 1416.25,2602 1416.5,2600 1416.75,2616 1417,2595 1417.25,2567 1417.5,2573 1417.75,2587 1418,2615 1418.25,2579 1418.5,2585 1418.75,2620 1419,2625 1419.25,2561 1419.5,2566 1419.75,2588 1420,2594 1420.25,2579 1420.5,2559 1420.75,2639 1421,2599 1421.25,2624 1421.5,2609 1421.75,2605 1422,2553 1422.25,2599 1422.5,2595 1422.75,2595 1423,2575 1423.25,2564 1423.5,2593 1423.75,2606 1424,2614 1424.25,2595 1424.5,2553 1424.75,2583 1425,2580 1425.25,2575 1425.5,2564 1425.75,2604 1426,2575 1426.25,2592 1426.5,2602 1426.75,2572 1427,2583 1427.25,2575 1427.5,2615 1427.75,2573 1428,2555 1428.25,2610 1428.5,2536 1428.75,2621 1429,2600 1429.25,2599 1429.5,2599 1429.75,2592 1430,2600 1430.25,2534 1430.5,2581 1430.75,2562 1431,2545 1431.25,2560 1431.5,2579 1431.75,2592 1432,2526 1432.25,2566 1432.5,2618 1432.75,2601 1433,2567 1433.25,2567 1433.5,2589 1433.75,2604 1434,2574 1434.25,2583 1434.5,2606 1434.75,2552 1435,2588 1435.25,2580 1435.5,2563 1435.75,2590 1436,2603 1436.25,2578 1436.5,2573 1436.75,2614 1437,2589 1437.25,2566 1437.5,2592 1437.75,2601 1438,2582 1438.25,2545 1438.5,2573 1438.75,2561 1439,2620 1439.25,2569 1439.5,2624 1439.75,2587 1440,2588 1440.25,2592 1440.5,2621 1440.75,2563 1441,2577 1441.25,2579 1441.5,2594 1441.75,2573 1442,2589 1442.25,2605 1442.5,2577 1442.75,2614 1443,2586 1443.25,2583 1443.5,2600 1443.75,2579 1444,2596 1444.25,2573 1444.5,2560 1444.75,2593 1445,2602 1445.25,2585 1445.5,2605 1445.75,2577 1446,2632 1446.25,2581 1446.5,2598 1446.75,2585 1447,2583 1447.25,2567 1447.5,2617 1447.75,2583 1448,2573 1448.25,2611 1448.5,2609 1448.75,2572 1449,2602 1449.25,2612 1449.5,2592 1449.75,2561 1450,2586 1450.25,2572 1450.5,2561 1450.75,2593 1451,2602 1451.25,2539 1451.5,2579 1451.75,2569 1452,2596 1452.25,2575 1452.5,2558 1452.75,2618 1453,2584 1453.25,2616 1453.5,2592 1453.75,2568 1454,2557 1454.25,2556 1454.5,2581 1454.75,2590 1455,2616 1455.25,2562 1455.5,2589 1455.75,2604 1456,2617 1456.25,2609 1456.5,2601 1456.75,2603 1457,2560 1457.25,2590 1457.5,2561 1457.75,2634 1458,2610 1458.25,2585 1458.5,2582 1458.75,2582 1459,2601 1459.25,2582 1459.5,2586 1459.75,2569 1460,2601 1460.25,2603 1460.5,2567 1460.75,2603 1461,2586 1461.25,2608 1461.5,2610 1461.75,2578 1462,2602 1462.25,2613 1462.5,2563 1462.75,2590 1463,2566 1463.25,2602 1463.5,2553 1463.75,2608 1464,2582 1464.25,2603 1464.5,2633 1464.75,2589 1465,2568 1465.25,2565 1465.5,2605 1465.75,2561 1466,2557 1466.25,2597 1466.5,2617 1466.75,2596 1467,2630 1467.25,2616 1467.5,2606 1467.75,2599 1468,2598 1468.25,2599 1468.5,2612 1468.75,2592 1469,2557 1469.25,2552 1469.5,2566 1469.75,2589 1470,2555 1470.25,2584 1470.5,2594 1470.75,2613 1471,2569 1471.25,2568 1471.5,2561 1471.75,2562 1472,2579 1472.25,2620 1472.5,2518 1472.75,2587 1473,2593 1473.25,2617 1473.5,2615 1473.75,2594 1474,2550 1474.25,2569 1474.5,2579 1474.75,2570 1475,2603 1475.25,2576 1475.5,2562 1475.75,2586 1476,2604 1476.25,2575 1476.5,2564 1476.75,2569 1477,2588 1477.25,2593 1477.5,2573 1477.75,2571 1478,2603 1478.25,2635 1478.5,2644 1478.75,2639 1479,2574 1479.25,2592 1479.5,2587 1479.75,2578 1480,2577 1480.25,2589 1480.5,2599 1480.75,2618 1481,2618 1481.25,2583 1481.5,2583 1481.75,2610 1482,2604 1482.25,2579 1482.5,2591 1482.75,2551 1483,2596 1483.25,2564 1483.5,2596 1483.75,2528 1484,2590 1484.25,2563 1484.5,2578 1484.75,2591 1485,2575 1485.25,2624 1485.5,2610 1485.75,2581 1486,2626 1486.25,2588 1486.5,2594 1486.75,2628 1487,2631 1487.25,2590 1487.5,2606 1487.75,2588 1488,2612 1488.25,2585 1488.5,2615 1488.75,2554 1489,2598 1489.25,2616 1489.5,2594 1489.75,2554 1490,2594 1490.25,2566 1490.5,2579 1490.75,2591 1491,2627 1491.25,2586 1491.5,2564 1491.75,2627 1492,2583 1492.25,2575 1492.5,2583 1492.75,2582 1493,2616 1493.25,2542 1493.5,2569 1493.75,2604 1494,2590 1494.25,2584 1494.5,2545 1494.75,2605 1495,2575 1495.25,2616 1495.5,2537 1495.75,2594 1496,2598 1496.25,2621 1496.5,2589 1496.75,2572 1497,2592 1497.25,2579 1497.5,2589 1497.75,2543 1498,2586 1498.25,2590 1498.5,2591 1498.75,2587 1499,2626 1499.25,2630 1499.5,2611 1499.75,2590 1500,2619 1500.25,2592 1500.5,2581 1500.75,2577 1501,2587 1501.25,2621 1501.5,2618 1501.75,2616 1502,2598 1502.25,2577 1502.5,2596 1502.75,2589 1503,2576 1503.25,2612 1503.5,2556 1503.75,2560 1504,2564 1504.25,2578 1504.5,2587 1504.75,2607 1505,2609 1505.25,2581 1505.5,2578 1505.75,2592 1506,2613 1506.25,2600 1506.5,2605 1506.75,2611 1507,2600 1507.25,2593 1507.5,2548 1507.75,2581 1508,2565 1508.25,2575 1508.5,2585 1508.75,2606 1509,2614 1509.25,2574 1509.5,2604 1509.75,2606 1510,2552 1510.25,2600 1510.5,2592 1510.75,2555 1511,2597 1511.25,2609 1511.5,2611 1511.75,2584 1512,2611 1512.25,2617 1512.5,2609 1512.75,2564 1513,2614 1513.25,2583 1513.5,2583 1513.75,2622 1514,2626 1514.25,2628 1514.5,2533 1514.75,2625 1515,2549 1515.25,2607 1515.5,2568 1515.75,2601 1516,2617 1516.25,2615 1516.5,2588 1516.75,2537 1517,2580 1517.25,2582 1517.5,2594 1517.75,2614 1518,2577 1518.25,2610 1518.5,2575 1518.75,2581 1519,2602 1519.25,2611 1519.5,2615 1519.75,2582 1520,2609 1520.25,2571 1520.5,2641 1520.75,2610 1521,2597 1521.25,2576 1521.5,2583 1521.75,2599 1522,2580 1522.25,2597 1522.5,2575 1522.75,2580 1523,2617 1523.25,2575 1523.5,2586 1523.75,2575 1524,2607 1524.25,2574 1524.5,2588 1524.75,2596 1525,2588 1525.25,2607 1525.5,2601 1525.75,2599 1526,2583 1526.25,2590 1526.5,2577 1526.75,2579 1527,2573 1527.25,2627 1527.5,2614 1527.75,2571 1528,2593 1528.25,2613 1528.5,2592 1528.75,2631 1529,2569 1529.25,2598 1529.5,2549 1529.75,2622 1530,2580 1530.25,2599 1530.5,2617 1530.75,2593 1531,2585 1531.25,2580 1531.5,2626 1531.75,2629 1532,2585 1532.25,2625 1532.5,2582 1532.75,2546 1533,2580 1533.25,2577 1533.5,2600 1533.75,2602 1534,2577 1534.25,2576 1534.5,2589 1534.75,2540 1535,2605 1535.25,2613 1535.5,2593 1535.75,2561 1536,2588 1536.25,2574 1536.5,2578 1536.75,2627 1537,2586 1537.25,2577 1537.5,2605 1537.75,2561 1538,2628 1538.25,2600 1538.5,2597 1538.75,2599 1539,2560 1539.25,2603 1539.5,2602 1539.75,2592 1540,2573 1540.25,2589 1540.5,2622 1540.75,2575 1541,2600 1541.25,2610 1541.5,2565 1541.75,2581 1542,2598 1542.25,2619 1542.5,2598 1542.75,2578 1543,2591 1543.25,2553 1543.5,2602 1543.75,2589 1544,2586 1544.25,2592 1544.5,2595 1544.75,2569 1545,2636 1545.25,2568 1545.5,2593 1545.75,2592 1546,2555 1546.25,2585 1546.5,2569 1546.75,2561 1547,2551 1547.25,2588 1547.5,2610 1547.75,2606 1548,2587 1548.25,2598 1548.5,2542 1548.75,2596 1549,2577 1549.25,2603 1549.5,2605 1549.75,2590 1550,2584 1550.25,2584 1550.5,2628 1550.75,2582 1551,2597 1551.25,2608 1551.5,2619 1551.75,2559 1552,2592 1552.25,2564 1552.5,2582 1552.75,2605 1553,2552 1553.25,2593 1553.5,2587 1553.75,2608 1554,2590 1554.25,2594 1554.5,2584 1554.75,2614 1555,2605 1555.25,2596 1555.5,2521 1555.75,2604 1556,2576 1556.25,2604 1556.5,2598 1556.75,2603 1557,2582 1557.25,2594 1557.5,2586 1557.75,2558 1558,2598 1558.25,2573 1558.5,2591 1558.75,2611 1559,2617 1559.25,2601 1559.5,2596 1559.75,2590 1560,2573 1560.25,2600 1560.5,2598 1560.75,2578 1561,2601 1561.25,2566 1561.5,2599 1561.75,2576 1562,2573 1562.25,2573 1562.5,2580 1562.75,2570 1563,2592 1563.25,2593 1563.5,2653 1563.75,2555 1564,2583 1564.25,2608 1564.5,2622 1564.75,2591 1565,2611 1565.25,2583 1565.5,2608 1565.75,2580 1566,2564 1566.25,2594 1566.5,2586 1566.75,2591 1567,2581 1567.25,2559 1567.5,2582 1567.75,2578 1568,2565 1568.25,2572 1568.5,2588 1568.75,2590 1569,2571 1569.25,2566 1569.5,2575 1569.75,2573 1570,2584 1570.25,2624 1570.5,2582 1570.75,2549 1571,2620 1571.25,2588 1571.5,2580 1571.75,2599 1572,2578 1572.25,2624 1572.5,2588 1572.75,2588 1573,2580 1573.25,2597 1573.5,2584 1573.75,2580 1574,2585 1574.25,2571 1574.5,2606 1574.75,2617 1575,2567 1575.25,2580 1575.5,2598 1575.75,2562 1576,2573 1576.25,2600 1576.5,2591 1576.75,2595 1577,2549 1577.25,2613 1577.5,2592 1577.75,2587 1578,2629 1578.25,2610 1578.5,2558 1578.75,2630 1579,2577 1579.25,2586 1579.5,2565 1579.75,2622 1580,2590 1580.25,2602 1580.5,2612 1580.75,2593 1581,2549 1581.25,2626 1581.5,2585 1581.75,2560 1582,2584 1582.25,2585 1582.5,2583 1582.75,2590 1583,2602 1583.25,2632 1583.5,2612 1583.75,2596 1584,2640 1584.25,2595 1584.5,2644 1584.75,2594 1585,2557 1585.25,2623 1585.5,2589 1585.75,2587 1586,2591 1586.25,2595 1586.5,2607 1586.75,2592 1587,2566 1587.25,2602 1587.5,2604 1587.75,2586 1588,2601 1588.25,2607 1588.5,2555 1588.75,2551 1589,2576 1589.25,2613 1589.5,2560 1589.75,2618 1590,2582 1590.25,2603 1590.5,2583 1590.75,2581 1591,2523 1591.25,2576 1591.5,2571 1591.75,2577 1592,2585 1592.25,2585 1592.5,2563 1592.75,2583 1593,2587 1593.25,2607 1593.5,2607 1593.75,2597 1594,2599 1594.25,2569 1594.5,2584 1594.75,2611 1595,2603 1595.25,2627 1595.5,2641 1595.75,2635 1596,2583 1596.25,2583 1596.5,2589 1596.75,2625 1597,2604 1597.25,2590 1597.5,2572 1597.75,2595 1598,2591 1598.25,2624 1598.5,2651 1598.75,2567 1599,2564 1599.25,2616 1599.5,2613 1599.75,2585 1600,2606 1600.25,2606 1600.5,2575 1600.75,2614 1601,2587 1601.25,2604 1601.5,2628 1601.75,2578 1602,2618 1602.25,2617 1602.5,2634 1602.75,2582 1603,2609 1603.25,2568 1603.5,2600 1603.75,2631 1604,2642 1604.25,2616 1604.5,2579 1604.75,2567 1605,2610 1605.25,2588 1605.5,2611 1605.75,2603 1606,2603 1606.25,2638 1606.5,2572 1606.75,2599 1607,2621 1607.25,2637 1607.5,2580 1607.75,2576 1608,2592 1608.25,2565 1608.5,2577 1608.75,2634 1609,2584 1609.25,2574 1609.5,2593 1609.75,2606 1610,2586 1610.25,2603 1610.5,2623 1610.75,2619 1611,2598 1611.25,2630 1611.5,2639 1611.75,2616 1612,2562 1612.25,2625 1612.5,2598 1612.75,2625 1613,2591 1613.25,2589 1613.5,2591 1613.75,2594 1614,2641 1614.25,2593 1614.5,2595 1614.75,2608 1615,2580 1615.25,2593 1615.5,2583 1615.75,2625 1616,2574 1616.25,2603 1616.5,2610 1616.75,2633 1617,2624 1617.25,2612 1617.5,2586 1617.75,2658 1618,2637 1618.25,2617 1618.5,2576 1618.75,2596 1619,2582 1619.25,2581 1619.5,2589 1619.75,2573 1620,2578 1620.25,2594 1620.5,2599 1620.75,2563 1621,2599 1621.25,2640 1621.5,2601 1621.75,2594 1622,2593 1622.25,2654 1622.5,2624 1622.75,2625 1623,2619 1623.25,2608 1623.5,2649 1623.75,2603 1624,2562 1624.25,2620 1624.5,2628 1624.75,2615 1625,2623 1625.25,2620 1625.5,2618 1625.75,2655 1626,2644 1626.25,2625 1626.5,2616 1626.75,2603 1627,2588 1627.25,2585 1627.5,2587 1627.75,2607 1628,2607 1628.25,2627 1628.5,2616 1628.75,2570 1629,2576 1629.25,2598 1629.5,2667 1629.75,2604 1630,2626 1630.25,2619 1630.5,2603 1630.75,2629 1631,2570 1631.25,2592 1631.5,2580 1631.75,2622 1632,2659 1632.25,2605 1632.5,2590 1632.75,2590 1633,2614 1633.25,2611 1633.5,2623 1633.75,2601 1634,2600 1634.25,2640 1634.5,2643 1634.75,2631 1635,2597 1635.25,2643 1635.5,2685 1635.75,2596 1636,2635 1636.25,2614 1636.5,2627 1636.75,2624 1637,2632 1637.25,2605 1637.5,2623 1637.75,2606 1638,2625 1638.25,2620 1638.5,2604 1638.75,2617 1639,2608 1639.25,2626 1639.5,2624 1639.75,2625 1640,2571 1640.25,2615 1640.5,2605 1640.75,2607 1641,2639 1641.25,2636 1641.5,2621 1641.75,2651 1642,2648 1642.25,2628 1642.5,2642 1642.75,2660 1643,2600 1643.25,2596 1643.5,2601 1643.75,2614 1644,2621 1644.25,2649 1644.5,2609 1644.75,2655 1645,2652 1645.25,2652 1645.5,2625 1645.75,2607 1646,2651 1646.25,2635 1646.5,2620 1646.75,2644 1647,2633 1647.25,2610 1647.5,2636 1647.75,2629 1648,2621 1648.25,2635 1648.5,2609 1648.75,2627 1649,2614 1649.25,2642 1649.5,2628 1649.75,2621 1650,2645 1650.25,2613 1650.5,2610 1650.75,2649 1651,2607 1651.25,2656 1651.5,2647 1651.75,2619 1652,2613 1652.25,2670 1652.5,2629 1652.75,2620 1653,2616 1653.25,2607 1653.5,2673 1653.75,2641 1654,2631 1654.25,2618 1654.5,2621 1654.75,2648 1655,2583 1655.25,2615 1655.5,2611 1655.75,2599 1656,2647 1656.25,2618 1656.5,2655 1656.75,2654 1657,2610 1657.25,2653 1657.5,2637 1657.75,2627 1658,2657 1658.25,2637 1658.5,2635 1658.75,2602 1659,2651 1659.25,2627 1659.5,2658 1659.75,2627 1660,2653 1660.25,2635 1660.5,2646 1660.75,2588 1661,2632 1661.25,2627 1661.5,2626 1661.75,2607 1662,2591 1662.25,2645 1662.5,2630 1662.75,2634 1663,2652 1663.25,2618 1663.5,2659 1663.75,2645 1664,2637 1664.25,2633 1664.5,2669 1664.75,2641 1665,2646 1665.25,2611 1665.5,2640 1665.75,2609 1666,2617 1666.25,2639 1666.5,2625 1666.75,2592 1667,2608 1667.25,2618 1667.5,2642 1667.75,2619 1668,2653 1668.25,2633 1668.5,2610 1668.75,2665 1669,2628 1669.25,2621 1669.5,2617 1669.75,2629 1670,2622 1670.25,2636 1670.5,2647 1670.75,2634 1671,2616 1671.25,2653 1671.5,2626 1671.75,2640 1672,2585 1672.25,2654 1672.5,2618 1672.75,2649 1673,2607 1673.25,2627 1673.5,2660 1673.75,2656 1674,2638 1674.25,2647 1674.5,2588 1674.75,2618 1675,2627 1675.25,2589 1675.5,2620 1675.75,2636 1676,2650 1676.25,2626 1676.5,2658 1676.75,2686 1677,2629 1677.25,2646 1677.5,2645 1677.75,2660 1678,2587 1678.25,2640 1678.5,2620 1678.75,2604 1679,2605 1679.25,2622 1679.5,2640 1679.75,2618 1680,2599 1680.25,2626 1680.5,2658 1680.75,2610 1681,2644 1681.25,2656 1681.5,2628 1681.75,2615 1682,2611 1682.25,2658 1682.5,2645 1682.75,2630 1683,2636 1683.25,2617 1683.5,2627 1683.75,2664 1684,2643 1684.25,2642 1684.5,2646 1684.75,2620 1685,2637 1685.25,2607 1685.5,2582 1685.75,2629 1686,2620 1686.25,2617 1686.5,2600 1686.75,2623 1687,2624 1687.25,2611 1687.5,2613 1687.75,2603 1688,2616 1688.25,2644 1688.5,2608 1688.75,2645 1689,2601 1689.25,2614 1689.5,2690 1689.75,2599 1690,2648 1690.25,2611 1690.5,2635 1690.75,2640 1691,2648 1691.25,2627 1691.5,2617 1691.75,2680 1692,2643 1692.25,2643 1692.5,2613 1692.75,2607 1693,2642 1693.25,2661 1693.5,2618 1693.75,2606 1694,2650 1694.25,2618 1694.5,2640 1694.75,2608 1695,2630 1695.25,2614 1695.5,2622 1695.75,2614 1696,2636 1696.25,2624 1696.5,2636 1696.75,2620 1697,2654 1697.25,2616 1697.5,2624 1697.75,2653 1698,2634 1698.25,2616 1698.5,2619 1698.75,2614 1699,2652 1699.25,2631 1699.5,2630 1699.75,2599 1700,2649 1700.25,2650 1700.5,2657 1700.75,2608 1701,2656 1701.25,2619 1701.5,2639 1701.75,2634 1702,2649 1702.25,2603 1702.5,2633 1702.75,2647 1703,2671 1703.25,2628 1703.5,2642 1703.75,2661 1704,2624 1704.25,2626 1704.5,2633 1704.75,2660 1705,2626 1705.25,2638 1705.5,2625 1705.75,2637 1706,2670 1706.25,2648 1706.5,2645 1706.75,2625 1707,2620 1707.25,2653 1707.5,2659 1707.75,2619 1708,2628 1708.25,2625 1708.5,2627 1708.75,2651 1709,2611 1709.25,2656 1709.5,2665 1709.75,2606 1710,2636 1710.25,2630 1710.5,2613 1710.75,2674 1711,2665 1711.25,2623 1711.5,2624 1711.75,2639 1712,2661 1712.25,2658 1712.5,2640 1712.75,2612 1713,2601 1713.25,2634 1713.5,2648 1713.75,2654 1714,2667 1714.25,2635 1714.5,2634 1714.75,2660 1715,2634 1715.25,2654 1715.5,2588 1715.75,2662 1716,2643 1716.25,2644 1716.5,2656 1716.75,2639 1717,2606 1717.25,2628 1717.5,2672 1717.75,2634 1718,2637 1718.25,2627 1718.5,2634 1718.75,2624 1719,2615 1719.25,2637 1719.5,2624 1719.75,2614 1720,2661 1720.25,2633 1720.5,2645 1720.75,2671 1721,2673 1721.25,2628 1721.5,2647 1721.75,2638 1722,2624 1722.25,2644 1722.5,2627 1722.75,2624 1723,2638 1723.25,2644 1723.5,2651 1723.75,2636 1724,2659 1724.25,2630 1724.5,2631 1724.75,2654 1725,2622 1725.25,2650 1725.5,2655 1725.75,2629 1726,2627 1726.25,2641 1726.5,2650 1726.75,2630 1727,2632 1727.25,2608 1727.5,2645 1727.75,2655 1728,2658 1728.25,2638 1728.5,2651 1728.75,2671 1729,2657 1729.25,2644 1729.5,2642 1729.75,2652 1730,2649 1730.25,2637 1730.5,2662 1730.75,2642 1731,2657 1731.25,2634 1731.5,2667 1731.75,2646 1732,2632 1732.25,2629 1732.5,2679 1732.75,2653 1733,2664 1733.25,2635 1733.5,2640 1733.75,2636 1734,2652 1734.25,2640 1734.5,2650 1734.75,2623 1735,2688 1735.25,2621 1735.5,2709 1735.75,2652 1736,2672 1736.25,2645 1736.5,2667 1736.75,2653 1737,2623 1737.25,2627 1737.5,2622 1737.75,2663 1738,2641 1738.25,2645 1738.5,2649 1738.75,2644 1739,2645 1739.25,2630 1739.5,2625 1739.75,2654 1740,2651 1740.25,2646 1740.5,2659 1740.75,2656 1741,2655 1741.25,2673 1741.5,2605 1741.75,2655 1742,2601 1742.25,2663 1742.5,2662 1742.75,2644 1743,2646 1743.25,2661 1743.5,2639 1743.75,2644 1744,2663 1744.25,2600 1744.5,2654 1744.75,2656 1745,2663 1745.25,2657 1745.5,2615 1745.75,2672 1746,2626 1746.25,2596 1746.5,2651 1746.75,2648 1747,2653 1747.25,2660 1747.5,2679 1747.75,2667 1748,2619 1748.25,2657 1748.5,2657 1748.75,2645 1749,2649 1749.25,2645 1749.5,2663 1749.75,2630 1750,2600 1750.25,2645 1750.5,2630 1750.75,2642 1751,2662 1751.25,2625 1751.5,2650 1751.75,2625 1752,2628 1752.25,2635 1752.5,2630 1752.75,2657 1753,2627 1753.25,2646 1753.5,2645 1753.75,2642 1754,2664 1754.25,2671 1754.5,2662 1754.75,2674 1755,2650 1755.25,2673 1755.5,2667 1755.75,2651 1756,2674 1756.25,2633 1756.5,2630 1756.75,2625 1757,2657 1757.25,2625 1757.5,2667 1757.75,2625 1758,2643 1758.25,2649 1758.5,2660 1758.75,2636 1759,2663 1759.25,2667 1759.5,2650 1759.75,2614 1760,2671 1760.25,2643 1760.5,2636 1760.75,2653 1761,2610 1761.25,2668 1761.5,2627 1761.75,2659 1762,2652 1762.25,2635 1762.5,2658 1762.75,2658 1763,2648 1763.25,2653 1763.5,2657 1763.75,2639 1764,2632 1764.25,2650 1764.5,2618 1764.75,2630 1765,2664 1765.25,2664 1765.5,2648 1765.75,2663 1766,2648 1766.25,2637 1766.5,2663 1766.75,2651 1767,2652 1767.25,2649 1767.5,2697 1767.75,2664 1768,2671 1768.25,2649 1768.5,2663 1768.75,2640 1769,2646 1769.25,2649 1769.5,2652 1769.75,2687 1770,2639 1770.25,2671 1770.5,2659 1770.75,2656 1771,2695 1771.25,2650 1771.5,2620 1771.75,2676 1772,2667 1772.25,2623 1772.5,2666 1772.75,2635 1773,2652 1773.25,2679 1773.5,2635 1773.75,2650 1774,2680 1774.25,2653 1774.5,2646 1774.75,2672 1775,2674 1775.25,2676 1775.5,2702 1775.75,2622 1776,2623 1776.25,2644 1776.5,2623 1776.75,2638 1777,2629 1777.25,2668 1777.5,2675 1777.75,2642 1778,2699 1778.25,2689 1778.5,2640 1778.75,2649 1779,2651 1779.25,2667 1779.5,2667 1779.75,2657 1780,2660 1780.25,2660 1780.5,2668 1780.75,2643 1781,2657 1781.25,2638 1781.5,2656 1781.75,2650 1782,2658 1782.25,2620 1782.5,2628 1782.75,2689 1783,2662 1783.25,2640 1783.5,2666 1783.75,2699 1784,2680 1784.25,2636 1784.5,2642 1784.75,2620 1785,2636 1785.25,2676 1785.5,2686 1785.75,2659 1786,2628 1786.25,2609 1786.5,2660 1786.75,2655 1787,2654 1787.25,2656 1787.5,2694 1787.75,2651 1788,2662 1788.25,2669 1788.5,2687 1788.75,2654 1789,2653 1789.25,2669 1789.5,2656 1789.75,2636 1790,2656 1790.25,2653 1790.5,2640 1790.75,2627 1791,2640 1791.25,2646 1791.5,2672 1791.75,2680 1792,2603 1792.25,2660 1792.5,2653 1792.75,2659 1793,2669 1793.25,2640 1793.5,2604 1793.75,2664 1794,2653 1794.25,2669 1794.5,2665 1794.75,2650 1795,2669 1795.25,2652 1795.5,2664 1795.75,2641 1796,2662 1796.25,2663 1796.5,2644 1796.75,2658 1797,2690 1797.25,2648 1797.5,2633 1797.75,2686 1798,2698 1798.25,2662 1798.5,2667 1798.75,2671 1799,2651 1799.25,2675 1799.5,2653 1799.75,2612 1800,2650 1800.25,2663 1800.5,2694 1800.75,2655 1801,2644 1801.25,2659 1801.5,2655 1801.75,2646 1802,2682 1802.25,2666 1802.5,2642 1802.75,2660 1803,2675 1803.25,2628 1803.5,2625 1803.75,2652 1804,2646 1804.25,2637 1804.5,2648 1804.75,2630 1805,2695 1805.25,2663 1805.5,2670 1805.75,2645 1806,2668 1806.25,2605 1806.5,2643 1806.75,2665 1807,2645 1807.25,2657 1807.5,2615 1807.75,2652 1808,2664 1808.25,2669 1808.5,2656 1808.75,2644 1809,2683 1809.25,2639 1809.5,2646 1809.75,2654 1810,2662 1810.25,2668 1810.5,2642 1810.75,2669 1811,2668 1811.25,2632 1811.5,2668 1811.75,2640 1812,2685 1812.25,2692 1812.5,2632 1812.75,2616 1813,2640 1813.25,2651 1813.5,2656 1813.75,2650 1814,2685 1814.25,2664 1814.5,2670 1814.75,2621 1815,2666 1815.25,2650 1815.5,2660 1815.75,2657 1816,2683 1816.25,2631 1816.5,2669 1816.75,2620 1817,2667 1817.25,2658 1817.5,2687 1817.75,2657 1818,2667 1818.25,2643 1818.5,2663 1818.75,2660 1819,2655 1819.25,2653 1819.5,2663 1819.75,2639 1820,2659 1820.25,2682 1820.5,2675 1820.75,2668 1821,2625 1821.25,2636 1821.5,2630 1821.75,2648 1822,2654 1822.25,2672 1822.5,2649 1822.75,2648 1823,2678 1823.25,2652 1823.5,2624 1823.75,2665 1824,2639 1824.25,2660 1824.5,2679 1824.75,2671 1825,2646 1825.25,2655 1825.5,2642 1825.75,2681 1826,2674 1826.25,2662 1826.5,2672 1826.75,2682 1827,2651 1827.25,2671 1827.5,2690 1827.75,2654 1828,2684 1828.25,2671 1828.5,2640 1828.75,2657 1829,2633 1829.25,2672 1829.5,2643 1829.75,2658 1830,2656 1830.25,2698 1830.5,2674 1830.75,2663 1831,2694 1831.25,2646 1831.5,2676 1831.75,2670 1832,2666 1832.25,2678 1832.5,2646 1832.75,2694 1833,2672 1833.25,2673 1833.5,2670 1833.75,2667 1834,2720 1834.25,2662 1834.5,2645 1834.75,2654 1835,2605 1835.25,2671 1835.5,2653 1835.75,2659 1836,2648 1836.25,2675 1836.5,2702 1836.75,2645 1837,2682 1837.25,2675 1837.5,2677 1837.75,2667 1838,2681 1838.25,2687 1838.5,2655 1838.75,2612 1839,2672 1839.25,2652 1839.5,2690 1839.75,2653 1840,2668 1840.25,2614 1840.5,2670 1840.75,2666 1841,2690 1841.25,2671 1841.5,2674 1841.75,2671 1842,2626 1842.25,2683 1842.5,2668 1842.75,2669 1843,2674 1843.25,2653 1843.5,2660 1843.75,2665 1844,2672 1844.25,2689 1844.5,2670 1844.75,2675 1845,2649 1845.25,2702 1845.5,2691 1845.75,2681 1846,2641 1846.25,2676 1846.5,2641 1846.75,2657 1847,2651 1847.25,2642 1847.5,2670 1847.75,2699 1848,2652 1848.25,2684 1848.5,2664 1848.75,2660 1849,2670 1849.25,2674 1849.5,2650 1849.75,2640 1850,2652 1850.25,2606 1850.5,2603 1850.75,2648 1851,2667 1851.25,2658 1851.5,2654 1851.75,2648 1852,2646 1852.25,2661 1852.5,2663 1852.75,2658 1853,2666 1853.25,2679 1853.5,2638 1853.75,2631 1854,2691 1854.25,2642 1854.5,2650 1854.75,2673 1855,2659 1855.25,2686 1855.5,2664 1855.75,2680 1856,2669 1856.25,2675 1856.5,2656 1856.75,2653 1857,2669 1857.25,2645 1857.5,2690 1857.75,2663 1858,2659 1858.25,2697 1858.5,2654 1858.75,2651 1859,2677 1859.25,2661 1859.5,2666 1859.75,2669 1860,2680 1860.25,2659 1860.5,2690 1860.75,2651 1861,2670 1861.25,2659 1861.5,2694 1861.75,2651 1862,2717 1862.25,2650 1862.5,2675 1862.75,2673 1863,2680 1863.25,2678 1863.5,2642 1863.75,2639 1864,2664 1864.25,2671 1864.5,2648 1864.75,2674 1865,2695 1865.25,2671 1865.5,2681 1865.75,2654 1866,2713 1866.25,2668 1866.5,2671 1866.75,2672 1867,2662 1867.25,2669 1867.5,2673 1867.75,2648 1868,2683 1868.25,2679 1868.5,2662 1868.75,2645 1869,2661 1869.25,2648 1869.5,2706 1869.75,2693 1870,2740 1870.25,2664 1870.5,2689 1870.75,2683 1871,2706 1871.25,2632 1871.5,2681 1871.75,2641 1872,2710 1872.25,2630 1872.5,2648 1872.75,2651 1873,2662 1873.25,2663 1873.5,2689 1873.75,2666 1874,2672 1874.25,2675 1874.5,2639 1874.75,2694 1875,2645 1875.25,2682 1875.5,2682 1875.75,2647 1876,2691 1876.25,2681 1876.5,2678 1876.75,2675 1877,2675 1877.25,2683 1877.5,2693 1877.75,2628 1878,2708 1878.25,2677 1878.5,2680 1878.75,2660 1879,2663 1879.25,2682 1879.5,2653 1879.75,2646 1880,2685 1880.25,2676 1880.5,2663 1880.75,2707 1881,2677 1881.25,2680 1881.5,2671 1881.75,2673 1882,2657 1882.25,2700 1882.5,2642 1882.75,2660 1883,2634 1883.25,2665 1883.5,2676 1883.75,2673 1884,2685 1884.25,2661 1884.5,2681 1884.75,2657 1885,2655 1885.25,2670 1885.5,2690 1885.75,2632 1886,2654 1886.25,2655 1886.5,2680 1886.75,2663 1887,2678 1887.25,2696 1887.5,2678 1887.75,2673 1888,2656 1888.25,2643 1888.5,2665 1888.75,2704 1889,2650 1889.25,2671 1889.5,2653 1889.75,2681 1890,2693 1890.25,2647 1890.5,2672 1890.75,2667 1891,2662 1891.25,2652 1891.5,2679 1891.75,2678 1892,2702 1892.25,2659 1892.5,2673 1892.75,2657 1893,2661 1893.25,2712 1893.5,2695 1893.75,2667 1894,2668 1894.25,2675 1894.5,2703 1894.75,2694 1895,2672 1895.25,2649 1895.5,2666 1895.75,2706 1896,2655 1896.25,2667 1896.5,2635 1896.75,2683 1897,2675 1897.25,2708 1897.5,2634 1897.75,2652 1898,2652 1898.25,2688 1898.5,2673 1898.75,2647 1899,2684 1899.25,2613 1899.5,2699 1899.75,2691 1900,2642 1900.25,2656 1900.5,2642 1900.75,2677 1901,2682 1901.25,2655 1901.5,2703 1901.75,2666 1902,2686 1902.25,2683 1902.5,2680 1902.75,2682 1903,2669 1903.25,2658 1903.5,2651 1903.75,2667 1904,2687 1904.25,2707 1904.5,2679 1904.75,2670 1905,2670 1905.25,2673 1905.5,2649 1905.75,2653 1906,2681 1906.25,2694 1906.5,2701 1906.75,2686 1907,2663 1907.25,2697 1907.5,2682 1907.75,2670 1908,2712" fill="none" stroke="#000080" stroke-width="13.5" stroke-linejoin="round" stroke-linecap="butt"/>
<rect x="1493.3" y="1783.2" width="374.4" height="112.5" fill="#fff" stroke="#4a4a4a" stroke-width="3.6"/>
<line x1="1505" y1="1839.4" x2="1682" y2="1839.4" stroke="#000080" stroke-width="15" stroke-linecap="round"/>
<text transform="translate(1703.6,1867.7) scale(1.0,1.045)" font-size="82.5" class="r" >rGO</text>
<text transform="translate(502.2,2040.3) scale(1.0,1.02)" font-size="75" class="r" >002</text>
<text transform="translate(217.0,3295.2) scale(1.0,1.02)" font-size="75" class="b" >10</text>
<text transform="translate(453.4,3295.2) scale(1.0,1.02)" font-size="75" class="b" >20</text>
<text transform="translate(688.9,3295.2) scale(1.0,1.02)" font-size="75" class="b" >30</text>
<text transform="translate(924.5,3295.2) scale(1.0,1.02)" font-size="75" class="b" >40</text>
<text transform="translate(1159.2,3295.2) scale(1.0,1.02)" font-size="75" class="b" >50</text>
<text transform="translate(1394.2,3295.2) scale(1.0,1.02)" font-size="75" class="b" >60</text>
<text transform="translate(1629.0,3295.2) scale(1.0,1.02)" font-size="75" class="b" >70</text>
<text transform="translate(1864.8,3295.2) scale(1.0,1.02)" font-size="75" class="b" >80</text>
<text transform="translate(618.3,3375.2) scale(1.0,1.04)" font-size="88" class="b" >Position 2</text>
<text transform="translate(1062.8,3376.5) scale(1.15,1.0)" font-size="87" class="s" >θ</text>
<text transform="translate(1135.2,3375.2) scale(1.0,1.04)" font-size="88" class="b" >(degree)</text>
<text transform="translate(104.6,2717.1) rotate(-90) scale(1,1.04)" font-size="93.6" class="b">Intensity (a.u.)</text>
</g>
<text y="3550" font-size="86.7" class="s"><tspan x="921">(</tspan><tspan x="947.5" font-weight="bold">b</tspan><tspan x="999.4">)</tspan></text>
</svg>
</body></html>
